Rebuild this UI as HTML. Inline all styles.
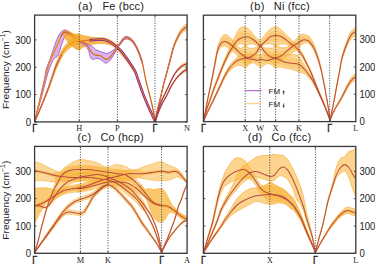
<!DOCTYPE html>
<html><head><meta charset="utf-8"><style>
html,body{margin:0;padding:0;background:#fff;width:375px;height:264px;overflow:hidden}
svg{display:block}
.tk{font-family:"Liberation Sans",sans-serif;font-size:9.6px;fill:#222}
.tt{font-family:"Liberation Sans",sans-serif;font-size:11px;fill:#222}
.xl{font-family:"Liberation Serif",serif;font-size:8.4px;fill:#222}
.xg{font-family:"Liberation Sans",sans-serif;font-size:9.4px;stroke:#222;stroke-width:0.35px}
.yl{font-family:"Liberation Sans",sans-serif;font-size:9.6px;fill:#222}
.lg{font-family:"Liberation Sans",sans-serif;font-size:8px;fill:#222}
</style></head><body>
<svg width="375" height="264" viewBox="0 0 375 264">
<rect width="375" height="264" fill="#fff"/>
<clipPath id="cpa"><rect x="34.6" y="15.1" width="152.50" height="106.80"/></clipPath>
<g clip-path="url(#cpa)">
<path d="M34.60,121.90 C35.17,119.42 36.85,111.98 38.00,107.00 C39.15,102.02 40.42,96.67 41.50,92.00 C42.58,87.33 43.70,82.83 44.50,79.00 C45.30,75.17 45.32,72.48 46.30,69.00 C47.28,65.52 49.03,61.97 50.40,58.10 C51.77,54.23 53.30,49.22 54.50,45.80 C55.70,42.38 56.57,39.82 57.60,37.60 C58.63,35.38 59.67,33.77 60.70,32.50 C61.73,31.23 62.77,30.35 63.80,30.00 C64.83,29.65 65.70,29.88 66.90,30.40 C68.10,30.92 69.63,32.07 71.00,33.10 C72.37,34.13 73.67,35.58 75.10,36.60 C76.53,37.62 78.85,38.77 79.60,39.20 L79.60,40.70 C79.00,40.38 77.27,39.48 76.00,38.80 C74.73,38.12 73.35,37.32 72.00,36.60 C70.65,35.88 69.10,34.50 67.90,34.50 C66.70,34.50 65.67,35.40 64.80,36.60 C63.93,37.80 63.30,40.13 62.70,41.70 C62.10,43.27 61.70,44.47 61.20,46.00 C60.70,47.53 60.30,49.22 59.70,50.90 C59.10,52.58 58.47,54.90 57.60,56.10 C56.73,57.30 55.35,57.25 54.50,58.10 C53.65,58.95 53.18,59.88 52.50,61.20 C51.82,62.52 51.07,64.37 50.40,66.00 C49.73,67.63 49.23,68.67 48.50,71.00 C47.77,73.33 47.00,76.25 46.00,80.00 C45.00,83.75 43.75,88.83 42.50,93.50 C41.25,98.17 39.82,103.27 38.50,108.00 C37.18,112.73 35.25,119.58 34.60,121.90 Z" fill="#c08ae0" fill-opacity="0.65" stroke="none"/><path d="M34.60,121.90 C35.17,119.42 36.85,111.98 38.00,107.00 C39.15,102.02 40.42,96.67 41.50,92.00 C42.58,87.33 43.70,82.83 44.50,79.00 C45.30,75.17 45.32,72.48 46.30,69.00 C47.28,65.52 49.03,61.97 50.40,58.10 C51.77,54.23 53.30,49.22 54.50,45.80 C55.70,42.38 56.57,39.82 57.60,37.60 C58.63,35.38 59.67,33.77 60.70,32.50 C61.73,31.23 62.77,30.35 63.80,30.00 C64.83,29.65 65.70,29.88 66.90,30.40 C68.10,30.92 69.63,32.07 71.00,33.10 C72.37,34.13 73.67,35.58 75.10,36.60 C76.53,37.62 78.85,38.77 79.60,39.20" fill="none" stroke="#9c4dcc" stroke-width="0.9" stroke-opacity="0.9"/><path d="M79.60,40.70 C79.00,40.38 77.27,39.48 76.00,38.80 C74.73,38.12 73.35,37.32 72.00,36.60 C70.65,35.88 69.10,34.50 67.90,34.50 C66.70,34.50 65.67,35.40 64.80,36.60 C63.93,37.80 63.30,40.13 62.70,41.70 C62.10,43.27 61.70,44.47 61.20,46.00 C60.70,47.53 60.30,49.22 59.70,50.90 C59.10,52.58 58.47,54.90 57.60,56.10 C56.73,57.30 55.35,57.25 54.50,58.10 C53.65,58.95 53.18,59.88 52.50,61.20 C51.82,62.52 51.07,64.37 50.40,66.00 C49.73,67.63 49.23,68.67 48.50,71.00 C47.77,73.33 47.00,76.25 46.00,80.00 C45.00,83.75 43.75,88.83 42.50,93.50 C41.25,98.17 39.82,103.27 38.50,108.00 C37.18,112.73 35.25,119.58 34.60,121.90" fill="none" stroke="#9c4dcc" stroke-width="0.9" stroke-opacity="0.9"/>
<path d="M34.60,121.70 C35.17,119.27 36.85,111.98 38.00,107.10 C39.15,102.22 40.33,97.28 41.50,92.40 C42.67,87.52 44.00,81.83 45.00,77.80 C46.00,73.77 46.75,70.90 47.50,68.20 C48.25,65.50 48.82,63.53 49.50,61.60 C50.18,59.67 50.78,58.42 51.60,56.60 C52.42,54.78 53.57,52.55 54.40,50.70 C55.23,48.85 55.85,47.23 56.60,45.50 C57.35,43.77 58.13,42.08 58.90,40.30 C59.67,38.52 60.43,36.27 61.20,34.80 C61.97,33.33 62.73,32.18 63.50,31.50 C64.27,30.82 64.97,30.77 65.80,30.70 C66.63,30.63 67.58,30.80 68.50,31.10 C69.42,31.40 70.38,32.02 71.30,32.50 C72.22,32.98 73.10,33.48 74.00,34.00 C74.90,34.52 75.82,35.10 76.70,35.60 C77.58,36.10 78.87,36.77 79.30,37.00 L79.30,43.00 C78.87,42.73 77.58,42.00 76.70,41.40 C75.82,40.80 74.90,40.08 74.00,39.40 C73.10,38.72 72.22,38.02 71.30,37.30 C70.38,36.58 69.42,35.70 68.50,35.10 C67.58,34.50 66.63,33.93 65.80,33.70 C64.97,33.47 64.27,33.18 63.50,33.70 C62.73,34.22 61.97,35.37 61.20,36.80 C60.43,38.23 59.67,40.52 58.90,42.30 C58.13,44.08 57.35,45.77 56.60,47.50 C55.85,49.23 55.23,50.88 54.40,52.70 C53.57,54.52 52.42,56.62 51.60,58.40 C50.78,60.18 50.18,61.50 49.50,63.40 C48.82,65.30 48.25,67.17 47.50,69.80 C46.75,72.43 46.00,75.23 45.00,79.20 C44.00,83.17 42.67,88.82 41.50,93.60 C40.33,98.38 39.15,103.15 38.00,107.90 C36.85,112.65 35.17,119.73 34.60,122.10 Z" fill="#f9b232" fill-opacity="0.75" stroke="none"/><path d="M34.60,121.70 C35.17,119.27 36.85,111.98 38.00,107.10 C39.15,102.22 40.33,97.28 41.50,92.40 C42.67,87.52 44.00,81.83 45.00,77.80 C46.00,73.77 46.75,70.90 47.50,68.20 C48.25,65.50 48.82,63.53 49.50,61.60 C50.18,59.67 50.78,58.42 51.60,56.60 C52.42,54.78 53.57,52.55 54.40,50.70 C55.23,48.85 55.85,47.23 56.60,45.50 C57.35,43.77 58.13,42.08 58.90,40.30 C59.67,38.52 60.43,36.27 61.20,34.80 C61.97,33.33 62.73,32.18 63.50,31.50 C64.27,30.82 64.97,30.77 65.80,30.70 C66.63,30.63 67.58,30.80 68.50,31.10 C69.42,31.40 70.38,32.02 71.30,32.50 C72.22,32.98 73.10,33.48 74.00,34.00 C74.90,34.52 75.82,35.10 76.70,35.60 C77.58,36.10 78.87,36.77 79.30,37.00" fill="none" stroke="#f39c12" stroke-width="0.5" stroke-opacity="0.9"/><path d="M79.30,43.00 C78.87,42.73 77.58,42.00 76.70,41.40 C75.82,40.80 74.90,40.08 74.00,39.40 C73.10,38.72 72.22,38.02 71.30,37.30 C70.38,36.58 69.42,35.70 68.50,35.10 C67.58,34.50 66.63,33.93 65.80,33.70 C64.97,33.47 64.27,33.18 63.50,33.70 C62.73,34.22 61.97,35.37 61.20,36.80 C60.43,38.23 59.67,40.52 58.90,42.30 C58.13,44.08 57.35,45.77 56.60,47.50 C55.85,49.23 55.23,50.88 54.40,52.70 C53.57,54.52 52.42,56.62 51.60,58.40 C50.78,60.18 50.18,61.50 49.50,63.40 C48.82,65.30 48.25,67.17 47.50,69.80 C46.75,72.43 46.00,75.23 45.00,79.20 C44.00,83.17 42.67,88.82 41.50,93.60 C40.33,98.38 39.15,103.15 38.00,107.90 C36.85,112.65 35.17,119.73 34.60,122.10" fill="none" stroke="#f39c12" stroke-width="0.5" stroke-opacity="0.9"/>
<path d="M34.60,121.90 C35.17,119.50 36.85,112.32 38.00,107.50 C39.15,102.68 40.33,97.83 41.50,93.00 C42.67,88.17 44.00,82.50 45.00,78.50 C46.00,74.50 46.75,71.67 47.50,69.00 C48.25,66.33 48.82,64.42 49.50,62.50 C50.18,60.58 50.78,59.30 51.60,57.50 C52.42,55.70 53.57,53.53 54.40,51.70 C55.23,49.87 55.85,48.23 56.60,46.50 C57.35,44.77 58.13,43.08 58.90,41.30 C59.67,39.52 60.43,37.25 61.20,35.80 C61.97,34.35 62.73,33.20 63.50,32.60 C64.27,32.00 64.97,32.12 65.80,32.20 C66.63,32.28 67.58,32.65 68.50,33.10 C69.42,33.55 70.38,34.30 71.30,34.90 C72.22,35.50 73.10,36.10 74.00,36.70 C74.90,37.30 75.82,37.95 76.70,38.50 C77.58,39.05 78.87,39.75 79.30,40.00" fill="none" stroke="#ea7a12" stroke-width="0.9" stroke-opacity="1.0" stroke-linecap="round" stroke-linejoin="round"/>
<path d="M61.20,35.80 C61.58,35.27 62.73,33.20 63.50,32.60 C64.27,32.00 64.97,32.12 65.80,32.20 C66.63,32.28 67.58,32.65 68.50,33.10 C69.42,33.55 70.38,34.30 71.30,34.90 C72.22,35.50 73.10,36.10 74.00,36.70 C74.90,37.30 75.82,37.95 76.70,38.50 C77.58,39.05 78.87,39.75 79.30,40.00" fill="none" stroke="#b8452c" stroke-width="1.6" stroke-opacity="0.55" stroke-linecap="round" stroke-linejoin="round"/>
<path d="M34.60,121.70 C35.50,119.53 38.27,113.03 40.00,108.70 C41.73,104.37 43.45,99.80 45.00,95.70 C46.55,91.60 48.02,87.80 49.30,84.10 C50.58,80.40 51.65,76.77 52.70,73.50 C53.75,70.23 54.65,67.13 55.60,64.50 C56.55,61.87 57.37,60.03 58.40,57.70 C59.43,55.37 60.62,52.62 61.80,50.50 C62.98,48.38 64.13,46.62 65.50,45.00 C66.87,43.38 68.50,41.97 70.00,40.80 C71.50,39.63 72.95,38.63 74.50,38.00 C76.05,37.37 78.50,37.17 79.30,37.00 L79.30,44.00 C78.50,44.17 76.05,44.37 74.50,45.00 C72.95,45.63 71.50,46.63 70.00,47.80 C68.50,48.97 66.87,50.38 65.50,52.00 C64.13,53.62 62.98,55.45 61.80,57.50 C60.62,59.55 59.43,62.13 58.40,64.30 C57.37,66.47 56.55,68.13 55.60,70.50 C54.65,72.87 53.75,75.60 52.70,78.50 C51.65,81.40 50.58,84.60 49.30,87.90 C48.02,91.20 46.55,94.57 45.00,98.30 C43.45,102.03 41.73,106.33 40.00,110.30 C38.27,114.27 35.50,120.13 34.60,122.10 Z" fill="#f9b232" fill-opacity="0.8" stroke="none"/><path d="M34.60,121.70 C35.50,119.53 38.27,113.03 40.00,108.70 C41.73,104.37 43.45,99.80 45.00,95.70 C46.55,91.60 48.02,87.80 49.30,84.10 C50.58,80.40 51.65,76.77 52.70,73.50 C53.75,70.23 54.65,67.13 55.60,64.50 C56.55,61.87 57.37,60.03 58.40,57.70 C59.43,55.37 60.62,52.62 61.80,50.50 C62.98,48.38 64.13,46.62 65.50,45.00 C66.87,43.38 68.50,41.97 70.00,40.80 C71.50,39.63 72.95,38.63 74.50,38.00 C76.05,37.37 78.50,37.17 79.30,37.00" fill="none" stroke="#f39c12" stroke-width="0.6" stroke-opacity="0.9"/><path d="M79.30,44.00 C78.50,44.17 76.05,44.37 74.50,45.00 C72.95,45.63 71.50,46.63 70.00,47.80 C68.50,48.97 66.87,50.38 65.50,52.00 C64.13,53.62 62.98,55.45 61.80,57.50 C60.62,59.55 59.43,62.13 58.40,64.30 C57.37,66.47 56.55,68.13 55.60,70.50 C54.65,72.87 53.75,75.60 52.70,78.50 C51.65,81.40 50.58,84.60 49.30,87.90 C48.02,91.20 46.55,94.57 45.00,98.30 C43.45,102.03 41.73,106.33 40.00,110.30 C38.27,114.27 35.50,120.13 34.60,122.10" fill="none" stroke="#f39c12" stroke-width="0.6" stroke-opacity="0.9"/>
<path d="M34.10,122.90 C35.00,120.83 37.77,114.65 39.50,110.50 C41.23,106.35 42.95,101.92 44.50,98.00 C46.05,94.08 47.52,90.50 48.80,87.00 C50.08,83.50 51.15,80.08 52.20,77.00 C53.25,73.92 54.15,71.00 55.10,68.50 C56.05,66.00 56.87,64.25 57.90,62.00 C58.93,59.75 60.73,56.17 61.30,55.00" fill="none" stroke="#7b1fa2" stroke-width="1.1" stroke-opacity="1.0" stroke-linecap="round" stroke-linejoin="round"/>
<path d="M34.60,121.90 C35.50,119.83 38.27,113.65 40.00,109.50 C41.73,105.35 43.45,100.92 45.00,97.00 C46.55,93.08 48.02,89.50 49.30,86.00 C50.58,82.50 51.65,79.08 52.70,76.00 C53.75,72.92 54.65,70.00 55.60,67.50 C56.55,65.00 57.37,63.25 58.40,61.00 C59.43,58.75 60.62,56.08 61.80,54.00 C62.98,51.92 64.13,50.12 65.50,48.50 C66.87,46.88 68.50,45.47 70.00,44.30 C71.50,43.13 72.95,42.13 74.50,41.50 C76.05,40.87 78.50,40.67 79.30,40.50" fill="none" stroke="#ea7a12" stroke-width="1.0" stroke-opacity="1.0" stroke-linecap="round" stroke-linejoin="round"/>
<path d="M64.00,34.50 C64.50,34.58 66.00,35.00 67.00,35.00 C68.00,35.00 69.00,34.67 70.00,34.50 C71.00,34.33 72.00,34.08 73.00,34.00 C74.00,33.92 74.95,34.00 76.00,34.00 C77.05,34.00 78.30,33.83 79.30,34.00 C80.30,34.17 80.95,34.67 82.00,35.00 C83.05,35.33 84.23,35.67 85.60,36.00 C86.97,36.33 88.68,36.73 90.20,37.00 C91.72,37.27 93.18,37.50 94.70,37.60 C96.22,37.70 97.58,37.50 99.30,37.60 C101.02,37.70 103.05,37.73 105.00,38.20 C106.95,38.67 108.98,39.22 111.00,40.40 C113.02,41.58 115.43,43.57 117.10,45.30 C118.77,47.03 119.52,48.80 121.00,50.80 C122.48,52.80 124.33,55.03 126.00,57.30 C127.67,59.57 129.47,62.07 131.00,64.40 C132.53,66.73 134.50,70.15 135.20,71.30 L135.20,73.70 C134.50,72.62 132.53,69.43 131.00,67.20 C129.47,64.97 127.67,62.47 126.00,60.30 C124.33,58.13 122.48,56.03 121.00,54.20 C119.52,52.37 118.77,50.80 117.10,49.30 C115.43,47.80 113.02,46.12 111.00,45.20 C108.98,44.28 106.95,44.07 105.00,43.80 C103.05,43.53 101.02,43.57 99.30,43.60 C97.58,43.63 96.22,43.83 94.70,44.00 C93.18,44.17 91.72,44.27 90.20,44.60 C88.68,44.93 86.97,45.43 85.60,46.00 C84.23,46.57 83.05,47.33 82.00,48.00 C80.95,48.67 80.30,49.83 79.30,50.00 C78.30,50.17 77.05,49.50 76.00,49.00 C74.95,48.50 74.00,47.75 73.00,47.00 C72.00,46.25 71.00,45.50 70.00,44.50 C69.00,43.50 68.00,42.17 67.00,41.00 C66.00,39.83 64.50,38.08 64.00,37.50 Z" fill="#f6a623" fill-opacity="0.8" stroke="none"/><path d="M64.00,34.50 C64.50,34.58 66.00,35.00 67.00,35.00 C68.00,35.00 69.00,34.67 70.00,34.50 C71.00,34.33 72.00,34.08 73.00,34.00 C74.00,33.92 74.95,34.00 76.00,34.00 C77.05,34.00 78.30,33.83 79.30,34.00 C80.30,34.17 80.95,34.67 82.00,35.00 C83.05,35.33 84.23,35.67 85.60,36.00 C86.97,36.33 88.68,36.73 90.20,37.00 C91.72,37.27 93.18,37.50 94.70,37.60 C96.22,37.70 97.58,37.50 99.30,37.60 C101.02,37.70 103.05,37.73 105.00,38.20 C106.95,38.67 108.98,39.22 111.00,40.40 C113.02,41.58 115.43,43.57 117.10,45.30 C118.77,47.03 119.52,48.80 121.00,50.80 C122.48,52.80 124.33,55.03 126.00,57.30 C127.67,59.57 129.47,62.07 131.00,64.40 C132.53,66.73 134.50,70.15 135.20,71.30" fill="none" stroke="#f39c12" stroke-width="0.6" stroke-opacity="0.9"/><path d="M135.20,73.70 C134.50,72.62 132.53,69.43 131.00,67.20 C129.47,64.97 127.67,62.47 126.00,60.30 C124.33,58.13 122.48,56.03 121.00,54.20 C119.52,52.37 118.77,50.80 117.10,49.30 C115.43,47.80 113.02,46.12 111.00,45.20 C108.98,44.28 106.95,44.07 105.00,43.80 C103.05,43.53 101.02,43.57 99.30,43.60 C97.58,43.63 96.22,43.83 94.70,44.00 C93.18,44.17 91.72,44.27 90.20,44.60 C88.68,44.93 86.97,45.43 85.60,46.00 C84.23,46.57 83.05,47.33 82.00,48.00 C80.95,48.67 80.30,49.83 79.30,50.00 C78.30,50.17 77.05,49.50 76.00,49.00 C74.95,48.50 74.00,47.75 73.00,47.00 C72.00,46.25 71.00,45.50 70.00,44.50 C69.00,43.50 68.00,42.17 67.00,41.00 C66.00,39.83 64.50,38.08 64.00,37.50" fill="none" stroke="#f39c12" stroke-width="0.6" stroke-opacity="0.9"/>
<path d="M90.00,40.20 C91.00,40.13 93.87,39.90 96.00,39.80 C98.13,39.70 100.98,39.47 102.80,39.60 C104.62,39.73 105.30,39.95 106.90,40.60 C108.50,41.25 110.70,42.40 112.40,43.50 C114.10,44.60 115.52,45.82 117.10,47.20 C118.68,48.58 120.42,50.12 121.90,51.80 C123.38,53.48 124.48,55.15 126.00,57.30 C127.52,59.45 129.47,62.33 131.00,64.70 C132.53,67.07 134.05,69.08 135.20,71.50 C136.35,73.92 136.53,75.35 137.90,79.20 C139.27,83.05 141.57,89.83 143.40,94.60 C145.23,99.37 147.47,104.48 148.90,107.80 C150.33,111.12 150.95,112.20 152.00,114.50 C153.05,116.80 154.67,120.42 155.20,121.60" fill="none" stroke="#7b1fa2" stroke-width="2.6" stroke-opacity="1.0" stroke-linecap="round" stroke-linejoin="round"/>
<path d="M79.30,41.00 C80.08,40.93 82.22,40.73 84.00,40.60 C85.78,40.47 88.00,40.33 90.00,40.20 C92.00,40.07 93.87,39.90 96.00,39.80 C98.13,39.70 100.98,39.47 102.80,39.60 C104.62,39.73 105.30,39.95 106.90,40.60 C108.50,41.25 110.70,42.40 112.40,43.50 C114.10,44.60 115.52,45.82 117.10,47.20 C118.68,48.58 120.42,50.12 121.90,51.80 C123.38,53.48 124.48,55.15 126.00,57.30 C127.52,59.45 129.47,62.33 131.00,64.70 C132.53,67.07 134.05,69.08 135.20,71.50 C136.35,73.92 136.53,75.35 137.90,79.20 C139.27,83.05 141.57,89.83 143.40,94.60 C145.23,99.37 147.47,104.48 148.90,107.80 C150.33,111.12 150.95,112.20 152.00,114.50 C153.05,116.80 154.67,120.42 155.20,121.60" fill="none" stroke="#ea7a12" stroke-width="1.1" stroke-opacity="1.0" stroke-linecap="round" stroke-linejoin="round"/>
<path d="M79.30,41.50 C79.92,41.67 81.88,42.17 83.00,42.50 C84.12,42.83 85.08,43.13 86.00,43.50 C86.92,43.87 87.67,44.35 88.50,44.70 C89.33,45.05 90.17,45.17 91.00,45.60 C91.83,46.03 92.70,46.63 93.50,47.30 C94.30,47.97 94.62,48.88 95.80,49.60 C96.98,50.32 98.98,50.98 100.60,51.60 C102.22,52.22 104.08,53.10 105.50,53.30 C106.92,53.50 107.70,53.42 109.10,52.80 C110.50,52.18 112.68,50.52 113.90,49.60 C115.12,48.68 115.63,48.10 116.40,47.30 C117.17,46.50 117.80,45.77 118.50,44.80 C119.20,43.83 119.80,42.63 120.60,41.50 C121.40,40.37 122.40,38.85 123.30,38.00 C124.20,37.15 125.00,36.53 126.00,36.40 C127.00,36.27 128.18,36.60 129.30,37.20 C130.42,37.80 131.58,38.70 132.70,40.00 C133.82,41.30 134.90,42.92 136.00,45.00 C137.10,47.08 138.22,49.67 139.30,52.50 C140.38,55.33 141.97,60.42 142.50,62.00 L142.50,64.50 C141.97,62.92 140.38,57.82 139.30,55.00 C138.22,52.18 137.10,49.67 136.00,47.60 C134.90,45.53 133.82,43.90 132.70,42.60 C131.58,41.30 130.42,40.40 129.30,39.80 C128.18,39.20 127.00,38.87 126.00,39.00 C125.00,39.13 124.20,39.73 123.30,40.60 C122.40,41.47 121.40,43.17 120.60,44.20 C119.80,45.23 119.20,45.83 118.50,46.80 C117.80,47.77 117.17,48.70 116.40,50.00 C115.63,51.30 114.92,52.92 113.90,54.60 C112.88,56.28 111.50,58.70 110.30,60.10 C109.10,61.50 107.72,62.62 106.70,63.00 C105.68,63.38 105.22,62.97 104.20,62.40 C103.18,61.83 101.80,60.27 100.60,59.60 C99.40,58.93 98.02,58.48 97.00,58.40 C95.98,58.32 95.32,58.95 94.50,59.10 C93.68,59.25 92.80,59.68 92.10,59.30 C91.40,58.92 90.90,58.30 90.30,56.80 C89.70,55.30 89.22,52.02 88.50,50.30 C87.78,48.58 86.92,47.52 86.00,46.50 C85.08,45.48 84.12,45.03 83.00,44.20 C81.88,43.37 79.92,41.95 79.30,41.50 Z" fill="#c08ae0" fill-opacity="0.65" stroke="none"/><path d="M79.30,41.50 C79.92,41.67 81.88,42.17 83.00,42.50 C84.12,42.83 85.08,43.13 86.00,43.50 C86.92,43.87 87.67,44.35 88.50,44.70 C89.33,45.05 90.17,45.17 91.00,45.60 C91.83,46.03 92.70,46.63 93.50,47.30 C94.30,47.97 94.62,48.88 95.80,49.60 C96.98,50.32 98.98,50.98 100.60,51.60 C102.22,52.22 104.08,53.10 105.50,53.30 C106.92,53.50 107.70,53.42 109.10,52.80 C110.50,52.18 112.68,50.52 113.90,49.60 C115.12,48.68 115.63,48.10 116.40,47.30 C117.17,46.50 117.80,45.77 118.50,44.80 C119.20,43.83 119.80,42.63 120.60,41.50 C121.40,40.37 122.40,38.85 123.30,38.00 C124.20,37.15 125.00,36.53 126.00,36.40 C127.00,36.27 128.18,36.60 129.30,37.20 C130.42,37.80 131.58,38.70 132.70,40.00 C133.82,41.30 134.90,42.92 136.00,45.00 C137.10,47.08 138.22,49.67 139.30,52.50 C140.38,55.33 141.97,60.42 142.50,62.00" fill="none" stroke="#9c4dcc" stroke-width="0.9" stroke-opacity="0.9"/><path d="M142.50,64.50 C141.97,62.92 140.38,57.82 139.30,55.00 C138.22,52.18 137.10,49.67 136.00,47.60 C134.90,45.53 133.82,43.90 132.70,42.60 C131.58,41.30 130.42,40.40 129.30,39.80 C128.18,39.20 127.00,38.87 126.00,39.00 C125.00,39.13 124.20,39.73 123.30,40.60 C122.40,41.47 121.40,43.17 120.60,44.20 C119.80,45.23 119.20,45.83 118.50,46.80 C117.80,47.77 117.17,48.70 116.40,50.00 C115.63,51.30 114.92,52.92 113.90,54.60 C112.88,56.28 111.50,58.70 110.30,60.10 C109.10,61.50 107.72,62.62 106.70,63.00 C105.68,63.38 105.22,62.97 104.20,62.40 C103.18,61.83 101.80,60.27 100.60,59.60 C99.40,58.93 98.02,58.48 97.00,58.40 C95.98,58.32 95.32,58.95 94.50,59.10 C93.68,59.25 92.80,59.68 92.10,59.30 C91.40,58.92 90.90,58.30 90.30,56.80 C89.70,55.30 89.22,52.02 88.50,50.30 C87.78,48.58 86.92,47.52 86.00,46.50 C85.08,45.48 84.12,45.03 83.00,44.20 C81.88,43.37 79.92,41.95 79.30,41.50" fill="none" stroke="#9c4dcc" stroke-width="0.9" stroke-opacity="0.9"/>
<path d="M79.30,41.50 C80.22,41.68 83.27,41.63 84.80,42.60 C86.33,43.57 87.28,45.53 88.50,47.30 C89.72,49.07 90.88,51.90 92.10,53.20 C93.32,54.50 94.38,54.67 95.80,55.10 C97.22,55.53 99.20,55.22 100.60,55.80 C102.00,56.38 103.18,58.02 104.20,58.60 C105.22,59.18 105.68,59.57 106.70,59.30 C107.72,59.03 109.10,58.18 110.30,57.00 C111.50,55.82 112.88,53.53 113.90,52.20 C114.92,50.87 115.63,50.07 116.40,49.00 C117.17,47.93 118.15,46.33 118.50,45.80" fill="none" stroke="#ea7a12" stroke-width="1.1" stroke-opacity="1.0" stroke-linecap="round" stroke-linejoin="round"/>
<path d="M84.80,42.60 C85.42,43.38 87.28,45.53 88.50,47.30 C89.72,49.07 90.88,51.90 92.10,53.20 C93.32,54.50 94.38,54.67 95.80,55.10 C97.22,55.53 99.20,55.22 100.60,55.80 C102.00,56.38 103.18,58.02 104.20,58.60 C105.22,59.18 105.68,59.57 106.70,59.30 C107.72,59.03 109.10,58.18 110.30,57.00 C111.50,55.82 112.88,53.53 113.90,52.20 C114.92,50.87 115.98,49.53 116.40,49.00" fill="none" stroke="#b8452c" stroke-width="0.7" stroke-opacity="0.6" stroke-linecap="round" stroke-linejoin="round"/>
<path d="M116.40,48.10 C116.75,47.57 117.80,45.93 118.50,44.90 C119.20,43.87 119.80,42.98 120.60,41.90 C121.40,40.82 122.40,39.25 123.30,38.40 C124.20,37.55 125.00,36.93 126.00,36.80 C127.00,36.67 128.18,37.00 129.30,37.60 C130.42,38.20 131.58,39.10 132.70,40.40 C133.82,41.70 134.90,43.33 136.00,45.40 C137.10,47.47 138.22,49.98 139.30,52.80 C140.38,55.62 141.97,60.72 142.50,62.30 L142.50,64.10 C141.97,62.52 140.38,57.42 139.30,54.60 C138.22,51.78 137.10,49.27 136.00,47.20 C134.90,45.13 133.82,43.50 132.70,42.20 C131.58,40.90 130.42,40.00 129.30,39.40 C128.18,38.80 127.00,38.47 126.00,38.60 C125.00,38.73 124.20,39.35 123.30,40.20 C122.40,41.05 121.40,42.62 120.60,43.70 C119.80,44.78 119.20,45.67 118.50,46.70 C117.80,47.73 116.75,49.37 116.40,49.90 Z" fill="#f9b232" fill-opacity="0.6" stroke="none"/>
<path d="M116.40,49.00 C116.75,48.47 117.80,46.83 118.50,45.80 C119.20,44.77 119.80,43.88 120.60,42.80 C121.40,41.72 122.40,40.15 123.30,39.30 C124.20,38.45 125.00,37.83 126.00,37.70 C127.00,37.57 128.18,37.90 129.30,38.50 C130.42,39.10 131.58,40.00 132.70,41.30 C133.82,42.60 134.90,44.23 136.00,46.30 C137.10,48.37 138.22,50.88 139.30,53.70 C140.38,56.52 141.45,58.95 142.50,63.20 C143.55,67.45 144.53,74.33 145.60,79.20 C146.67,84.07 147.80,88.00 148.90,92.40 C150.00,96.80 151.15,100.73 152.20,105.60 C153.25,110.47 154.70,118.93 155.20,121.60" fill="none" stroke="#ea7a12" stroke-width="1.2" stroke-opacity="1.0" stroke-linecap="round" stroke-linejoin="round"/>
<path d="M116.40,49.00 C116.75,48.47 117.80,46.83 118.50,45.80 C119.20,44.77 119.80,43.88 120.60,42.80 C121.40,41.72 122.40,40.15 123.30,39.30 C124.20,38.45 125.00,37.83 126.00,37.70 C127.00,37.57 128.18,37.90 129.30,38.50 C130.42,39.10 131.58,40.00 132.70,41.30 C133.82,42.60 134.90,44.23 136.00,46.30 C137.10,48.37 138.22,50.88 139.30,53.70 C140.38,56.52 141.45,58.95 142.50,63.20 C143.55,67.45 144.53,74.33 145.60,79.20 C146.67,84.07 147.80,88.00 148.90,92.40 C150.00,96.80 151.15,100.73 152.20,105.60 C153.25,110.47 154.70,118.93 155.20,121.60" fill="none" stroke="#b8452c" stroke-width="0.7" stroke-opacity="0.7" stroke-linecap="round" stroke-linejoin="round"/>
<path d="M155.20,121.40 C155.58,119.43 156.58,113.77 157.50,109.60 C158.42,105.43 159.75,100.47 160.70,96.40 C161.65,92.33 162.40,88.52 163.20,85.20 C164.00,81.88 164.70,79.57 165.50,76.50 C166.30,73.43 167.22,69.78 168.00,66.80 C168.78,63.82 169.27,62.18 170.20,58.60 C171.13,55.02 172.37,49.15 173.60,45.30 C174.83,41.45 176.28,38.32 177.60,35.50 C178.92,32.68 180.20,30.25 181.50,28.40 C182.80,26.55 184.40,25.28 185.40,24.40 C186.40,23.52 187.15,23.32 187.50,23.10 L187.50,30.10 C187.15,30.22 186.40,30.22 185.40,30.80 C184.40,31.38 182.80,32.15 181.50,33.60 C180.20,35.05 178.92,36.98 177.60,39.50 C176.28,42.02 174.83,45.05 173.60,48.70 C172.37,52.35 171.13,57.98 170.20,61.40 C169.27,64.82 168.78,66.35 168.00,69.20 C167.22,72.05 166.30,75.57 165.50,78.50 C164.70,81.43 164.00,83.62 163.20,86.80 C162.40,89.98 161.65,93.67 160.70,97.60 C159.75,101.53 158.42,106.37 157.50,110.40 C156.58,114.43 155.58,119.90 155.20,121.80 Z" fill="#f9b232" fill-opacity="0.6" stroke="none"/><path d="M155.20,121.40 C155.58,119.43 156.58,113.77 157.50,109.60 C158.42,105.43 159.75,100.47 160.70,96.40 C161.65,92.33 162.40,88.52 163.20,85.20 C164.00,81.88 164.70,79.57 165.50,76.50 C166.30,73.43 167.22,69.78 168.00,66.80 C168.78,63.82 169.27,62.18 170.20,58.60 C171.13,55.02 172.37,49.15 173.60,45.30 C174.83,41.45 176.28,38.32 177.60,35.50 C178.92,32.68 180.20,30.25 181.50,28.40 C182.80,26.55 184.40,25.28 185.40,24.40 C186.40,23.52 187.15,23.32 187.50,23.10" fill="none" stroke="#f39c12" stroke-width="0.6" stroke-opacity="0.9"/><path d="M187.50,30.10 C187.15,30.22 186.40,30.22 185.40,30.80 C184.40,31.38 182.80,32.15 181.50,33.60 C180.20,35.05 178.92,36.98 177.60,39.50 C176.28,42.02 174.83,45.05 173.60,48.70 C172.37,52.35 171.13,57.98 170.20,61.40 C169.27,64.82 168.78,66.35 168.00,69.20 C167.22,72.05 166.30,75.57 165.50,78.50 C164.70,81.43 164.00,83.62 163.20,86.80 C162.40,89.98 161.65,93.67 160.70,97.60 C159.75,101.53 158.42,106.37 157.50,110.40 C156.58,114.43 155.58,119.90 155.20,121.80" fill="none" stroke="#f39c12" stroke-width="0.6" stroke-opacity="0.9"/>
<path d="M155.20,121.60 C155.58,119.67 156.58,114.10 157.50,110.00 C158.42,105.90 159.75,101.00 160.70,97.00 C161.65,93.00 162.40,89.25 163.20,86.00 C164.00,82.75 164.70,80.50 165.50,77.50 C166.30,74.50 167.22,70.92 168.00,68.00 C168.78,65.08 169.27,63.50 170.20,60.00 C171.13,56.50 172.37,50.75 173.60,47.00 C174.83,43.25 176.28,40.17 177.60,37.50 C178.92,34.83 180.20,32.65 181.50,31.00 C182.80,29.35 184.40,28.33 185.40,27.60 C186.40,26.87 187.15,26.77 187.50,26.60" fill="none" stroke="#7b1fa2" stroke-width="1.2" stroke-opacity="0.8" stroke-linecap="round" stroke-linejoin="round"/>
<path d="M155.20,121.60 C155.58,119.67 156.58,114.10 157.50,110.00 C158.42,105.90 159.75,101.00 160.70,97.00 C161.65,93.00 162.40,89.25 163.20,86.00 C164.00,82.75 164.70,80.50 165.50,77.50 C166.30,74.50 167.22,70.92 168.00,68.00 C168.78,65.08 169.27,63.50 170.20,60.00 C171.13,56.50 172.37,50.75 173.60,47.00 C174.83,43.25 176.28,40.17 177.60,37.50 C178.92,34.83 180.20,32.65 181.50,31.00 C182.80,29.35 184.40,28.33 185.40,27.60 C186.40,26.87 187.15,26.77 187.50,26.60" fill="none" stroke="#ea7a12" stroke-width="1.0" stroke-opacity="1.0" stroke-linecap="round" stroke-linejoin="round"/>
<path d="M155.20,121.40 C155.67,119.62 157.03,114.00 158.00,110.70 C158.97,107.40 159.95,104.27 161.00,101.60 C162.05,98.93 163.13,97.15 164.30,94.70 C165.47,92.25 166.82,89.48 168.00,86.90 C169.18,84.32 170.23,81.60 171.40,79.20 C172.57,76.80 173.80,74.40 175.00,72.50 C176.20,70.60 177.43,69.13 178.60,67.80 C179.77,66.47 180.82,65.40 182.00,64.50 C183.18,63.60 184.70,62.85 185.70,62.40 C186.70,61.95 187.62,61.90 188.00,61.80 L188.00,65.80 C187.62,65.83 186.70,65.72 185.70,66.00 C184.70,66.28 183.18,66.80 182.00,67.50 C180.82,68.20 179.77,69.03 178.60,70.20 C177.43,71.37 176.20,72.73 175.00,74.50 C173.80,76.27 172.57,78.53 171.40,80.80 C170.23,83.07 169.18,85.62 168.00,88.10 C166.82,90.58 165.47,93.32 164.30,95.70 C163.13,98.08 162.05,99.80 161.00,102.40 C159.95,105.00 158.97,108.07 158.00,111.30 C157.03,114.53 155.67,120.05 155.20,121.80 Z" fill="#f9b232" fill-opacity="0.6" stroke="none"/><path d="M155.20,121.40 C155.67,119.62 157.03,114.00 158.00,110.70 C158.97,107.40 159.95,104.27 161.00,101.60 C162.05,98.93 163.13,97.15 164.30,94.70 C165.47,92.25 166.82,89.48 168.00,86.90 C169.18,84.32 170.23,81.60 171.40,79.20 C172.57,76.80 173.80,74.40 175.00,72.50 C176.20,70.60 177.43,69.13 178.60,67.80 C179.77,66.47 180.82,65.40 182.00,64.50 C183.18,63.60 184.70,62.85 185.70,62.40 C186.70,61.95 187.62,61.90 188.00,61.80" fill="none" stroke="#f39c12" stroke-width="0.5" stroke-opacity="0.9"/><path d="M188.00,65.80 C187.62,65.83 186.70,65.72 185.70,66.00 C184.70,66.28 183.18,66.80 182.00,67.50 C180.82,68.20 179.77,69.03 178.60,70.20 C177.43,71.37 176.20,72.73 175.00,74.50 C173.80,76.27 172.57,78.53 171.40,80.80 C170.23,83.07 169.18,85.62 168.00,88.10 C166.82,90.58 165.47,93.32 164.30,95.70 C163.13,98.08 162.05,99.80 161.00,102.40 C159.95,105.00 158.97,108.07 158.00,111.30 C157.03,114.53 155.67,120.05 155.20,121.80" fill="none" stroke="#f39c12" stroke-width="0.5" stroke-opacity="0.9"/>
<path d="M155.20,121.40 C155.75,119.78 157.37,114.67 158.50,111.70 C159.63,108.73 160.63,106.38 162.00,103.60 C163.37,100.82 165.37,97.62 166.70,95.00 C168.03,92.38 168.82,90.20 170.00,87.90 C171.18,85.60 172.55,83.18 173.80,81.20 C175.05,79.22 176.30,77.48 177.50,76.00 C178.70,74.52 179.92,73.38 181.00,72.30 C182.08,71.22 183.02,70.27 184.00,69.50 C184.98,68.73 186.23,68.12 186.90,67.70 C187.57,67.28 187.82,67.12 188.00,67.00 L188.00,71.00 C187.82,71.05 187.57,71.05 186.90,71.30 C186.23,71.55 184.98,71.93 184.00,72.50 C183.02,73.07 182.08,73.78 181.00,74.70 C179.92,75.62 178.70,76.65 177.50,78.00 C176.30,79.35 175.05,80.95 173.80,82.80 C172.55,84.65 171.18,86.90 170.00,89.10 C168.82,91.30 168.03,93.45 166.70,96.00 C165.37,98.55 163.37,101.68 162.00,104.40 C160.63,107.12 159.63,109.40 158.50,112.30 C157.37,115.20 155.75,120.22 155.20,121.80 Z" fill="#f9b232" fill-opacity="0.6" stroke="none"/><path d="M155.20,121.40 C155.75,119.78 157.37,114.67 158.50,111.70 C159.63,108.73 160.63,106.38 162.00,103.60 C163.37,100.82 165.37,97.62 166.70,95.00 C168.03,92.38 168.82,90.20 170.00,87.90 C171.18,85.60 172.55,83.18 173.80,81.20 C175.05,79.22 176.30,77.48 177.50,76.00 C178.70,74.52 179.92,73.38 181.00,72.30 C182.08,71.22 183.02,70.27 184.00,69.50 C184.98,68.73 186.23,68.12 186.90,67.70 C187.57,67.28 187.82,67.12 188.00,67.00" fill="none" stroke="#f39c12" stroke-width="0.5" stroke-opacity="0.9"/><path d="M188.00,71.00 C187.82,71.05 187.57,71.05 186.90,71.30 C186.23,71.55 184.98,71.93 184.00,72.50 C183.02,73.07 182.08,73.78 181.00,74.70 C179.92,75.62 178.70,76.65 177.50,78.00 C176.30,79.35 175.05,80.95 173.80,82.80 C172.55,84.65 171.18,86.90 170.00,89.10 C168.82,91.30 168.03,93.45 166.70,96.00 C165.37,98.55 163.37,101.68 162.00,104.40 C160.63,107.12 159.63,109.40 158.50,112.30 C157.37,115.20 155.75,120.22 155.20,121.80" fill="none" stroke="#f39c12" stroke-width="0.5" stroke-opacity="0.9"/>
<path d="M155.20,121.60 C155.67,119.83 157.03,114.27 158.00,111.00 C158.97,107.73 159.95,104.63 161.00,102.00 C162.05,99.37 163.13,97.62 164.30,95.20 C165.47,92.78 166.82,90.03 168.00,87.50 C169.18,84.97 170.23,82.33 171.40,80.00 C172.57,77.67 173.80,75.33 175.00,73.50 C176.20,71.67 177.43,70.25 178.60,69.00 C179.77,67.75 180.82,66.80 182.00,66.00 C183.18,65.20 184.70,64.57 185.70,64.20 C186.70,63.83 187.62,63.87 188.00,63.80" fill="none" stroke="#7b1fa2" stroke-width="1.1" stroke-opacity="0.8" stroke-linecap="round" stroke-linejoin="round"/>
<path d="M155.20,121.60 C155.67,119.83 157.03,114.27 158.00,111.00 C158.97,107.73 159.95,104.63 161.00,102.00 C162.05,99.37 163.13,97.62 164.30,95.20 C165.47,92.78 166.82,90.03 168.00,87.50 C169.18,84.97 170.23,82.33 171.40,80.00 C172.57,77.67 173.80,75.33 175.00,73.50 C176.20,71.67 177.43,70.25 178.60,69.00 C179.77,67.75 180.82,66.80 182.00,66.00 C183.18,65.20 184.70,64.57 185.70,64.20 C186.70,63.83 187.62,63.87 188.00,63.80" fill="none" stroke="#b8452c" stroke-width="0.9" stroke-opacity="1.0" stroke-linecap="round" stroke-linejoin="round"/>
<path d="M155.20,121.60 C155.75,120.00 157.37,114.93 158.50,112.00 C159.63,109.07 160.63,106.75 162.00,104.00 C163.37,101.25 165.37,98.08 166.70,95.50 C168.03,92.92 168.82,90.75 170.00,88.50 C171.18,86.25 172.55,83.92 173.80,82.00 C175.05,80.08 176.30,78.42 177.50,77.00 C178.70,75.58 179.92,74.50 181.00,73.50 C182.08,72.50 183.02,71.67 184.00,71.00 C184.98,70.33 186.23,69.83 186.90,69.50 C187.57,69.17 187.82,69.08 188.00,69.00" fill="none" stroke="#7b1fa2" stroke-width="1.1" stroke-opacity="0.8" stroke-linecap="round" stroke-linejoin="round"/>
<path d="M155.20,121.60 C155.75,120.00 157.37,114.93 158.50,112.00 C159.63,109.07 160.63,106.75 162.00,104.00 C163.37,101.25 165.37,98.08 166.70,95.50 C168.03,92.92 168.82,90.75 170.00,88.50 C171.18,86.25 172.55,83.92 173.80,82.00 C175.05,80.08 176.30,78.42 177.50,77.00 C178.70,75.58 179.92,74.50 181.00,73.50 C182.08,72.50 183.02,71.67 184.00,71.00 C184.98,70.33 186.23,69.83 186.90,69.50 C187.57,69.17 187.82,69.08 188.00,69.00" fill="none" stroke="#b8452c" stroke-width="0.9" stroke-opacity="1.0" stroke-linecap="round" stroke-linejoin="round"/>
</g>
<clipPath id="cpb"><rect x="203.4" y="15.2" width="152.40" height="106.40"/></clipPath>
<g clip-path="url(#cpb)">
<path d="M203.40,121.30 C203.92,119.28 205.37,113.03 206.50,109.20 C207.63,105.37 208.92,102.10 210.20,98.30 C211.48,94.50 212.88,90.12 214.20,86.40 C215.52,82.68 216.95,79.07 218.10,76.00 C219.25,72.93 220.10,70.58 221.10,68.00 C222.10,65.42 223.08,62.95 224.10,60.50 C225.12,58.05 226.18,55.58 227.20,53.30 C228.22,51.02 229.23,48.85 230.20,46.80 C231.17,44.75 232.03,43.05 233.00,41.00 C233.97,38.95 235.00,36.47 236.00,34.50 C237.00,32.53 237.87,30.48 239.00,29.20 C240.13,27.92 241.77,27.20 242.80,26.80 C243.83,26.40 244.20,26.40 245.20,26.80 C246.20,27.20 247.48,28.00 248.80,29.20 C250.12,30.40 251.67,32.38 253.10,34.00 C254.53,35.62 256.20,37.90 257.40,38.90 C258.60,39.90 259.35,40.28 260.30,40.00 C261.25,39.72 262.07,38.40 263.10,37.20 C264.13,36.00 265.32,34.13 266.50,32.80 C267.68,31.47 268.72,30.23 270.20,29.20 C271.68,28.17 273.67,26.58 275.40,26.60 C277.13,26.62 278.85,27.98 280.60,29.30 C282.35,30.62 284.15,32.80 285.90,34.50 C287.65,36.20 289.50,37.95 291.10,39.50 C292.70,41.05 294.22,42.38 295.50,43.80 C296.78,45.22 297.57,46.27 298.80,48.00 C300.03,49.73 301.58,51.87 302.90,54.20 C304.22,56.53 305.43,59.40 306.70,62.00 C307.97,64.60 308.57,65.22 310.50,69.80 C312.43,74.38 316.02,83.82 318.30,89.50 C320.58,95.18 322.25,98.78 324.20,103.90 C326.15,109.02 329.03,117.48 330.00,120.20 L330.00,120.80 C329.03,118.22 326.15,110.18 324.20,105.30 C322.25,100.42 320.58,96.92 318.30,91.50 C316.02,86.08 312.43,77.12 310.50,72.80 C308.57,68.48 307.97,68.03 306.70,65.60 C305.43,63.17 304.22,60.30 302.90,58.20 C301.58,56.10 300.03,54.48 298.80,53.00 C297.57,51.52 296.78,50.38 295.50,49.30 C294.22,48.22 292.70,47.35 291.10,46.50 C289.50,45.65 287.65,44.62 285.90,44.20 C284.15,43.78 282.35,43.78 280.60,44.00 C278.85,44.22 277.13,45.53 275.40,45.50 C273.67,45.47 271.68,44.05 270.20,43.80 C268.72,43.55 267.68,43.82 266.50,44.00 C265.32,44.18 264.13,44.37 263.10,44.90 C262.07,45.43 261.25,47.08 260.30,47.20 C259.35,47.32 258.60,46.13 257.40,45.60 C256.20,45.07 254.53,44.27 253.10,44.00 C251.67,43.73 250.12,43.75 248.80,44.00 C247.48,44.25 246.20,45.50 245.20,45.50 C244.20,45.50 243.83,44.25 242.80,44.00 C241.77,43.75 240.13,43.67 239.00,44.00 C237.87,44.33 237.00,45.00 236.00,46.00 C235.00,47.00 233.97,48.70 233.00,50.00 C232.03,51.30 231.17,52.28 230.20,53.80 C229.23,55.32 228.22,57.15 227.20,59.10 C226.18,61.05 225.12,63.28 224.10,65.50 C223.08,67.72 222.10,69.98 221.10,72.40 C220.10,74.82 219.25,77.13 218.10,80.00 C216.95,82.87 215.52,86.15 214.20,89.60 C212.88,93.05 211.48,97.17 210.20,100.70 C208.92,104.23 207.63,107.27 206.50,110.80 C205.37,114.33 203.92,120.05 203.40,121.90 Z" fill="#fab947" fill-opacity="0.58" stroke="none"/><path d="M203.40,121.30 C203.92,119.28 205.37,113.03 206.50,109.20 C207.63,105.37 208.92,102.10 210.20,98.30 C211.48,94.50 212.88,90.12 214.20,86.40 C215.52,82.68 216.95,79.07 218.10,76.00 C219.25,72.93 220.10,70.58 221.10,68.00 C222.10,65.42 223.08,62.95 224.10,60.50 C225.12,58.05 226.18,55.58 227.20,53.30 C228.22,51.02 229.23,48.85 230.20,46.80 C231.17,44.75 232.03,43.05 233.00,41.00 C233.97,38.95 235.00,36.47 236.00,34.50 C237.00,32.53 237.87,30.48 239.00,29.20 C240.13,27.92 241.77,27.20 242.80,26.80 C243.83,26.40 244.20,26.40 245.20,26.80 C246.20,27.20 247.48,28.00 248.80,29.20 C250.12,30.40 251.67,32.38 253.10,34.00 C254.53,35.62 256.20,37.90 257.40,38.90 C258.60,39.90 259.35,40.28 260.30,40.00 C261.25,39.72 262.07,38.40 263.10,37.20 C264.13,36.00 265.32,34.13 266.50,32.80 C267.68,31.47 268.72,30.23 270.20,29.20 C271.68,28.17 273.67,26.58 275.40,26.60 C277.13,26.62 278.85,27.98 280.60,29.30 C282.35,30.62 284.15,32.80 285.90,34.50 C287.65,36.20 289.50,37.95 291.10,39.50 C292.70,41.05 294.22,42.38 295.50,43.80 C296.78,45.22 297.57,46.27 298.80,48.00 C300.03,49.73 301.58,51.87 302.90,54.20 C304.22,56.53 305.43,59.40 306.70,62.00 C307.97,64.60 308.57,65.22 310.50,69.80 C312.43,74.38 316.02,83.82 318.30,89.50 C320.58,95.18 322.25,98.78 324.20,103.90 C326.15,109.02 329.03,117.48 330.00,120.20" fill="none" stroke="#f7ac2c" stroke-width="0.7" stroke-opacity="0.9"/><path d="M330.00,120.80 C329.03,118.22 326.15,110.18 324.20,105.30 C322.25,100.42 320.58,96.92 318.30,91.50 C316.02,86.08 312.43,77.12 310.50,72.80 C308.57,68.48 307.97,68.03 306.70,65.60 C305.43,63.17 304.22,60.30 302.90,58.20 C301.58,56.10 300.03,54.48 298.80,53.00 C297.57,51.52 296.78,50.38 295.50,49.30 C294.22,48.22 292.70,47.35 291.10,46.50 C289.50,45.65 287.65,44.62 285.90,44.20 C284.15,43.78 282.35,43.78 280.60,44.00 C278.85,44.22 277.13,45.53 275.40,45.50 C273.67,45.47 271.68,44.05 270.20,43.80 C268.72,43.55 267.68,43.82 266.50,44.00 C265.32,44.18 264.13,44.37 263.10,44.90 C262.07,45.43 261.25,47.08 260.30,47.20 C259.35,47.32 258.60,46.13 257.40,45.60 C256.20,45.07 254.53,44.27 253.10,44.00 C251.67,43.73 250.12,43.75 248.80,44.00 C247.48,44.25 246.20,45.50 245.20,45.50 C244.20,45.50 243.83,44.25 242.80,44.00 C241.77,43.75 240.13,43.67 239.00,44.00 C237.87,44.33 237.00,45.00 236.00,46.00 C235.00,47.00 233.97,48.70 233.00,50.00 C232.03,51.30 231.17,52.28 230.20,53.80 C229.23,55.32 228.22,57.15 227.20,59.10 C226.18,61.05 225.12,63.28 224.10,65.50 C223.08,67.72 222.10,69.98 221.10,72.40 C220.10,74.82 219.25,77.13 218.10,80.00 C216.95,82.87 215.52,86.15 214.20,89.60 C212.88,93.05 211.48,97.17 210.20,100.70 C208.92,104.23 207.63,107.27 206.50,110.80 C205.37,114.33 203.92,120.05 203.40,121.90" fill="none" stroke="#f7ac2c" stroke-width="0.7" stroke-opacity="0.9"/>
<path d="M203.40,121.30 C204.17,117.25 206.77,103.33 208.00,97.00 C209.23,90.67 209.83,88.18 210.80,83.30 C211.77,78.42 212.75,73.35 213.80,67.70 C214.85,62.05 216.22,53.58 217.10,49.40 C217.98,45.22 218.35,44.62 219.10,42.60 C219.85,40.58 220.63,38.65 221.60,37.30 C222.57,35.95 223.82,34.75 224.90,34.50 C225.98,34.25 226.92,34.97 228.10,35.80 C229.28,36.63 230.82,38.13 232.00,39.50 C233.18,40.87 234.13,42.72 235.20,44.00 C236.27,45.28 237.33,46.53 238.40,47.20 C239.47,47.87 240.42,48.28 241.60,48.00 C242.78,47.72 244.27,45.50 245.50,45.50 C246.73,45.50 247.73,47.55 249.00,48.00 C250.27,48.45 251.93,48.28 253.10,48.20 C254.27,48.12 254.80,48.00 256.00,47.50 C257.20,47.00 259.12,45.20 260.30,45.20 C261.48,45.20 262.07,47.03 263.10,47.50 C264.13,47.97 265.37,47.92 266.50,48.00 C267.63,48.08 268.77,48.00 269.90,48.00 C271.03,48.00 272.42,48.42 273.30,48.00 C274.18,47.58 273.98,45.58 275.20,45.50 C276.42,45.42 278.82,47.17 280.60,47.50 C282.38,47.83 284.15,48.08 285.90,47.50 C287.65,46.92 289.50,45.25 291.10,44.00 C292.70,42.75 294.20,41.33 295.50,40.00 C296.80,38.67 297.82,36.95 298.90,36.00 C299.98,35.05 301.03,34.58 302.00,34.30 C302.97,34.02 303.87,34.13 304.70,34.30 C305.53,34.47 306.23,34.92 307.00,35.30 C307.77,35.68 308.17,35.15 309.30,36.60 C310.43,38.05 312.28,40.63 313.80,44.00 C315.32,47.37 317.18,52.83 318.40,56.80 C319.62,60.77 320.42,64.85 321.10,67.80 C321.78,70.75 321.80,70.88 322.50,74.50 C323.20,78.12 324.23,83.40 325.30,89.50 C326.37,95.60 328.12,105.98 328.90,111.10 C329.68,116.22 329.82,118.68 330.00,120.20 L330.00,120.80 C329.82,119.35 329.68,116.98 328.90,112.10 C328.12,107.22 326.37,97.30 325.30,91.50 C324.23,85.70 323.20,80.67 322.50,77.30 C321.80,73.93 321.78,73.88 321.10,71.30 C320.42,68.72 319.62,65.32 318.40,61.80 C317.18,58.28 315.32,53.15 313.80,50.20 C312.28,47.25 310.43,45.33 309.30,44.10 C308.17,42.87 307.77,43.02 307.00,42.80 C306.23,42.58 305.53,42.55 304.70,42.80 C303.87,43.05 302.97,43.35 302.00,44.30 C301.03,45.25 299.98,47.47 298.90,48.50 C297.82,49.53 296.80,49.67 295.50,50.50 C294.20,51.33 292.70,52.35 291.10,53.50 C289.50,54.65 287.65,56.12 285.90,57.40 C284.15,58.68 282.38,59.77 280.60,61.20 C278.82,62.63 276.42,65.60 275.20,66.00 C273.98,66.40 274.18,64.35 273.30,63.60 C272.42,62.85 271.03,62.50 269.90,61.50 C268.77,60.50 267.63,58.98 266.50,57.60 C265.37,56.22 264.13,54.43 263.10,53.20 C262.07,51.97 261.48,49.65 260.30,50.20 C259.12,50.75 257.20,54.95 256.00,56.50 C254.80,58.05 254.27,58.33 253.10,59.50 C251.93,60.67 250.27,62.58 249.00,63.50 C247.73,64.42 246.73,65.62 245.50,65.00 C244.27,64.38 242.78,61.18 241.60,59.80 C240.42,58.42 239.47,57.75 238.40,56.70 C237.33,55.65 236.27,54.53 235.20,53.50 C234.13,52.47 233.18,51.45 232.00,50.50 C230.82,49.55 229.28,48.55 228.10,47.80 C226.92,47.05 225.98,46.17 224.90,46.00 C223.82,45.83 222.57,46.12 221.60,46.80 C220.63,47.48 219.85,48.67 219.10,50.10 C218.35,51.53 217.98,51.80 217.10,55.40 C216.22,59.00 214.85,66.55 213.80,71.70 C212.75,76.85 211.77,81.75 210.80,86.30 C209.83,90.85 209.23,93.07 208.00,99.00 C206.77,104.93 204.17,118.08 203.40,121.90 Z" fill="#fab947" fill-opacity="0.58" stroke="none"/><path d="M203.40,121.30 C204.17,117.25 206.77,103.33 208.00,97.00 C209.23,90.67 209.83,88.18 210.80,83.30 C211.77,78.42 212.75,73.35 213.80,67.70 C214.85,62.05 216.22,53.58 217.10,49.40 C217.98,45.22 218.35,44.62 219.10,42.60 C219.85,40.58 220.63,38.65 221.60,37.30 C222.57,35.95 223.82,34.75 224.90,34.50 C225.98,34.25 226.92,34.97 228.10,35.80 C229.28,36.63 230.82,38.13 232.00,39.50 C233.18,40.87 234.13,42.72 235.20,44.00 C236.27,45.28 237.33,46.53 238.40,47.20 C239.47,47.87 240.42,48.28 241.60,48.00 C242.78,47.72 244.27,45.50 245.50,45.50 C246.73,45.50 247.73,47.55 249.00,48.00 C250.27,48.45 251.93,48.28 253.10,48.20 C254.27,48.12 254.80,48.00 256.00,47.50 C257.20,47.00 259.12,45.20 260.30,45.20 C261.48,45.20 262.07,47.03 263.10,47.50 C264.13,47.97 265.37,47.92 266.50,48.00 C267.63,48.08 268.77,48.00 269.90,48.00 C271.03,48.00 272.42,48.42 273.30,48.00 C274.18,47.58 273.98,45.58 275.20,45.50 C276.42,45.42 278.82,47.17 280.60,47.50 C282.38,47.83 284.15,48.08 285.90,47.50 C287.65,46.92 289.50,45.25 291.10,44.00 C292.70,42.75 294.20,41.33 295.50,40.00 C296.80,38.67 297.82,36.95 298.90,36.00 C299.98,35.05 301.03,34.58 302.00,34.30 C302.97,34.02 303.87,34.13 304.70,34.30 C305.53,34.47 306.23,34.92 307.00,35.30 C307.77,35.68 308.17,35.15 309.30,36.60 C310.43,38.05 312.28,40.63 313.80,44.00 C315.32,47.37 317.18,52.83 318.40,56.80 C319.62,60.77 320.42,64.85 321.10,67.80 C321.78,70.75 321.80,70.88 322.50,74.50 C323.20,78.12 324.23,83.40 325.30,89.50 C326.37,95.60 328.12,105.98 328.90,111.10 C329.68,116.22 329.82,118.68 330.00,120.20" fill="none" stroke="#f7ac2c" stroke-width="0.7" stroke-opacity="0.9"/><path d="M330.00,120.80 C329.82,119.35 329.68,116.98 328.90,112.10 C328.12,107.22 326.37,97.30 325.30,91.50 C324.23,85.70 323.20,80.67 322.50,77.30 C321.80,73.93 321.78,73.88 321.10,71.30 C320.42,68.72 319.62,65.32 318.40,61.80 C317.18,58.28 315.32,53.15 313.80,50.20 C312.28,47.25 310.43,45.33 309.30,44.10 C308.17,42.87 307.77,43.02 307.00,42.80 C306.23,42.58 305.53,42.55 304.70,42.80 C303.87,43.05 302.97,43.35 302.00,44.30 C301.03,45.25 299.98,47.47 298.90,48.50 C297.82,49.53 296.80,49.67 295.50,50.50 C294.20,51.33 292.70,52.35 291.10,53.50 C289.50,54.65 287.65,56.12 285.90,57.40 C284.15,58.68 282.38,59.77 280.60,61.20 C278.82,62.63 276.42,65.60 275.20,66.00 C273.98,66.40 274.18,64.35 273.30,63.60 C272.42,62.85 271.03,62.50 269.90,61.50 C268.77,60.50 267.63,58.98 266.50,57.60 C265.37,56.22 264.13,54.43 263.10,53.20 C262.07,51.97 261.48,49.65 260.30,50.20 C259.12,50.75 257.20,54.95 256.00,56.50 C254.80,58.05 254.27,58.33 253.10,59.50 C251.93,60.67 250.27,62.58 249.00,63.50 C247.73,64.42 246.73,65.62 245.50,65.00 C244.27,64.38 242.78,61.18 241.60,59.80 C240.42,58.42 239.47,57.75 238.40,56.70 C237.33,55.65 236.27,54.53 235.20,53.50 C234.13,52.47 233.18,51.45 232.00,50.50 C230.82,49.55 229.28,48.55 228.10,47.80 C226.92,47.05 225.98,46.17 224.90,46.00 C223.82,45.83 222.57,46.12 221.60,46.80 C220.63,47.48 219.85,48.67 219.10,50.10 C218.35,51.53 217.98,51.80 217.10,55.40 C216.22,59.00 214.85,66.55 213.80,71.70 C212.75,76.85 211.77,81.75 210.80,86.30 C209.83,90.85 209.23,93.07 208.00,99.00 C206.77,104.93 204.17,118.08 203.40,121.90" fill="none" stroke="#f7ac2c" stroke-width="0.7" stroke-opacity="0.9"/>
<path d="M203.40,121.30 C204.25,119.28 206.82,112.97 208.50,109.20 C210.18,105.43 211.70,102.58 213.50,98.70 C215.30,94.82 217.63,89.60 219.30,85.90 C220.97,82.20 222.22,79.18 223.50,76.50 C224.78,73.82 225.92,71.70 227.00,69.80 C228.08,67.90 229.00,66.50 230.00,65.10 C231.00,63.70 231.95,62.55 233.00,61.40 C234.05,60.25 235.07,59.22 236.30,58.20 C237.53,57.18 239.27,55.90 240.40,55.30 C241.53,54.70 242.25,54.77 243.10,54.60 C243.95,54.43 244.52,54.35 245.50,54.30 C246.48,54.25 247.72,54.30 249.00,54.30 C250.28,54.30 251.80,54.15 253.20,54.30 C254.60,54.45 256.13,55.20 257.40,55.20 C258.67,55.20 259.67,54.35 260.80,54.30 C261.93,54.25 263.07,54.70 264.20,54.90 C265.33,55.10 266.47,55.48 267.60,55.50 C268.73,55.52 269.73,55.18 271.00,55.00 C272.27,54.82 273.70,54.43 275.20,54.40 C276.70,54.37 278.53,54.72 280.00,54.80 C281.47,54.88 282.07,54.98 284.00,54.90 C285.93,54.82 289.15,54.07 291.60,54.30 C294.05,54.53 296.63,54.58 298.70,56.30 C300.77,58.02 302.35,61.98 304.00,64.60 C305.65,67.22 307.20,69.68 308.60,72.00 C310.00,74.32 310.78,75.33 312.40,78.50 C314.02,81.67 316.33,86.70 318.30,91.00 C320.27,95.30 322.43,100.15 324.20,104.30 C325.97,108.45 327.93,113.25 328.90,115.90 C329.87,118.55 329.82,119.48 330.00,120.20 L330.00,120.80 C329.82,120.12 329.87,119.22 328.90,116.70 C327.93,114.18 325.97,109.65 324.20,105.70 C322.43,101.75 320.27,96.95 318.30,93.00 C316.33,89.05 314.02,84.58 312.40,82.00 C310.78,79.42 310.00,78.90 308.60,77.50 C307.20,76.10 305.65,74.55 304.00,73.60 C302.35,72.65 300.77,72.52 298.70,71.80 C296.63,71.08 294.05,69.95 291.60,69.30 C289.15,68.65 285.93,68.32 284.00,67.90 C282.07,67.48 281.47,66.80 280.00,66.80 C278.53,66.80 276.70,68.28 275.20,67.90 C273.70,67.52 272.27,65.23 271.00,64.50 C269.73,63.77 268.73,63.43 267.60,63.50 C266.47,63.57 265.33,64.18 264.20,64.90 C263.07,65.62 261.93,67.75 260.80,67.80 C259.67,67.85 258.67,66.03 257.40,65.20 C256.13,64.37 254.60,62.95 253.20,62.80 C251.80,62.65 250.28,63.38 249.00,64.30 C247.72,65.22 246.48,67.92 245.50,68.30 C244.52,68.68 243.95,67.10 243.10,66.60 C242.25,66.10 241.53,65.45 240.40,65.30 C239.27,65.15 237.53,65.25 236.30,65.70 C235.07,66.15 234.05,67.17 233.00,68.00 C231.95,68.83 231.00,69.60 230.00,70.70 C229.00,71.80 228.08,72.93 227.00,74.60 C225.92,76.27 224.78,78.22 223.50,80.70 C222.22,83.18 220.97,86.07 219.30,89.50 C217.63,92.93 215.30,97.75 213.50,101.30 C211.70,104.85 210.18,107.37 208.50,110.80 C206.82,114.23 204.25,120.05 203.40,121.90 Z" fill="#fab947" fill-opacity="0.58" stroke="none"/><path d="M203.40,121.30 C204.25,119.28 206.82,112.97 208.50,109.20 C210.18,105.43 211.70,102.58 213.50,98.70 C215.30,94.82 217.63,89.60 219.30,85.90 C220.97,82.20 222.22,79.18 223.50,76.50 C224.78,73.82 225.92,71.70 227.00,69.80 C228.08,67.90 229.00,66.50 230.00,65.10 C231.00,63.70 231.95,62.55 233.00,61.40 C234.05,60.25 235.07,59.22 236.30,58.20 C237.53,57.18 239.27,55.90 240.40,55.30 C241.53,54.70 242.25,54.77 243.10,54.60 C243.95,54.43 244.52,54.35 245.50,54.30 C246.48,54.25 247.72,54.30 249.00,54.30 C250.28,54.30 251.80,54.15 253.20,54.30 C254.60,54.45 256.13,55.20 257.40,55.20 C258.67,55.20 259.67,54.35 260.80,54.30 C261.93,54.25 263.07,54.70 264.20,54.90 C265.33,55.10 266.47,55.48 267.60,55.50 C268.73,55.52 269.73,55.18 271.00,55.00 C272.27,54.82 273.70,54.43 275.20,54.40 C276.70,54.37 278.53,54.72 280.00,54.80 C281.47,54.88 282.07,54.98 284.00,54.90 C285.93,54.82 289.15,54.07 291.60,54.30 C294.05,54.53 296.63,54.58 298.70,56.30 C300.77,58.02 302.35,61.98 304.00,64.60 C305.65,67.22 307.20,69.68 308.60,72.00 C310.00,74.32 310.78,75.33 312.40,78.50 C314.02,81.67 316.33,86.70 318.30,91.00 C320.27,95.30 322.43,100.15 324.20,104.30 C325.97,108.45 327.93,113.25 328.90,115.90 C329.87,118.55 329.82,119.48 330.00,120.20" fill="none" stroke="#f7ac2c" stroke-width="0.7" stroke-opacity="0.9"/><path d="M330.00,120.80 C329.82,120.12 329.87,119.22 328.90,116.70 C327.93,114.18 325.97,109.65 324.20,105.70 C322.43,101.75 320.27,96.95 318.30,93.00 C316.33,89.05 314.02,84.58 312.40,82.00 C310.78,79.42 310.00,78.90 308.60,77.50 C307.20,76.10 305.65,74.55 304.00,73.60 C302.35,72.65 300.77,72.52 298.70,71.80 C296.63,71.08 294.05,69.95 291.60,69.30 C289.15,68.65 285.93,68.32 284.00,67.90 C282.07,67.48 281.47,66.80 280.00,66.80 C278.53,66.80 276.70,68.28 275.20,67.90 C273.70,67.52 272.27,65.23 271.00,64.50 C269.73,63.77 268.73,63.43 267.60,63.50 C266.47,63.57 265.33,64.18 264.20,64.90 C263.07,65.62 261.93,67.75 260.80,67.80 C259.67,67.85 258.67,66.03 257.40,65.20 C256.13,64.37 254.60,62.95 253.20,62.80 C251.80,62.65 250.28,63.38 249.00,64.30 C247.72,65.22 246.48,67.92 245.50,68.30 C244.52,68.68 243.95,67.10 243.10,66.60 C242.25,66.10 241.53,65.45 240.40,65.30 C239.27,65.15 237.53,65.25 236.30,65.70 C235.07,66.15 234.05,67.17 233.00,68.00 C231.95,68.83 231.00,69.60 230.00,70.70 C229.00,71.80 228.08,72.93 227.00,74.60 C225.92,76.27 224.78,78.22 223.50,80.70 C222.22,83.18 220.97,86.07 219.30,89.50 C217.63,92.93 215.30,97.75 213.50,101.30 C211.70,104.85 210.18,107.37 208.50,110.80 C206.82,114.23 204.25,120.05 203.40,121.90" fill="none" stroke="#f7ac2c" stroke-width="0.7" stroke-opacity="0.9"/>
<path d="M330.00,120.20 C330.65,116.98 332.77,106.82 333.90,100.90 C335.03,94.98 335.82,90.10 336.80,84.70 C337.78,79.30 338.98,73.05 339.80,68.50 C340.62,63.95 340.88,60.98 341.70,57.40 C342.52,53.82 343.70,50.12 344.70,47.00 C345.70,43.88 346.72,41.17 347.70,38.70 C348.68,36.23 349.62,33.85 350.60,32.20 C351.58,30.55 352.62,29.60 353.60,28.80 C354.58,28.00 356.02,27.63 356.50,27.40 L356.50,35.80 C356.02,35.97 354.58,36.23 353.60,36.80 C352.62,37.37 351.58,37.88 350.60,39.20 C349.62,40.52 348.68,42.57 347.70,44.70 C346.72,46.83 345.70,49.22 344.70,52.00 C343.70,54.78 342.52,58.15 341.70,61.40 C340.88,64.65 340.62,67.28 339.80,71.50 C338.98,75.72 337.78,81.60 336.80,86.70 C335.82,91.80 335.03,96.42 333.90,102.10 C332.77,107.78 330.65,117.68 330.00,120.80 Z" fill="#fab947" fill-opacity="0.58" stroke="none"/><path d="M330.00,120.20 C330.65,116.98 332.77,106.82 333.90,100.90 C335.03,94.98 335.82,90.10 336.80,84.70 C337.78,79.30 338.98,73.05 339.80,68.50 C340.62,63.95 340.88,60.98 341.70,57.40 C342.52,53.82 343.70,50.12 344.70,47.00 C345.70,43.88 346.72,41.17 347.70,38.70 C348.68,36.23 349.62,33.85 350.60,32.20 C351.58,30.55 352.62,29.60 353.60,28.80 C354.58,28.00 356.02,27.63 356.50,27.40" fill="none" stroke="#f7ac2c" stroke-width="0.7" stroke-opacity="0.9"/><path d="M356.50,35.80 C356.02,35.97 354.58,36.23 353.60,36.80 C352.62,37.37 351.58,37.88 350.60,39.20 C349.62,40.52 348.68,42.57 347.70,44.70 C346.72,46.83 345.70,49.22 344.70,52.00 C343.70,54.78 342.52,58.15 341.70,61.40 C340.88,64.65 340.62,67.28 339.80,71.50 C338.98,75.72 337.78,81.60 336.80,86.70 C335.82,91.80 335.03,96.42 333.90,102.10 C332.77,107.78 330.65,117.68 330.00,120.80" fill="none" stroke="#f7ac2c" stroke-width="0.7" stroke-opacity="0.9"/>
<path d="M330.00,120.20 C330.50,118.90 332.03,114.67 333.00,112.40 C333.97,110.13 334.35,109.32 335.80,106.60 C337.25,103.88 339.72,99.95 341.70,96.10 C343.68,92.25 345.88,86.87 347.70,83.50 C349.52,80.13 351.13,77.57 352.60,75.90 C354.07,74.23 355.85,73.90 356.50,73.50 L356.50,80.50 C355.85,80.73 354.07,80.67 352.60,81.90 C351.13,83.13 349.52,85.03 347.70,87.90 C345.88,90.77 343.68,95.68 341.70,99.10 C339.72,102.52 337.25,105.98 335.80,108.40 C334.35,110.82 333.97,111.53 333.00,113.60 C332.03,115.67 330.50,119.60 330.00,120.80 Z" fill="#fab947" fill-opacity="0.58" stroke="none"/><path d="M330.00,120.20 C330.50,118.90 332.03,114.67 333.00,112.40 C333.97,110.13 334.35,109.32 335.80,106.60 C337.25,103.88 339.72,99.95 341.70,96.10 C343.68,92.25 345.88,86.87 347.70,83.50 C349.52,80.13 351.13,77.57 352.60,75.90 C354.07,74.23 355.85,73.90 356.50,73.50" fill="none" stroke="#f7ac2c" stroke-width="0.7" stroke-opacity="0.9"/><path d="M356.50,80.50 C355.85,80.73 354.07,80.67 352.60,81.90 C351.13,83.13 349.52,85.03 347.70,87.90 C345.88,90.77 343.68,95.68 341.70,99.10 C339.72,102.52 337.25,105.98 335.80,108.40 C334.35,110.82 333.97,111.53 333.00,113.60 C332.03,115.67 330.50,119.60 330.00,120.80" fill="none" stroke="#f7ac2c" stroke-width="0.7" stroke-opacity="0.9"/>
<path d="M203.40,121.42 C203.92,119.44 205.37,113.29 206.50,109.52 C207.63,105.75 208.92,102.53 210.20,98.78 C211.48,95.03 212.88,90.70 214.20,87.04 C215.52,83.38 216.95,79.83 218.10,76.80 C219.25,73.77 220.10,71.43 221.10,68.88 C222.10,66.33 223.08,63.90 224.10,61.50 C225.12,59.10 226.18,56.68 227.20,54.50 C228.22,52.32 229.23,50.28 230.20,48.40 C231.17,46.52 232.03,45.02 233.00,43.20 C233.97,41.38 235.00,39.18 236.00,37.50 C237.00,35.82 237.87,34.19 239.00,33.12 C240.13,32.05 241.77,31.45 242.80,31.08 C243.83,30.71 244.20,30.67 245.20,30.88 C246.20,31.09 247.48,31.43 248.80,32.32 C250.12,33.21 251.67,34.82 253.10,36.20 C254.53,37.58 256.20,39.53 257.40,40.58 C258.60,41.63 259.35,42.63 260.30,42.48 C261.25,42.33 262.07,40.79 263.10,39.68 C264.13,38.57 265.32,37.04 266.50,35.80 C267.68,34.56 268.72,33.18 270.20,32.24 C271.68,31.30 273.67,30.19 275.40,30.16 C277.13,30.13 278.85,30.99 280.60,32.06 C282.35,33.13 284.15,35.04 285.90,36.58 C287.65,38.12 289.50,39.90 291.10,41.30 C292.70,42.70 294.22,43.72 295.50,45.00 C296.78,46.28 297.57,47.33 298.80,49.00 C300.03,50.67 301.58,52.71 302.90,55.00 C304.22,57.29 305.43,60.15 306.70,62.72 C307.97,65.29 308.57,65.87 310.50,70.40 C312.43,74.93 316.02,84.27 318.30,89.90 C320.58,95.53 322.25,99.11 324.20,104.18 C326.15,109.25 329.03,117.63 330.00,120.32 L330.00,120.68 C329.03,118.07 326.15,109.95 324.20,105.02 C322.25,100.09 320.58,96.57 318.30,91.10 C316.02,85.63 312.43,76.57 310.50,72.20 C308.57,67.83 307.97,67.35 306.70,64.88 C305.43,62.41 304.22,59.55 302.90,57.40 C301.58,55.25 300.03,53.52 298.80,52.00 C297.57,50.48 296.78,49.38 295.50,48.30 C294.22,47.22 292.70,46.48 291.10,45.50 C289.50,44.52 287.65,43.17 285.90,42.40 C284.15,41.63 282.35,41.03 280.60,40.88 C278.85,40.73 277.13,41.48 275.40,41.50 C273.67,41.52 271.68,40.83 270.20,41.00 C268.72,41.17 267.68,41.97 266.50,42.52 C265.32,43.07 264.13,43.59 263.10,44.30 C262.07,45.01 261.25,46.75 260.30,46.80 C259.35,46.85 258.60,45.37 257.40,44.60 C256.20,43.83 254.53,42.77 253.10,42.20 C251.67,41.63 250.12,41.22 248.80,41.20 C247.48,41.18 246.20,42.07 245.20,42.10 C244.20,42.13 243.83,41.42 242.80,41.40 C241.77,41.38 240.13,41.50 239.00,42.00 C237.87,42.50 237.00,43.30 236.00,44.40 C235.00,45.50 233.97,47.23 233.00,48.60 C232.03,49.97 231.17,51.04 230.20,52.60 C229.23,54.16 228.22,56.00 227.20,57.98 C226.18,59.96 225.12,62.24 224.10,64.50 C223.08,66.76 222.10,69.07 221.10,71.52 C220.10,73.97 219.25,76.29 218.10,79.20 C216.95,82.11 215.52,85.46 214.20,88.96 C212.88,92.46 211.48,96.63 210.20,100.22 C208.92,103.81 207.63,106.89 206.50,110.48 C205.37,114.07 203.92,119.90 203.40,121.78 Z" fill="#fab947" fill-opacity="0.4" stroke="none"/>
<path d="M203.40,121.42 C204.17,117.42 206.77,103.65 208.00,97.40 C209.23,91.15 209.83,88.72 210.80,83.90 C211.77,79.08 212.75,74.05 213.80,68.50 C214.85,62.95 216.22,54.65 217.10,50.60 C217.98,46.55 218.35,46.05 219.10,44.20 C219.85,42.35 220.63,40.65 221.60,39.50 C222.57,38.35 223.82,37.45 224.90,37.30 C225.98,37.15 226.92,37.83 228.10,38.60 C229.28,39.37 230.82,40.70 232.00,41.90 C233.18,43.10 234.13,44.62 235.20,45.80 C236.27,46.98 237.33,48.21 238.40,49.00 C239.47,49.79 240.42,50.34 241.60,50.52 C242.78,50.70 244.27,49.89 245.50,50.10 C246.73,50.31 247.73,51.63 249.00,51.80 C250.27,51.97 251.93,51.47 253.10,51.12 C254.27,50.77 254.80,50.62 256.00,49.70 C257.20,48.78 259.12,45.82 260.30,45.60 C261.48,45.38 262.07,47.61 263.10,48.38 C264.13,49.15 265.37,49.74 266.50,50.24 C267.63,50.74 268.77,51.13 269.90,51.40 C271.03,51.67 272.42,51.99 273.30,51.84 C274.18,51.69 273.98,50.64 275.20,50.50 C276.42,50.36 278.82,51.19 280.60,50.98 C282.38,50.77 284.15,50.19 285.90,49.26 C287.65,48.33 289.50,46.64 291.10,45.40 C292.70,44.16 294.20,42.93 295.50,41.80 C296.80,40.67 297.82,39.45 298.90,38.60 C299.98,37.75 301.03,37.05 302.00,36.70 C302.97,36.35 303.87,36.40 304.70,36.50 C305.53,36.60 306.23,36.95 307.00,37.30 C307.77,37.65 308.17,37.22 309.30,38.60 C310.43,39.98 312.28,42.37 313.80,45.60 C315.32,48.83 317.18,54.17 318.40,58.00 C319.62,61.83 320.42,65.75 321.10,68.60 C321.78,71.45 321.80,71.55 322.50,75.10 C323.20,78.65 324.23,83.87 325.30,89.90 C326.37,95.93 328.12,106.23 328.90,111.30 C329.68,116.37 329.82,118.82 330.00,120.32 L330.00,120.68 C329.82,119.22 329.68,116.83 328.90,111.90 C328.12,106.97 326.37,96.95 325.30,91.10 C324.23,85.25 323.20,80.18 322.50,76.78 C321.80,73.38 321.78,73.33 321.10,70.70 C320.42,68.07 319.62,64.56 318.40,61.00 C317.18,57.44 315.32,52.30 313.80,49.32 C312.28,46.34 310.43,44.35 309.30,43.10 C308.17,41.85 307.77,42.05 307.00,41.80 C306.23,41.55 305.53,41.45 304.70,41.60 C303.87,41.75 302.97,41.95 302.00,42.70 C301.03,43.45 299.98,45.20 298.90,46.10 C297.82,47.00 296.80,47.27 295.50,48.10 C294.20,48.93 292.70,49.92 291.10,51.10 C289.50,52.28 287.65,53.85 285.90,55.20 C284.15,56.55 282.38,57.93 280.60,59.20 C278.82,60.47 276.42,62.47 275.20,62.80 C273.98,63.13 274.18,61.75 273.30,61.20 C272.42,60.65 271.03,60.37 269.90,59.50 C268.77,58.63 267.63,57.28 266.50,56.00 C265.37,54.72 264.13,53.03 263.10,51.80 C262.07,50.57 261.48,48.05 260.30,48.60 C259.12,49.15 257.20,53.55 256.00,55.10 C254.80,56.65 254.27,56.90 253.10,57.90 C251.93,58.90 250.27,60.45 249.00,61.10 C247.73,61.75 246.73,62.38 245.50,61.80 C244.27,61.22 242.78,58.78 241.60,57.60 C240.42,56.42 239.47,55.72 238.40,54.70 C237.33,53.68 236.27,52.53 235.20,51.50 C234.13,50.47 233.18,49.45 232.00,48.50 C230.82,47.55 229.28,46.52 228.10,45.80 C226.92,45.08 225.98,44.30 224.90,44.20 C223.82,44.10 222.57,44.45 221.60,45.20 C220.63,45.95 219.85,47.20 219.10,48.70 C218.35,50.20 217.98,50.50 217.10,54.20 C216.22,57.90 214.85,65.65 213.80,70.90 C212.75,76.15 211.77,81.08 210.80,85.70 C209.83,90.32 209.23,92.59 208.00,98.60 C206.77,104.61 204.17,117.92 203.40,121.78 Z" fill="#fab947" fill-opacity="0.4" stroke="none"/>
<path d="M203.40,121.42 C204.25,119.44 206.82,113.22 208.50,109.52 C210.18,105.82 211.70,103.04 213.50,99.22 C215.30,95.40 217.63,90.27 219.30,86.62 C220.97,82.97 222.22,79.96 223.50,77.30 C224.78,74.64 225.92,72.55 227.00,70.68 C228.08,68.81 229.00,67.43 230.00,66.06 C231.00,64.69 231.95,63.55 233.00,62.44 C234.05,61.33 235.07,60.32 236.30,59.40 C237.53,58.48 239.27,57.43 240.40,56.90 C241.53,56.37 242.25,56.37 243.10,56.20 C243.95,56.03 244.52,55.92 245.50,55.90 C246.48,55.88 247.72,56.03 249.00,56.10 C250.28,56.17 251.80,56.12 253.20,56.30 C254.60,56.48 256.13,57.20 257.40,57.20 C258.67,57.20 259.67,56.35 260.80,56.30 C261.93,56.25 263.07,56.70 264.20,56.90 C265.33,57.10 266.47,57.52 267.60,57.50 C268.73,57.48 269.73,57.05 271.00,56.80 C272.27,56.55 273.70,56.00 275.20,56.00 C276.70,56.00 278.53,56.52 280.00,56.80 C281.47,57.08 282.07,57.52 284.00,57.70 C285.93,57.88 289.15,57.60 291.60,57.90 C294.05,58.20 296.63,58.12 298.70,59.50 C300.77,60.88 302.35,63.95 304.00,66.20 C305.65,68.45 307.20,70.85 308.60,73.00 C310.00,75.15 310.78,76.03 312.40,79.10 C314.02,82.17 316.33,87.15 318.30,91.40 C320.27,95.65 322.43,100.47 324.20,104.58 C325.97,108.69 327.93,113.44 328.90,116.06 C329.87,118.68 329.82,119.61 330.00,120.32 L330.00,120.68 C329.82,119.99 329.87,119.08 328.90,116.54 C327.93,114.00 325.97,109.41 324.20,105.42 C322.43,101.43 320.27,96.64 318.30,92.60 C316.33,88.56 314.02,83.92 312.40,81.20 C310.78,78.48 310.00,77.90 308.60,76.30 C307.20,74.70 305.65,72.85 304.00,71.60 C302.35,70.35 300.77,69.58 298.70,68.80 C296.63,68.02 294.05,67.45 291.60,66.90 C289.15,66.35 285.93,65.98 284.00,65.50 C282.07,65.02 281.47,64.23 280.00,64.00 C278.53,63.77 276.70,64.35 275.20,64.10 C273.70,63.85 272.27,62.80 271.00,62.50 C269.73,62.20 268.73,62.23 267.60,62.30 C266.47,62.37 265.33,62.55 264.20,62.90 C263.07,63.25 261.93,64.35 260.80,64.40 C259.67,64.45 258.67,63.70 257.40,63.20 C256.13,62.70 254.60,61.58 253.20,61.40 C251.80,61.22 250.28,61.62 249.00,62.10 C247.72,62.58 246.48,64.08 245.50,64.30 C244.52,64.52 243.95,63.63 243.10,63.40 C242.25,63.17 241.53,62.82 240.40,62.90 C239.27,62.98 237.53,63.32 236.30,63.90 C235.07,64.48 234.05,65.48 233.00,66.40 C231.95,67.32 231.00,68.23 230.00,69.42 C229.00,70.61 228.08,71.83 227.00,73.56 C225.92,75.29 224.78,77.28 223.50,79.82 C222.22,82.36 220.97,85.29 219.30,88.78 C217.63,92.27 215.30,97.16 213.50,100.78 C211.70,104.40 210.18,106.98 208.50,110.48 C206.82,113.98 204.25,119.90 203.40,121.78 Z" fill="#fab947" fill-opacity="0.4" stroke="none"/>
<path d="M330.00,120.32 C330.65,117.12 332.77,107.01 333.90,101.14 C335.03,95.27 335.82,90.44 336.80,85.10 C337.78,79.76 338.98,73.58 339.80,69.10 C340.62,64.62 340.88,61.72 341.70,58.20 C342.52,54.68 343.70,51.05 344.70,48.00 C345.70,44.95 346.72,42.30 347.70,39.90 C348.68,37.50 349.62,35.18 350.60,33.60 C351.58,32.02 352.62,31.15 353.60,30.40 C354.58,29.65 356.02,29.30 356.50,29.08 L356.50,34.12 C356.02,34.30 354.58,34.59 353.60,35.20 C352.62,35.81 351.58,36.42 350.60,37.80 C349.62,39.18 348.68,41.30 347.70,43.50 C346.72,45.70 345.70,48.15 344.70,51.00 C343.70,53.85 342.52,57.28 341.70,60.60 C340.88,63.92 340.62,66.62 339.80,70.90 C338.98,75.18 337.78,81.14 336.80,86.30 C335.82,91.46 335.03,96.13 333.90,101.86 C332.77,107.59 330.65,117.54 330.00,120.68 Z" fill="#fab947" fill-opacity="0.4" stroke="none"/>
<path d="M330.00,120.32 C330.50,119.04 332.03,114.87 333.00,112.64 C333.97,110.41 334.35,109.62 335.80,106.96 C337.25,104.30 339.72,100.46 341.70,96.70 C343.68,92.94 345.88,87.65 347.70,84.38 C349.52,81.11 351.13,78.68 352.60,77.10 C354.07,75.52 355.85,75.27 356.50,74.90 L356.50,79.10 C355.85,79.37 354.07,79.38 352.60,80.70 C351.13,82.02 349.52,84.05 347.70,87.02 C345.88,89.99 343.68,95.00 341.70,98.50 C339.72,102.00 337.25,105.56 335.80,108.04 C334.35,110.52 333.97,111.25 333.00,113.36 C332.03,115.47 330.50,119.46 330.00,120.68 Z" fill="#fab947" fill-opacity="0.4" stroke="none"/>
<path d="M203.40,121.60 C203.92,119.67 205.37,113.68 206.50,110.00 C207.63,106.32 208.92,103.17 210.20,99.50 C211.48,95.83 212.88,91.58 214.20,88.00 C215.52,84.42 216.95,80.97 218.10,78.00 C219.25,75.03 220.10,72.70 221.10,70.20 C222.10,67.70 223.08,65.32 224.10,63.00 C225.12,60.68 226.18,58.33 227.20,56.30 C228.22,54.27 229.23,52.43 230.20,50.80 C231.17,49.17 232.03,47.97 233.00,46.50 C233.97,45.03 235.00,43.25 236.00,42.00 C237.00,40.75 237.87,39.75 239.00,39.00 C240.13,38.25 241.77,37.83 242.80,37.50 C243.83,37.17 244.20,37.08 245.20,37.00 C246.20,36.92 247.48,36.58 248.80,37.00 C250.12,37.42 251.67,38.48 253.10,39.50 C254.53,40.52 256.20,41.98 257.40,43.10 C258.60,44.22 259.35,46.15 260.30,46.20 C261.25,46.25 262.07,44.38 263.10,43.40 C264.13,42.42 265.32,41.40 266.50,40.30 C267.68,39.20 268.72,37.60 270.20,36.80 C271.68,36.00 273.67,35.60 275.40,35.50 C277.13,35.40 278.85,35.50 280.60,36.20 C282.35,36.90 284.15,38.40 285.90,39.70 C287.65,41.00 289.50,42.82 291.10,44.00 C292.70,45.18 294.22,45.72 295.50,46.80 C296.78,47.88 297.57,48.93 298.80,50.50 C300.03,52.07 301.58,53.98 302.90,56.20 C304.22,58.42 305.43,61.28 306.70,63.80 C307.97,66.32 308.57,66.85 310.50,71.30 C312.43,75.75 316.02,84.95 318.30,90.50 C320.58,96.05 322.25,99.60 324.20,104.60 C326.15,109.60 329.03,117.85 330.00,120.50" fill="none" stroke="#bb4f40" stroke-width="1.05" stroke-opacity="1.0" stroke-linecap="round" stroke-linejoin="round"/>
<path d="M203.40,121.60 C204.17,117.67 206.77,104.13 208.00,98.00 C209.23,91.87 209.83,89.52 210.80,84.80 C211.77,80.08 212.75,75.10 213.80,69.70 C214.85,64.30 216.22,56.25 217.10,52.40 C217.98,48.55 218.35,48.20 219.10,46.60 C219.85,45.00 220.63,43.65 221.60,42.80 C222.57,41.95 223.82,41.50 224.90,41.50 C225.98,41.50 226.92,42.13 228.10,42.80 C229.28,43.47 230.82,44.55 232.00,45.50 C233.18,46.45 234.13,47.47 235.20,48.50 C236.27,49.53 237.33,50.73 238.40,51.70 C239.47,52.67 240.42,53.42 241.60,54.30 C242.78,55.18 244.27,56.47 245.50,57.00 C246.73,57.53 247.73,57.75 249.00,57.50 C250.27,57.25 251.93,56.25 253.10,55.50 C254.27,54.75 254.80,54.55 256.00,53.00 C257.20,51.45 259.12,46.75 260.30,46.20 C261.48,45.65 262.07,48.47 263.10,49.70 C264.13,50.93 265.37,52.47 266.50,53.60 C267.63,54.73 268.77,55.83 269.90,56.50 C271.03,57.17 272.42,57.35 273.30,57.60 C274.18,57.85 273.98,58.23 275.20,58.00 C276.42,57.77 278.82,57.22 280.60,56.20 C282.38,55.18 284.15,53.35 285.90,51.90 C287.65,50.45 289.50,48.73 291.10,47.50 C292.70,46.27 294.20,45.33 295.50,44.50 C296.80,43.67 297.82,43.20 298.90,42.50 C299.98,41.80 301.03,40.75 302.00,40.30 C302.97,39.85 303.87,39.80 304.70,39.80 C305.53,39.80 306.23,40.00 307.00,40.30 C307.77,40.60 308.17,40.32 309.30,41.60 C310.43,42.88 312.28,44.97 313.80,48.00 C315.32,51.03 317.18,56.17 318.40,59.80 C319.62,63.43 320.42,67.10 321.10,69.80 C321.78,72.50 321.80,72.55 322.50,76.00 C323.20,79.45 324.23,84.57 325.30,90.50 C326.37,96.43 328.12,106.60 328.90,111.60 C329.68,116.60 329.82,119.02 330.00,120.50" fill="none" stroke="#bb4f40" stroke-width="1.05" stroke-opacity="1.0" stroke-linecap="round" stroke-linejoin="round"/>
<path d="M203.40,121.60 C204.25,119.67 206.82,113.60 208.50,110.00 C210.18,106.40 211.70,103.72 213.50,100.00 C215.30,96.28 217.63,91.28 219.30,87.70 C220.97,84.12 222.22,81.12 223.50,78.50 C224.78,75.88 225.92,73.83 227.00,72.00 C228.08,70.17 229.00,68.83 230.00,67.50 C231.00,66.17 231.95,65.05 233.00,64.00 C234.05,62.95 235.07,61.98 236.30,61.20 C237.53,60.42 239.27,59.73 240.40,59.30 C241.53,58.87 242.25,58.77 243.10,58.60 C243.95,58.43 244.52,58.27 245.50,58.30 C246.48,58.33 247.72,58.63 249.00,58.80 C250.28,58.97 251.80,59.07 253.20,59.30 C254.60,59.53 256.13,60.20 257.40,60.20 C258.67,60.20 259.67,59.35 260.80,59.30 C261.93,59.25 263.07,59.70 264.20,59.90 C265.33,60.10 266.47,60.57 267.60,60.50 C268.73,60.43 269.73,59.85 271.00,59.50 C272.27,59.15 273.70,58.35 275.20,58.40 C276.70,58.45 278.53,59.22 280.00,59.80 C281.47,60.38 282.07,61.32 284.00,61.90 C285.93,62.48 289.15,62.90 291.60,63.30 C294.05,63.70 296.63,63.42 298.70,64.30 C300.77,65.18 302.35,66.90 304.00,68.60 C305.65,70.30 307.20,72.60 308.60,74.50 C310.00,76.40 310.78,77.08 312.40,80.00 C314.02,82.92 316.33,87.83 318.30,92.00 C320.27,96.17 322.43,100.95 324.20,105.00 C325.97,109.05 327.93,113.72 328.90,116.30 C329.87,118.88 329.82,119.80 330.00,120.50" fill="none" stroke="#bb4f40" stroke-width="1.05" stroke-opacity="1.0" stroke-linecap="round" stroke-linejoin="round"/>
<path d="M330.00,120.50 C330.65,117.33 332.77,107.30 333.90,101.50 C335.03,95.70 335.82,90.95 336.80,85.70 C337.78,80.45 338.98,74.38 339.80,70.00 C340.62,65.62 340.88,62.82 341.70,59.40 C342.52,55.98 343.70,52.45 344.70,49.50 C345.70,46.55 346.72,44.00 347.70,41.70 C348.68,39.40 349.62,37.18 350.60,35.70 C351.58,34.22 352.62,33.48 353.60,32.80 C354.58,32.12 356.02,31.80 356.50,31.60" fill="none" stroke="#bb4f40" stroke-width="1.05" stroke-opacity="1.0" stroke-linecap="round" stroke-linejoin="round"/>
<path d="M330.00,120.50 C330.50,119.25 332.03,115.17 333.00,113.00 C333.97,110.83 334.35,110.07 335.80,107.50 C337.25,104.93 339.72,101.23 341.70,97.60 C343.68,93.97 345.88,88.82 347.70,85.70 C349.52,82.58 351.13,80.35 352.60,78.90 C354.07,77.45 355.85,77.32 356.50,77.00" fill="none" stroke="#bb4f40" stroke-width="1.05" stroke-opacity="1.0" stroke-linecap="round" stroke-linejoin="round"/>
</g>
<clipPath id="cpc"><rect x="34.6" y="146.4" width="152.50" height="106.90"/></clipPath>
<g clip-path="url(#cpc)">
<path d="M34.60,161.70 C35.45,161.92 37.90,162.32 39.70,163.00 C41.50,163.68 43.52,164.87 45.40,165.80 C47.28,166.73 49.12,167.68 51.00,168.60 C52.88,169.52 55.18,170.82 56.70,171.30 C58.22,171.78 58.97,172.00 60.10,171.50 C61.23,171.00 62.17,169.38 63.50,168.30 C64.83,167.22 66.35,166.08 68.10,165.00 C69.85,163.92 72.02,162.70 74.00,161.80 C75.98,160.90 77.58,159.80 80.00,159.60 C82.42,159.40 85.67,160.08 88.50,160.60 C91.33,161.12 94.52,161.82 97.00,162.70 C99.48,163.58 101.53,165.18 103.40,165.90 C105.27,166.62 106.43,167.17 108.20,167.00 C109.97,166.83 111.98,165.25 114.00,164.90 C116.02,164.55 118.18,164.55 120.30,164.90 C122.42,165.25 124.75,166.12 126.70,167.00 C128.65,167.88 130.37,169.78 132.00,170.20 C133.63,170.62 134.67,170.03 136.50,169.50 C138.33,168.97 140.88,167.77 143.00,167.00 C145.12,166.23 146.75,165.68 149.20,164.90 C151.65,164.12 155.65,162.83 157.70,162.30 C159.75,161.77 159.73,161.27 161.50,161.70 C163.27,162.13 166.28,164.02 168.30,164.90 C170.32,165.78 171.82,166.12 173.60,167.00 C175.38,167.88 177.60,169.03 179.00,170.20 C180.40,171.37 181.00,172.70 182.00,174.00 C183.00,175.30 184.08,176.83 185.00,178.00 C185.92,179.17 187.08,180.50 187.50,181.00 L187.50,184.00 C187.08,183.50 185.92,181.83 185.00,181.00 C184.08,180.17 183.37,179.67 182.00,179.00 C180.63,178.33 178.72,176.88 176.80,177.00 C174.88,177.12 173.05,179.07 170.50,179.70 C167.95,180.33 165.05,180.80 161.50,180.80 C157.95,180.80 153.37,180.23 149.20,179.70 C145.03,179.17 139.37,177.72 136.50,177.60 C133.63,177.48 134.08,178.52 132.00,179.00 C129.92,179.48 126.67,180.17 124.00,180.50 C121.33,180.83 118.67,181.08 116.00,181.00 C113.33,180.92 110.67,180.25 108.00,180.00 C105.33,179.75 103.00,179.67 100.00,179.50 C97.00,179.33 93.33,179.00 90.00,179.00 C86.67,179.00 83.33,179.33 80.00,179.50 C76.67,179.67 73.00,179.75 70.00,180.00 C67.00,180.25 64.10,180.70 62.00,181.00 C59.90,181.30 59.07,181.63 57.40,181.80 C55.73,181.97 53.57,182.10 52.00,182.00 C50.43,181.90 49.58,181.40 48.00,181.20 C46.42,181.00 44.73,180.87 42.50,180.80 C40.27,180.73 35.92,180.80 34.60,180.80 Z" fill="#fab947" fill-opacity="0.56" stroke="none"/><path d="M34.60,161.70 C35.45,161.92 37.90,162.32 39.70,163.00 C41.50,163.68 43.52,164.87 45.40,165.80 C47.28,166.73 49.12,167.68 51.00,168.60 C52.88,169.52 55.18,170.82 56.70,171.30 C58.22,171.78 58.97,172.00 60.10,171.50 C61.23,171.00 62.17,169.38 63.50,168.30 C64.83,167.22 66.35,166.08 68.10,165.00 C69.85,163.92 72.02,162.70 74.00,161.80 C75.98,160.90 77.58,159.80 80.00,159.60 C82.42,159.40 85.67,160.08 88.50,160.60 C91.33,161.12 94.52,161.82 97.00,162.70 C99.48,163.58 101.53,165.18 103.40,165.90 C105.27,166.62 106.43,167.17 108.20,167.00 C109.97,166.83 111.98,165.25 114.00,164.90 C116.02,164.55 118.18,164.55 120.30,164.90 C122.42,165.25 124.75,166.12 126.70,167.00 C128.65,167.88 130.37,169.78 132.00,170.20 C133.63,170.62 134.67,170.03 136.50,169.50 C138.33,168.97 140.88,167.77 143.00,167.00 C145.12,166.23 146.75,165.68 149.20,164.90 C151.65,164.12 155.65,162.83 157.70,162.30 C159.75,161.77 159.73,161.27 161.50,161.70 C163.27,162.13 166.28,164.02 168.30,164.90 C170.32,165.78 171.82,166.12 173.60,167.00 C175.38,167.88 177.60,169.03 179.00,170.20 C180.40,171.37 181.00,172.70 182.00,174.00 C183.00,175.30 184.08,176.83 185.00,178.00 C185.92,179.17 187.08,180.50 187.50,181.00" fill="none" stroke="#f7ac2c" stroke-width="0.6" stroke-opacity="0.9"/><path d="M187.50,184.00 C187.08,183.50 185.92,181.83 185.00,181.00 C184.08,180.17 183.37,179.67 182.00,179.00 C180.63,178.33 178.72,176.88 176.80,177.00 C174.88,177.12 173.05,179.07 170.50,179.70 C167.95,180.33 165.05,180.80 161.50,180.80 C157.95,180.80 153.37,180.23 149.20,179.70 C145.03,179.17 139.37,177.72 136.50,177.60 C133.63,177.48 134.08,178.52 132.00,179.00 C129.92,179.48 126.67,180.17 124.00,180.50 C121.33,180.83 118.67,181.08 116.00,181.00 C113.33,180.92 110.67,180.25 108.00,180.00 C105.33,179.75 103.00,179.67 100.00,179.50 C97.00,179.33 93.33,179.00 90.00,179.00 C86.67,179.00 83.33,179.33 80.00,179.50 C76.67,179.67 73.00,179.75 70.00,180.00 C67.00,180.25 64.10,180.70 62.00,181.00 C59.90,181.30 59.07,181.63 57.40,181.80 C55.73,181.97 53.57,182.10 52.00,182.00 C50.43,181.90 49.58,181.40 48.00,181.20 C46.42,181.00 44.73,180.87 42.50,180.80 C40.27,180.73 35.92,180.80 34.60,180.80" fill="none" stroke="#f7ac2c" stroke-width="0.6" stroke-opacity="0.9"/>
<path d="M55.00,178.00 C56.17,177.17 59.50,174.58 62.00,173.00 C64.50,171.42 67.00,169.58 70.00,168.50 C73.00,167.42 76.67,166.83 80.00,166.50 C83.33,166.17 86.67,166.25 90.00,166.50 C93.33,166.75 97.00,167.42 100.00,168.00 C103.00,168.58 105.33,169.67 108.00,170.00 C110.67,170.33 113.33,169.92 116.00,170.00 C118.67,170.08 121.33,170.17 124.00,170.50 C126.67,170.83 130.67,171.75 132.00,172.00 L132.00,180.00 C130.67,180.33 126.67,181.67 124.00,182.00 C121.33,182.33 118.67,182.08 116.00,182.00 C113.33,181.92 110.67,181.67 108.00,181.50 C105.33,181.33 103.00,181.25 100.00,181.00 C97.00,180.75 93.33,180.17 90.00,180.00 C86.67,179.83 83.33,179.83 80.00,180.00 C76.67,180.17 73.00,180.50 70.00,181.00 C67.00,181.50 64.50,182.17 62.00,183.00 C59.50,183.83 56.17,185.50 55.00,186.00 Z" fill="#fab947" fill-opacity="0.45" stroke="none"/><path d="M55.00,178.00 C56.17,177.17 59.50,174.58 62.00,173.00 C64.50,171.42 67.00,169.58 70.00,168.50 C73.00,167.42 76.67,166.83 80.00,166.50 C83.33,166.17 86.67,166.25 90.00,166.50 C93.33,166.75 97.00,167.42 100.00,168.00 C103.00,168.58 105.33,169.67 108.00,170.00 C110.67,170.33 113.33,169.92 116.00,170.00 C118.67,170.08 121.33,170.17 124.00,170.50 C126.67,170.83 130.67,171.75 132.00,172.00" fill="none" stroke="#f7ac2c" stroke-width="0.4" stroke-opacity="0.6"/><path d="M132.00,180.00 C130.67,180.33 126.67,181.67 124.00,182.00 C121.33,182.33 118.67,182.08 116.00,182.00 C113.33,181.92 110.67,181.67 108.00,181.50 C105.33,181.33 103.00,181.25 100.00,181.00 C97.00,180.75 93.33,180.17 90.00,180.00 C86.67,179.83 83.33,179.83 80.00,180.00 C76.67,180.17 73.00,180.50 70.00,181.00 C67.00,181.50 64.50,182.17 62.00,183.00 C59.50,183.83 56.17,185.50 55.00,186.00" fill="none" stroke="#f7ac2c" stroke-width="0.4" stroke-opacity="0.6"/>
<path d="M34.60,188.00 C35.17,188.00 36.73,188.03 38.00,188.00 C39.27,187.97 40.83,187.83 42.20,187.80 C43.57,187.77 44.85,187.68 46.20,187.80 C47.55,187.92 48.83,188.13 50.30,188.50 C51.77,188.87 53.38,189.83 55.00,190.00 C56.62,190.17 57.83,190.00 60.00,189.50 C62.17,189.00 65.25,187.55 68.00,187.00 C70.75,186.45 73.50,186.50 76.50,186.20 C79.50,185.90 82.58,186.27 86.00,185.20 C89.42,184.13 93.30,181.22 97.00,179.80 C100.70,178.38 105.02,177.58 108.20,176.70 C111.38,175.82 114.78,174.87 116.10,174.50 L116.10,178.50 C114.78,178.87 111.38,179.82 108.20,180.70 C105.02,181.58 100.70,182.38 97.00,183.80 C93.30,185.22 89.42,188.13 86.00,189.20 C82.58,190.27 79.50,189.82 76.50,190.20 C73.50,190.58 70.75,190.67 68.00,191.50 C65.25,192.33 62.17,194.08 60.00,195.20 C57.83,196.32 56.62,197.28 55.00,198.20 C53.38,199.12 51.77,199.85 50.30,200.70 C48.83,201.55 47.55,201.92 46.20,203.30 C44.85,204.68 43.57,206.75 42.20,209.00 C40.83,211.25 39.27,214.47 38.00,216.80 C36.73,219.13 35.17,221.97 34.60,223.00 Z" fill="#fab947" fill-opacity="0.75" stroke="none"/><path d="M34.60,188.00 C35.17,188.00 36.73,188.03 38.00,188.00 C39.27,187.97 40.83,187.83 42.20,187.80 C43.57,187.77 44.85,187.68 46.20,187.80 C47.55,187.92 48.83,188.13 50.30,188.50 C51.77,188.87 53.38,189.83 55.00,190.00 C56.62,190.17 57.83,190.00 60.00,189.50 C62.17,189.00 65.25,187.55 68.00,187.00 C70.75,186.45 73.50,186.50 76.50,186.20 C79.50,185.90 82.58,186.27 86.00,185.20 C89.42,184.13 93.30,181.22 97.00,179.80 C100.70,178.38 105.02,177.58 108.20,176.70 C111.38,175.82 114.78,174.87 116.10,174.50" fill="none" stroke="#f7ac2c" stroke-width="0.6" stroke-opacity="0.9"/><path d="M116.10,178.50 C114.78,178.87 111.38,179.82 108.20,180.70 C105.02,181.58 100.70,182.38 97.00,183.80 C93.30,185.22 89.42,188.13 86.00,189.20 C82.58,190.27 79.50,189.82 76.50,190.20 C73.50,190.58 70.75,190.67 68.00,191.50 C65.25,192.33 62.17,194.08 60.00,195.20 C57.83,196.32 56.62,197.28 55.00,198.20 C53.38,199.12 51.77,199.85 50.30,200.70 C48.83,201.55 47.55,201.92 46.20,203.30 C44.85,204.68 43.57,206.75 42.20,209.00 C40.83,211.25 39.27,214.47 38.00,216.80 C36.73,219.13 35.17,221.97 34.60,223.00" fill="none" stroke="#f7ac2c" stroke-width="0.6" stroke-opacity="0.9"/>
<path d="M140.00,184.00 C140.83,184.83 143.47,188.25 145.00,189.00 C146.53,189.75 147.87,188.42 149.20,188.50 C150.53,188.58 151.70,189.42 153.00,189.50 C154.30,189.58 155.58,189.17 157.00,189.00 C158.42,188.83 160.13,188.05 161.50,188.50 C162.87,188.95 164.07,190.20 165.20,191.70 C166.33,193.20 167.17,195.37 168.30,197.50 C169.43,199.63 170.72,202.67 172.00,204.50 C173.28,206.33 174.50,207.00 176.00,208.50 C177.50,210.00 179.08,212.12 181.00,213.50 C182.92,214.88 186.42,216.25 187.50,216.80 L187.50,221.80 C186.42,221.25 182.92,219.72 181.00,218.50 C179.08,217.28 177.50,215.50 176.00,214.50 C174.50,213.50 173.28,212.58 172.00,212.50 C170.72,212.42 169.43,212.87 168.30,214.00 C167.17,215.13 166.33,217.88 165.20,219.30 C164.07,220.72 162.87,222.22 161.50,222.50 C160.13,222.78 158.42,222.08 157.00,221.00 C155.58,219.92 154.30,218.33 153.00,216.00 C151.70,213.67 150.53,210.33 149.20,207.00 C147.87,203.67 146.53,199.17 145.00,196.00 C143.47,192.83 140.83,189.33 140.00,188.00 Z" fill="#fab947" fill-opacity="0.8" stroke="none"/><path d="M140.00,184.00 C140.83,184.83 143.47,188.25 145.00,189.00 C146.53,189.75 147.87,188.42 149.20,188.50 C150.53,188.58 151.70,189.42 153.00,189.50 C154.30,189.58 155.58,189.17 157.00,189.00 C158.42,188.83 160.13,188.05 161.50,188.50 C162.87,188.95 164.07,190.20 165.20,191.70 C166.33,193.20 167.17,195.37 168.30,197.50 C169.43,199.63 170.72,202.67 172.00,204.50 C173.28,206.33 174.50,207.00 176.00,208.50 C177.50,210.00 179.08,212.12 181.00,213.50 C182.92,214.88 186.42,216.25 187.50,216.80" fill="none" stroke="#f7ac2c" stroke-width="0.6" stroke-opacity="0.9"/><path d="M187.50,221.80 C186.42,221.25 182.92,219.72 181.00,218.50 C179.08,217.28 177.50,215.50 176.00,214.50 C174.50,213.50 173.28,212.58 172.00,212.50 C170.72,212.42 169.43,212.87 168.30,214.00 C167.17,215.13 166.33,217.88 165.20,219.30 C164.07,220.72 162.87,222.22 161.50,222.50 C160.13,222.78 158.42,222.08 157.00,221.00 C155.58,219.92 154.30,218.33 153.00,216.00 C151.70,213.67 150.53,210.33 149.20,207.00 C147.87,203.67 146.53,199.17 145.00,196.00 C143.47,192.83 140.83,189.33 140.00,188.00" fill="none" stroke="#f7ac2c" stroke-width="0.6" stroke-opacity="0.9"/>
<path d="M34.60,252.20 C36.17,249.86 40.77,242.98 44.00,238.16 C47.23,233.34 51.33,227.36 54.00,223.30 C56.67,219.24 58.17,216.47 60.00,213.80 C61.83,211.13 63.33,209.13 65.00,207.30 C66.67,205.47 68.33,204.13 70.00,202.80 C71.67,201.47 73.27,200.25 75.00,199.30 C76.73,198.35 78.57,197.77 80.40,197.10 C82.23,196.43 83.95,196.10 86.00,195.30 C88.05,194.50 90.70,193.47 92.70,192.30 C94.70,191.13 96.48,189.50 98.00,188.30 C99.52,187.10 100.63,185.93 101.80,185.10 C102.97,184.27 103.93,183.77 105.00,183.30 C106.07,182.83 107.67,182.47 108.20,182.30 L108.20,186.70 C107.67,186.87 106.07,187.23 105.00,187.70 C103.93,188.17 102.97,188.67 101.80,189.50 C100.63,190.33 99.52,191.50 98.00,192.70 C96.48,193.90 94.70,195.53 92.70,196.70 C90.70,197.87 88.05,198.90 86.00,199.70 C83.95,200.50 82.23,200.83 80.40,201.50 C78.57,202.17 76.73,202.75 75.00,203.70 C73.27,204.65 71.67,205.87 70.00,207.20 C68.33,208.53 66.67,209.87 65.00,211.70 C63.33,213.53 61.83,215.53 60.00,218.20 C58.17,220.87 56.67,223.99 54.00,227.70 C51.33,231.41 47.23,236.26 44.00,240.44 C40.77,244.62 36.17,250.74 34.60,252.80 Z" fill="#fab947" fill-opacity="0.5" stroke="none"/><path d="M34.60,252.20 C36.17,249.86 40.77,242.98 44.00,238.16 C47.23,233.34 51.33,227.36 54.00,223.30 C56.67,219.24 58.17,216.47 60.00,213.80 C61.83,211.13 63.33,209.13 65.00,207.30 C66.67,205.47 68.33,204.13 70.00,202.80 C71.67,201.47 73.27,200.25 75.00,199.30 C76.73,198.35 78.57,197.77 80.40,197.10 C82.23,196.43 83.95,196.10 86.00,195.30 C88.05,194.50 90.70,193.47 92.70,192.30 C94.70,191.13 96.48,189.50 98.00,188.30 C99.52,187.10 100.63,185.93 101.80,185.10 C102.97,184.27 103.93,183.77 105.00,183.30 C106.07,182.83 107.67,182.47 108.20,182.30" fill="none" stroke="#f7ac2c" stroke-width="0.5" stroke-opacity="0.9"/><path d="M108.20,186.70 C107.67,186.87 106.07,187.23 105.00,187.70 C103.93,188.17 102.97,188.67 101.80,189.50 C100.63,190.33 99.52,191.50 98.00,192.70 C96.48,193.90 94.70,195.53 92.70,196.70 C90.70,197.87 88.05,198.90 86.00,199.70 C83.95,200.50 82.23,200.83 80.40,201.50 C78.57,202.17 76.73,202.75 75.00,203.70 C73.27,204.65 71.67,205.87 70.00,207.20 C68.33,208.53 66.67,209.87 65.00,211.70 C63.33,213.53 61.83,215.53 60.00,218.20 C58.17,220.87 56.67,223.99 54.00,227.70 C51.33,231.41 47.23,236.26 44.00,240.44 C40.77,244.62 36.17,250.74 34.60,252.80" fill="none" stroke="#f7ac2c" stroke-width="0.5" stroke-opacity="0.9"/>
<path d="M34.60,252.20 C36.17,249.81 40.77,242.73 44.00,237.83 C47.23,232.93 51.00,226.89 54.00,222.80 C57.00,218.71 59.83,215.43 62.00,213.30 C64.17,211.17 65.17,210.50 67.00,210.00 C68.83,209.50 70.78,210.07 73.00,210.30 C75.22,210.53 78.47,211.48 80.30,211.40 C82.13,211.32 82.68,211.15 84.00,209.80 C85.32,208.45 86.87,205.55 88.20,203.30 C89.53,201.05 90.87,198.13 92.00,196.30 C93.13,194.47 93.92,193.55 95.00,192.30 C96.08,191.05 97.37,189.88 98.50,188.80 C99.63,187.72 100.72,186.63 101.80,185.80 C102.88,184.97 103.93,184.38 105.00,183.80 C106.07,183.22 106.70,182.05 108.20,182.30 C109.70,182.55 111.98,183.80 114.00,185.30 C116.02,186.80 118.18,189.13 120.30,191.30 C122.42,193.47 124.75,196.13 126.70,198.30 C128.65,200.47 130.37,202.13 132.00,204.30 C133.63,206.47 134.95,208.73 136.50,211.30 C138.05,213.87 139.63,217.08 141.30,219.70 C142.97,222.32 144.77,224.43 146.50,227.00 C148.23,229.57 149.95,232.42 151.70,235.12 C153.45,237.83 155.35,240.40 157.00,243.25 C158.65,246.10 160.83,250.71 161.60,252.20 L161.60,252.80 C160.83,251.46 158.65,247.24 157.00,244.75 C155.35,242.26 153.45,240.17 151.70,237.88 C149.95,235.58 148.23,233.30 146.50,231.00 C144.77,228.70 142.97,226.65 141.30,224.10 C139.63,221.55 138.05,218.27 136.50,215.70 C134.95,213.13 133.63,210.87 132.00,208.70 C130.37,206.53 128.65,204.87 126.70,202.70 C124.75,200.53 122.42,197.87 120.30,195.70 C118.18,193.53 116.02,191.20 114.00,189.70 C111.98,188.20 109.70,186.95 108.20,186.70 C106.70,186.45 106.07,187.62 105.00,188.20 C103.93,188.78 102.88,189.37 101.80,190.20 C100.72,191.03 99.63,192.12 98.50,193.20 C97.37,194.28 96.08,195.45 95.00,196.70 C93.92,197.95 93.13,198.87 92.00,200.70 C90.87,202.53 89.53,205.45 88.20,207.70 C86.87,209.95 85.32,212.85 84.00,214.20 C82.68,215.55 82.13,215.72 80.30,215.80 C78.47,215.88 75.22,214.93 73.00,214.70 C70.78,214.47 68.83,213.90 67.00,214.40 C65.17,214.90 64.17,215.57 62.00,217.70 C59.83,219.83 57.00,223.46 54.00,227.20 C51.00,230.94 47.23,235.90 44.00,240.17 C40.77,244.43 36.17,250.69 34.60,252.80 Z" fill="#fab947" fill-opacity="0.5" stroke="none"/><path d="M34.60,252.20 C36.17,249.81 40.77,242.73 44.00,237.83 C47.23,232.93 51.00,226.89 54.00,222.80 C57.00,218.71 59.83,215.43 62.00,213.30 C64.17,211.17 65.17,210.50 67.00,210.00 C68.83,209.50 70.78,210.07 73.00,210.30 C75.22,210.53 78.47,211.48 80.30,211.40 C82.13,211.32 82.68,211.15 84.00,209.80 C85.32,208.45 86.87,205.55 88.20,203.30 C89.53,201.05 90.87,198.13 92.00,196.30 C93.13,194.47 93.92,193.55 95.00,192.30 C96.08,191.05 97.37,189.88 98.50,188.80 C99.63,187.72 100.72,186.63 101.80,185.80 C102.88,184.97 103.93,184.38 105.00,183.80 C106.07,183.22 106.70,182.05 108.20,182.30 C109.70,182.55 111.98,183.80 114.00,185.30 C116.02,186.80 118.18,189.13 120.30,191.30 C122.42,193.47 124.75,196.13 126.70,198.30 C128.65,200.47 130.37,202.13 132.00,204.30 C133.63,206.47 134.95,208.73 136.50,211.30 C138.05,213.87 139.63,217.08 141.30,219.70 C142.97,222.32 144.77,224.43 146.50,227.00 C148.23,229.57 149.95,232.42 151.70,235.12 C153.45,237.83 155.35,240.40 157.00,243.25 C158.65,246.10 160.83,250.71 161.60,252.20" fill="none" stroke="#f7ac2c" stroke-width="0.5" stroke-opacity="0.9"/><path d="M161.60,252.80 C160.83,251.46 158.65,247.24 157.00,244.75 C155.35,242.26 153.45,240.17 151.70,237.88 C149.95,235.58 148.23,233.30 146.50,231.00 C144.77,228.70 142.97,226.65 141.30,224.10 C139.63,221.55 138.05,218.27 136.50,215.70 C134.95,213.13 133.63,210.87 132.00,208.70 C130.37,206.53 128.65,204.87 126.70,202.70 C124.75,200.53 122.42,197.87 120.30,195.70 C118.18,193.53 116.02,191.20 114.00,189.70 C111.98,188.20 109.70,186.95 108.20,186.70 C106.70,186.45 106.07,187.62 105.00,188.20 C103.93,188.78 102.88,189.37 101.80,190.20 C100.72,191.03 99.63,192.12 98.50,193.20 C97.37,194.28 96.08,195.45 95.00,196.70 C93.92,197.95 93.13,198.87 92.00,200.70 C90.87,202.53 89.53,205.45 88.20,207.70 C86.87,209.95 85.32,212.85 84.00,214.20 C82.68,215.55 82.13,215.72 80.30,215.80 C78.47,215.88 75.22,214.93 73.00,214.70 C70.78,214.47 68.83,213.90 67.00,214.40 C65.17,214.90 64.17,215.57 62.00,217.70 C59.83,219.83 57.00,223.46 54.00,227.20 C51.00,230.94 47.23,235.90 44.00,240.17 C40.77,244.43 36.17,250.69 34.60,252.80" fill="none" stroke="#f7ac2c" stroke-width="0.5" stroke-opacity="0.9"/>
<path d="M161.60,251.60 C162.17,250.18 163.88,245.77 165.00,243.10 C166.12,240.43 167.22,238.27 168.30,235.60 C169.38,232.93 170.45,229.88 171.50,227.10 C172.55,224.32 173.68,221.65 174.60,218.90 C175.52,216.15 176.30,213.02 177.00,210.60 C177.70,208.18 177.98,206.65 178.80,204.40 C179.62,202.15 181.03,199.40 181.90,197.10 C182.77,194.80 183.07,193.02 184.00,190.60 C184.93,188.18 186.92,183.93 187.50,182.60 L187.50,184.40 C186.92,185.73 184.93,189.98 184.00,192.40 C183.07,194.82 182.77,196.60 181.90,198.90 C181.03,201.20 179.62,203.95 178.80,206.20 C177.98,208.45 177.70,209.98 177.00,212.40 C176.30,214.82 175.52,217.95 174.60,220.70 C173.68,223.45 172.55,226.12 171.50,228.90 C170.45,231.68 169.38,234.73 168.30,237.40 C167.22,240.07 166.12,242.23 165.00,244.90 C163.88,247.57 162.17,251.98 161.60,253.40 Z" fill="#fab947" fill-opacity="0.6" stroke="none"/><path d="M161.60,251.60 C162.17,250.18 163.88,245.77 165.00,243.10 C166.12,240.43 167.22,238.27 168.30,235.60 C169.38,232.93 170.45,229.88 171.50,227.10 C172.55,224.32 173.68,221.65 174.60,218.90 C175.52,216.15 176.30,213.02 177.00,210.60 C177.70,208.18 177.98,206.65 178.80,204.40 C179.62,202.15 181.03,199.40 181.90,197.10 C182.77,194.80 183.07,193.02 184.00,190.60 C184.93,188.18 186.92,183.93 187.50,182.60" fill="none" stroke="#f7ac2c" stroke-width="0.4" stroke-opacity="0.9"/><path d="M187.50,184.40 C186.92,185.73 184.93,189.98 184.00,192.40 C183.07,194.82 182.77,196.60 181.90,198.90 C181.03,201.20 179.62,203.95 178.80,206.20 C177.98,208.45 177.70,209.98 177.00,212.40 C176.30,214.82 175.52,217.95 174.60,220.70 C173.68,223.45 172.55,226.12 171.50,228.90 C170.45,231.68 169.38,234.73 168.30,237.40 C167.22,240.07 166.12,242.23 165.00,244.90 C163.88,247.57 162.17,251.98 161.60,253.40" fill="none" stroke="#f7ac2c" stroke-width="0.4" stroke-opacity="0.9"/>
<path d="M161.60,251.60 C162.33,250.10 164.52,245.35 166.00,242.60 C167.48,239.85 169.00,237.27 170.50,235.10 C172.00,232.93 173.58,231.33 175.00,229.60 C176.42,227.87 177.67,226.12 179.00,224.70 C180.33,223.28 181.58,222.12 183.00,221.10 C184.42,220.08 186.75,219.02 187.50,218.60 L187.50,220.40 C186.75,220.82 184.42,221.88 183.00,222.90 C181.58,223.92 180.33,225.08 179.00,226.50 C177.67,227.92 176.42,229.67 175.00,231.40 C173.58,233.13 172.00,234.73 170.50,236.90 C169.00,239.07 167.48,241.65 166.00,244.40 C164.52,247.15 162.33,251.90 161.60,253.40 Z" fill="#fab947" fill-opacity="0.6" stroke="none"/><path d="M161.60,251.60 C162.33,250.10 164.52,245.35 166.00,242.60 C167.48,239.85 169.00,237.27 170.50,235.10 C172.00,232.93 173.58,231.33 175.00,229.60 C176.42,227.87 177.67,226.12 179.00,224.70 C180.33,223.28 181.58,222.12 183.00,221.10 C184.42,220.08 186.75,219.02 187.50,218.60" fill="none" stroke="#f7ac2c" stroke-width="0.4" stroke-opacity="0.9"/><path d="M187.50,220.40 C186.75,220.82 184.42,221.88 183.00,222.90 C181.58,223.92 180.33,225.08 179.00,226.50 C177.67,227.92 176.42,229.67 175.00,231.40 C173.58,233.13 172.00,234.73 170.50,236.90 C169.00,239.07 167.48,241.65 166.00,244.40 C164.52,247.15 162.33,251.90 161.60,253.40" fill="none" stroke="#f7ac2c" stroke-width="0.4" stroke-opacity="0.9"/>
<path d="M34.60,169.60 C35.92,169.85 39.77,170.50 42.50,171.10 C45.23,171.70 48.17,172.97 51.00,173.20 C53.83,173.43 56.67,172.47 59.50,172.50 C62.33,172.53 65.17,173.22 68.00,173.40 C70.83,173.58 74.43,173.63 76.50,173.60 C78.57,173.57 78.40,173.47 80.40,173.20 C82.40,172.93 85.73,172.40 88.50,172.00 C91.27,171.60 94.52,170.85 97.00,170.80 C99.48,170.75 101.53,171.23 103.40,171.70 C105.27,172.17 106.08,172.75 108.20,173.60 C110.32,174.45 113.37,175.53 116.10,176.80 C118.83,178.07 121.92,179.53 124.60,181.20 C127.28,182.87 130.05,184.80 132.20,186.80 C134.35,188.80 135.72,191.02 137.50,193.20 C139.28,195.38 141.23,197.26 142.90,199.86 C144.57,202.46 146.08,206.29 147.50,208.80 C148.92,211.31 149.87,211.77 151.40,214.90 C152.93,218.03 155.35,223.57 156.70,227.60 C158.05,231.63 158.68,234.97 159.50,239.07 C160.32,243.17 161.25,250.01 161.60,252.20 L161.60,252.80 C161.25,250.82 160.32,244.73 159.50,240.93 C158.68,237.13 158.05,233.94 156.70,230.00 C155.35,226.06 152.93,220.43 151.40,217.30 C149.87,214.17 148.92,212.93 147.50,211.20 C146.08,209.47 144.57,208.68 142.90,206.94 C141.23,205.21 139.28,202.89 137.50,200.80 C135.72,198.71 134.35,196.40 132.20,194.40 C130.05,192.40 127.28,190.47 124.60,188.80 C121.92,187.13 118.83,185.67 116.10,184.40 C113.37,183.13 110.32,182.05 108.20,181.20 C106.08,180.35 105.27,179.77 103.40,179.30 C101.53,178.83 99.48,178.35 97.00,178.40 C94.52,178.45 91.27,179.20 88.50,179.60 C85.73,180.00 82.40,180.53 80.40,180.80 C78.40,181.07 78.57,181.17 76.50,181.20 C74.43,181.23 70.83,181.18 68.00,181.00 C65.17,180.82 62.33,181.00 59.50,180.10 C56.67,179.20 53.83,176.70 51.00,175.60 C48.17,174.50 45.23,174.10 42.50,173.50 C39.77,172.90 35.92,172.25 34.60,172.00 Z" fill="#fab947" fill-opacity="0.58" stroke="none"/><path d="M34.60,169.60 C35.92,169.85 39.77,170.50 42.50,171.10 C45.23,171.70 48.17,172.97 51.00,173.20 C53.83,173.43 56.67,172.47 59.50,172.50 C62.33,172.53 65.17,173.22 68.00,173.40 C70.83,173.58 74.43,173.63 76.50,173.60 C78.57,173.57 78.40,173.47 80.40,173.20 C82.40,172.93 85.73,172.40 88.50,172.00 C91.27,171.60 94.52,170.85 97.00,170.80 C99.48,170.75 101.53,171.23 103.40,171.70 C105.27,172.17 106.08,172.75 108.20,173.60 C110.32,174.45 113.37,175.53 116.10,176.80 C118.83,178.07 121.92,179.53 124.60,181.20 C127.28,182.87 130.05,184.80 132.20,186.80 C134.35,188.80 135.72,191.02 137.50,193.20 C139.28,195.38 141.23,197.26 142.90,199.86 C144.57,202.46 146.08,206.29 147.50,208.80 C148.92,211.31 149.87,211.77 151.40,214.90 C152.93,218.03 155.35,223.57 156.70,227.60 C158.05,231.63 158.68,234.97 159.50,239.07 C160.32,243.17 161.25,250.01 161.60,252.20" fill="none" stroke="#f7ac2c" stroke-width="0.5" stroke-opacity="0.7"/><path d="M161.60,252.80 C161.25,250.82 160.32,244.73 159.50,240.93 C158.68,237.13 158.05,233.94 156.70,230.00 C155.35,226.06 152.93,220.43 151.40,217.30 C149.87,214.17 148.92,212.93 147.50,211.20 C146.08,209.47 144.57,208.68 142.90,206.94 C141.23,205.21 139.28,202.89 137.50,200.80 C135.72,198.71 134.35,196.40 132.20,194.40 C130.05,192.40 127.28,190.47 124.60,188.80 C121.92,187.13 118.83,185.67 116.10,184.40 C113.37,183.13 110.32,182.05 108.20,181.20 C106.08,180.35 105.27,179.77 103.40,179.30 C101.53,178.83 99.48,178.35 97.00,178.40 C94.52,178.45 91.27,179.20 88.50,179.60 C85.73,180.00 82.40,180.53 80.40,180.80 C78.40,181.07 78.57,181.17 76.50,181.20 C74.43,181.23 70.83,181.18 68.00,181.00 C65.17,180.82 62.33,181.00 59.50,180.10 C56.67,179.20 53.83,176.70 51.00,175.60 C48.17,174.50 45.23,174.10 42.50,173.50 C39.77,172.90 35.92,172.25 34.60,172.00" fill="none" stroke="#f7ac2c" stroke-width="0.5" stroke-opacity="0.7"/>
<path d="M34.60,204.60 C35.52,204.33 38.18,203.77 40.10,203.00 C42.02,202.23 44.08,201.57 46.10,200.00 C48.12,198.43 50.18,195.30 52.20,193.60 C54.22,191.90 56.23,190.93 58.20,189.80 C60.17,188.67 62.03,187.52 64.00,186.80 C65.97,186.08 67.92,185.90 70.00,185.50 C72.08,185.10 74.77,184.68 76.50,184.40 C78.23,184.12 78.40,184.28 80.40,183.80 C82.40,183.32 85.73,182.43 88.50,181.50 C91.27,180.57 94.52,179.12 97.00,178.20 C99.48,177.28 101.53,176.57 103.40,176.00 C105.27,175.43 106.08,175.33 108.20,174.80 C110.32,174.27 113.37,173.47 116.10,172.80 C118.83,172.13 121.95,171.30 124.60,170.80 C127.25,170.30 129.77,169.93 132.00,169.80 C134.23,169.67 135.83,169.60 138.00,170.00 C140.17,170.40 142.42,172.02 145.00,172.20 C147.58,172.38 150.73,171.47 153.50,171.10 C156.27,170.73 159.13,170.00 161.60,170.00 C164.07,170.00 166.30,171.10 168.30,171.10 C170.30,171.10 172.00,170.00 173.60,170.00 C175.20,170.00 176.48,170.22 177.90,171.10 C179.32,171.98 180.50,173.43 182.10,175.30 C183.70,177.17 186.60,181.13 187.50,182.30 L187.50,184.70 C186.60,183.53 183.70,179.57 182.10,177.70 C180.50,175.83 179.32,174.38 177.90,173.50 C176.48,172.62 175.20,172.40 173.60,172.40 C172.00,172.40 170.30,173.50 168.30,173.50 C166.30,173.50 164.07,172.40 161.60,172.40 C159.13,172.40 156.27,173.13 153.50,173.50 C150.73,173.87 147.58,173.92 145.00,174.60 C142.42,175.28 140.17,177.13 138.00,177.60 C135.83,178.07 134.23,177.27 132.00,177.40 C129.77,177.53 127.25,177.90 124.60,178.40 C121.95,178.90 118.83,179.73 116.10,180.40 C113.37,181.07 110.32,181.87 108.20,182.40 C106.08,182.93 105.27,183.03 103.40,183.60 C101.53,184.17 99.48,184.88 97.00,185.80 C94.52,186.72 91.27,188.17 88.50,189.10 C85.73,190.03 82.40,190.92 80.40,191.40 C78.40,191.88 78.23,191.72 76.50,192.00 C74.77,192.28 72.08,192.70 70.00,193.10 C67.92,193.50 65.97,193.68 64.00,194.40 C62.03,195.12 60.17,196.27 58.20,197.40 C56.23,198.53 54.22,200.37 52.20,201.20 C50.18,202.03 48.12,201.70 46.10,202.40 C44.08,203.10 42.02,204.63 40.10,205.40 C38.18,206.17 35.52,206.73 34.60,207.00 Z" fill="#fab947" fill-opacity="0.58" stroke="none"/><path d="M34.60,204.60 C35.52,204.33 38.18,203.77 40.10,203.00 C42.02,202.23 44.08,201.57 46.10,200.00 C48.12,198.43 50.18,195.30 52.20,193.60 C54.22,191.90 56.23,190.93 58.20,189.80 C60.17,188.67 62.03,187.52 64.00,186.80 C65.97,186.08 67.92,185.90 70.00,185.50 C72.08,185.10 74.77,184.68 76.50,184.40 C78.23,184.12 78.40,184.28 80.40,183.80 C82.40,183.32 85.73,182.43 88.50,181.50 C91.27,180.57 94.52,179.12 97.00,178.20 C99.48,177.28 101.53,176.57 103.40,176.00 C105.27,175.43 106.08,175.33 108.20,174.80 C110.32,174.27 113.37,173.47 116.10,172.80 C118.83,172.13 121.95,171.30 124.60,170.80 C127.25,170.30 129.77,169.93 132.00,169.80 C134.23,169.67 135.83,169.60 138.00,170.00 C140.17,170.40 142.42,172.02 145.00,172.20 C147.58,172.38 150.73,171.47 153.50,171.10 C156.27,170.73 159.13,170.00 161.60,170.00 C164.07,170.00 166.30,171.10 168.30,171.10 C170.30,171.10 172.00,170.00 173.60,170.00 C175.20,170.00 176.48,170.22 177.90,171.10 C179.32,171.98 180.50,173.43 182.10,175.30 C183.70,177.17 186.60,181.13 187.50,182.30" fill="none" stroke="#f7ac2c" stroke-width="0.5" stroke-opacity="0.7"/><path d="M187.50,184.70 C186.60,183.53 183.70,179.57 182.10,177.70 C180.50,175.83 179.32,174.38 177.90,173.50 C176.48,172.62 175.20,172.40 173.60,172.40 C172.00,172.40 170.30,173.50 168.30,173.50 C166.30,173.50 164.07,172.40 161.60,172.40 C159.13,172.40 156.27,173.13 153.50,173.50 C150.73,173.87 147.58,173.92 145.00,174.60 C142.42,175.28 140.17,177.13 138.00,177.60 C135.83,178.07 134.23,177.27 132.00,177.40 C129.77,177.53 127.25,177.90 124.60,178.40 C121.95,178.90 118.83,179.73 116.10,180.40 C113.37,181.07 110.32,181.87 108.20,182.40 C106.08,182.93 105.27,183.03 103.40,183.60 C101.53,184.17 99.48,184.88 97.00,185.80 C94.52,186.72 91.27,188.17 88.50,189.10 C85.73,190.03 82.40,190.92 80.40,191.40 C78.40,191.88 78.23,191.72 76.50,192.00 C74.77,192.28 72.08,192.70 70.00,193.10 C67.92,193.50 65.97,193.68 64.00,194.40 C62.03,195.12 60.17,196.27 58.20,197.40 C56.23,198.53 54.22,200.37 52.20,201.20 C50.18,202.03 48.12,201.70 46.10,202.40 C44.08,203.10 42.02,204.63 40.10,205.40 C38.18,206.17 35.52,206.73 34.60,207.00" fill="none" stroke="#f7ac2c" stroke-width="0.5" stroke-opacity="0.7"/>
<path d="M34.60,204.60 C35.50,204.63 38.35,204.52 40.00,204.80 C41.65,205.08 43.02,206.38 44.50,206.30 C45.98,206.22 47.12,206.72 48.90,204.30 C50.68,201.88 53.08,195.28 55.20,191.80 C57.32,188.32 59.47,185.70 61.60,183.40 C63.73,181.10 65.88,179.42 68.00,178.00 C70.12,176.58 72.25,175.63 74.30,174.90 C76.35,174.17 78.02,173.78 80.30,173.60 C82.58,173.42 85.22,173.63 88.00,173.80 C90.78,173.97 94.33,174.30 97.00,174.60 C99.67,174.90 101.88,175.28 104.00,175.60 C106.12,175.92 107.33,175.70 109.70,176.50 C112.07,177.30 115.37,178.68 118.20,180.40 C121.03,182.12 124.40,185.02 126.70,186.80 C129.00,188.58 130.28,189.62 132.00,191.10 C133.72,192.58 135.50,193.95 137.00,195.70 C138.50,197.45 139.60,199.14 141.00,201.57 C142.40,204.00 143.98,207.60 145.40,210.30 C146.82,213.00 148.10,215.02 149.50,217.80 C150.90,220.58 152.38,223.45 153.80,227.00 C155.22,230.55 156.70,234.87 158.00,239.07 C159.30,243.27 161.00,250.01 161.60,252.20 L161.60,252.80 C161.00,250.82 159.30,244.83 158.00,240.93 C156.70,237.03 155.22,232.85 153.80,229.40 C152.38,225.95 150.90,222.98 149.50,220.20 C148.10,217.42 146.82,214.66 145.40,212.70 C143.98,210.74 142.40,210.00 141.00,208.43 C139.60,206.86 138.50,204.92 137.00,203.30 C135.50,201.68 133.72,200.18 132.00,198.70 C130.28,197.22 129.00,196.18 126.70,194.40 C124.40,192.62 121.03,189.72 118.20,188.00 C115.37,186.28 112.07,184.90 109.70,184.10 C107.33,183.30 106.12,183.52 104.00,183.20 C101.88,182.88 99.67,182.50 97.00,182.20 C94.33,181.90 90.78,181.57 88.00,181.40 C85.22,181.23 82.58,181.02 80.30,181.20 C78.02,181.38 76.35,181.77 74.30,182.50 C72.25,183.23 70.12,184.18 68.00,185.60 C65.88,187.02 63.73,188.70 61.60,191.00 C59.47,193.30 57.32,196.78 55.20,199.40 C53.08,202.02 50.68,205.15 48.90,206.70 C47.12,208.25 45.98,208.62 44.50,208.70 C43.02,208.78 41.65,207.48 40.00,207.20 C38.35,206.92 35.50,207.03 34.60,207.00 Z" fill="#fab947" fill-opacity="0.58" stroke="none"/><path d="M34.60,204.60 C35.50,204.63 38.35,204.52 40.00,204.80 C41.65,205.08 43.02,206.38 44.50,206.30 C45.98,206.22 47.12,206.72 48.90,204.30 C50.68,201.88 53.08,195.28 55.20,191.80 C57.32,188.32 59.47,185.70 61.60,183.40 C63.73,181.10 65.88,179.42 68.00,178.00 C70.12,176.58 72.25,175.63 74.30,174.90 C76.35,174.17 78.02,173.78 80.30,173.60 C82.58,173.42 85.22,173.63 88.00,173.80 C90.78,173.97 94.33,174.30 97.00,174.60 C99.67,174.90 101.88,175.28 104.00,175.60 C106.12,175.92 107.33,175.70 109.70,176.50 C112.07,177.30 115.37,178.68 118.20,180.40 C121.03,182.12 124.40,185.02 126.70,186.80 C129.00,188.58 130.28,189.62 132.00,191.10 C133.72,192.58 135.50,193.95 137.00,195.70 C138.50,197.45 139.60,199.14 141.00,201.57 C142.40,204.00 143.98,207.60 145.40,210.30 C146.82,213.00 148.10,215.02 149.50,217.80 C150.90,220.58 152.38,223.45 153.80,227.00 C155.22,230.55 156.70,234.87 158.00,239.07 C159.30,243.27 161.00,250.01 161.60,252.20" fill="none" stroke="#f7ac2c" stroke-width="0.5" stroke-opacity="0.7"/><path d="M161.60,252.80 C161.00,250.82 159.30,244.83 158.00,240.93 C156.70,237.03 155.22,232.85 153.80,229.40 C152.38,225.95 150.90,222.98 149.50,220.20 C148.10,217.42 146.82,214.66 145.40,212.70 C143.98,210.74 142.40,210.00 141.00,208.43 C139.60,206.86 138.50,204.92 137.00,203.30 C135.50,201.68 133.72,200.18 132.00,198.70 C130.28,197.22 129.00,196.18 126.70,194.40 C124.40,192.62 121.03,189.72 118.20,188.00 C115.37,186.28 112.07,184.90 109.70,184.10 C107.33,183.30 106.12,183.52 104.00,183.20 C101.88,182.88 99.67,182.50 97.00,182.20 C94.33,181.90 90.78,181.57 88.00,181.40 C85.22,181.23 82.58,181.02 80.30,181.20 C78.02,181.38 76.35,181.77 74.30,182.50 C72.25,183.23 70.12,184.18 68.00,185.60 C65.88,187.02 63.73,188.70 61.60,191.00 C59.47,193.30 57.32,196.78 55.20,199.40 C53.08,202.02 50.68,205.15 48.90,206.70 C47.12,208.25 45.98,208.62 44.50,208.70 C43.02,208.78 41.65,207.48 40.00,207.20 C38.35,206.92 35.50,207.03 34.60,207.00" fill="none" stroke="#f7ac2c" stroke-width="0.5" stroke-opacity="0.7"/>
<path d="M34.60,252.20 C35.17,250.28 36.97,244.60 38.00,240.68 C39.03,236.76 39.93,232.18 40.80,228.70 C41.67,225.22 42.42,222.67 43.20,219.80 C43.98,216.93 44.78,214.00 45.50,211.50 C46.22,209.00 46.85,206.83 47.50,204.80 C48.15,202.77 48.73,201.10 49.40,199.30 C50.07,197.50 50.80,196.13 51.50,194.00 C52.20,191.87 52.88,188.47 53.60,186.50 C54.32,184.53 55.07,183.57 55.80,182.20 C56.53,180.83 57.10,179.92 58.00,178.30 C58.90,176.68 60.15,174.02 61.20,172.50 C62.25,170.98 63.17,170.08 64.30,169.20 C65.43,168.32 66.72,167.72 68.00,167.20 C69.28,166.68 70.67,166.35 72.00,166.10 C73.33,165.85 74.62,165.77 76.00,165.70 C77.38,165.63 78.22,165.70 80.30,165.70 C82.38,165.70 85.72,165.52 88.50,165.70 C91.28,165.88 93.72,166.33 97.00,166.80 C100.28,167.27 105.02,168.03 108.20,168.50 C111.38,168.97 113.37,169.22 116.10,169.60 C118.83,169.98 122.62,170.28 124.60,170.80 C126.58,171.32 126.77,171.97 128.00,172.70 C129.23,173.43 130.58,174.12 132.00,175.20 C133.42,176.28 135.00,177.70 136.50,179.20 C138.00,180.70 139.58,182.15 141.00,184.20 C142.42,186.25 143.27,188.98 145.00,191.50 C146.73,194.02 149.57,197.42 151.40,199.30 C153.23,201.18 154.30,201.97 156.00,202.80 C157.70,203.63 160.67,204.05 161.60,204.30 L161.60,206.70 C160.67,206.45 157.70,206.03 156.00,205.20 C154.30,204.37 153.23,203.58 151.40,201.70 C149.57,199.82 146.73,195.55 145.00,193.90 C143.27,192.25 142.42,192.98 141.00,191.80 C139.58,190.62 138.00,188.30 136.50,186.80 C135.00,185.30 133.42,183.88 132.00,182.80 C130.58,181.72 129.23,181.03 128.00,180.30 C126.77,179.57 126.58,178.92 124.60,178.40 C122.62,177.88 118.83,177.58 116.10,177.20 C113.37,176.82 111.38,176.57 108.20,176.10 C105.02,175.63 100.28,174.87 97.00,174.40 C93.72,173.93 91.28,173.48 88.50,173.30 C85.72,173.12 82.38,173.30 80.30,173.30 C78.22,173.30 77.38,173.23 76.00,173.30 C74.62,173.37 73.33,173.45 72.00,173.70 C70.67,173.95 69.28,174.28 68.00,174.80 C66.72,175.32 65.43,175.92 64.30,176.80 C63.17,177.68 62.25,178.58 61.20,180.10 C60.15,181.62 58.90,184.28 58.00,185.90 C57.10,187.52 56.53,188.43 55.80,189.80 C55.07,191.17 54.32,193.00 53.60,194.10 C52.88,195.20 52.20,195.13 51.50,196.40 C50.80,197.67 50.07,199.90 49.40,201.70 C48.73,203.50 48.15,205.17 47.50,207.20 C46.85,209.23 46.22,211.40 45.50,213.90 C44.78,216.40 43.98,219.33 43.20,222.20 C42.42,225.07 41.67,227.75 40.80,231.10 C39.93,234.45 39.03,238.70 38.00,242.32 C36.97,245.94 35.17,251.05 34.60,252.80 Z" fill="#fab947" fill-opacity="0.58" stroke="none"/><path d="M34.60,252.20 C35.17,250.28 36.97,244.60 38.00,240.68 C39.03,236.76 39.93,232.18 40.80,228.70 C41.67,225.22 42.42,222.67 43.20,219.80 C43.98,216.93 44.78,214.00 45.50,211.50 C46.22,209.00 46.85,206.83 47.50,204.80 C48.15,202.77 48.73,201.10 49.40,199.30 C50.07,197.50 50.80,196.13 51.50,194.00 C52.20,191.87 52.88,188.47 53.60,186.50 C54.32,184.53 55.07,183.57 55.80,182.20 C56.53,180.83 57.10,179.92 58.00,178.30 C58.90,176.68 60.15,174.02 61.20,172.50 C62.25,170.98 63.17,170.08 64.30,169.20 C65.43,168.32 66.72,167.72 68.00,167.20 C69.28,166.68 70.67,166.35 72.00,166.10 C73.33,165.85 74.62,165.77 76.00,165.70 C77.38,165.63 78.22,165.70 80.30,165.70 C82.38,165.70 85.72,165.52 88.50,165.70 C91.28,165.88 93.72,166.33 97.00,166.80 C100.28,167.27 105.02,168.03 108.20,168.50 C111.38,168.97 113.37,169.22 116.10,169.60 C118.83,169.98 122.62,170.28 124.60,170.80 C126.58,171.32 126.77,171.97 128.00,172.70 C129.23,173.43 130.58,174.12 132.00,175.20 C133.42,176.28 135.00,177.70 136.50,179.20 C138.00,180.70 139.58,182.15 141.00,184.20 C142.42,186.25 143.27,188.98 145.00,191.50 C146.73,194.02 149.57,197.42 151.40,199.30 C153.23,201.18 154.30,201.97 156.00,202.80 C157.70,203.63 160.67,204.05 161.60,204.30" fill="none" stroke="#f7ac2c" stroke-width="0.5" stroke-opacity="0.7"/><path d="M161.60,206.70 C160.67,206.45 157.70,206.03 156.00,205.20 C154.30,204.37 153.23,203.58 151.40,201.70 C149.57,199.82 146.73,195.55 145.00,193.90 C143.27,192.25 142.42,192.98 141.00,191.80 C139.58,190.62 138.00,188.30 136.50,186.80 C135.00,185.30 133.42,183.88 132.00,182.80 C130.58,181.72 129.23,181.03 128.00,180.30 C126.77,179.57 126.58,178.92 124.60,178.40 C122.62,177.88 118.83,177.58 116.10,177.20 C113.37,176.82 111.38,176.57 108.20,176.10 C105.02,175.63 100.28,174.87 97.00,174.40 C93.72,173.93 91.28,173.48 88.50,173.30 C85.72,173.12 82.38,173.30 80.30,173.30 C78.22,173.30 77.38,173.23 76.00,173.30 C74.62,173.37 73.33,173.45 72.00,173.70 C70.67,173.95 69.28,174.28 68.00,174.80 C66.72,175.32 65.43,175.92 64.30,176.80 C63.17,177.68 62.25,178.58 61.20,180.10 C60.15,181.62 58.90,184.28 58.00,185.90 C57.10,187.52 56.53,188.43 55.80,189.80 C55.07,191.17 54.32,193.00 53.60,194.10 C52.88,195.20 52.20,195.13 51.50,196.40 C50.80,197.67 50.07,199.90 49.40,201.70 C48.73,203.50 48.15,205.17 47.50,207.20 C46.85,209.23 46.22,211.40 45.50,213.90 C44.78,216.40 43.98,219.33 43.20,222.20 C42.42,225.07 41.67,227.75 40.80,231.10 C39.93,234.45 39.03,238.70 38.00,242.32 C36.97,245.94 35.17,251.05 34.60,252.80" fill="none" stroke="#f7ac2c" stroke-width="0.5" stroke-opacity="0.7"/>
<path d="M76.50,184.60 C77.15,184.62 78.05,185.03 80.40,184.70 C82.75,184.37 87.48,183.32 90.60,182.60 C93.72,181.88 96.17,181.12 99.10,180.40 C102.03,179.68 105.05,178.67 108.20,178.30 C111.35,177.93 114.70,178.02 118.00,178.20 C121.30,178.38 124.92,178.32 128.00,179.40 C131.08,180.48 133.67,182.05 136.50,184.70 C139.33,187.35 142.17,192.42 145.00,195.30 C147.83,198.18 150.73,200.50 153.50,202.00 C156.27,203.50 159.13,203.75 161.60,204.30 C164.07,204.85 166.12,204.42 168.30,205.30 C170.48,206.18 172.57,208.00 174.70,209.60 C176.83,211.20 178.97,213.45 181.10,214.90 C183.23,216.35 186.43,217.73 187.50,218.30 L187.50,220.70 C186.43,220.13 183.23,218.75 181.10,217.30 C178.97,215.85 176.83,213.60 174.70,212.00 C172.57,210.40 170.48,208.58 168.30,207.70 C166.12,206.82 164.07,207.25 161.60,206.70 C159.13,206.15 156.27,205.90 153.50,204.40 C150.73,202.90 147.83,199.72 145.00,197.70 C142.17,195.68 139.33,194.08 136.50,192.30 C133.67,190.52 131.08,188.08 128.00,187.00 C124.92,185.92 121.30,185.98 118.00,185.80 C114.70,185.62 111.35,185.53 108.20,185.90 C105.05,186.27 102.03,187.28 99.10,188.00 C96.17,188.72 93.72,189.48 90.60,190.20 C87.48,190.92 82.75,191.97 80.40,192.30 C78.05,192.63 77.15,192.22 76.50,192.20 Z" fill="#fab947" fill-opacity="0.58" stroke="none"/><path d="M76.50,184.60 C77.15,184.62 78.05,185.03 80.40,184.70 C82.75,184.37 87.48,183.32 90.60,182.60 C93.72,181.88 96.17,181.12 99.10,180.40 C102.03,179.68 105.05,178.67 108.20,178.30 C111.35,177.93 114.70,178.02 118.00,178.20 C121.30,178.38 124.92,178.32 128.00,179.40 C131.08,180.48 133.67,182.05 136.50,184.70 C139.33,187.35 142.17,192.42 145.00,195.30 C147.83,198.18 150.73,200.50 153.50,202.00 C156.27,203.50 159.13,203.75 161.60,204.30 C164.07,204.85 166.12,204.42 168.30,205.30 C170.48,206.18 172.57,208.00 174.70,209.60 C176.83,211.20 178.97,213.45 181.10,214.90 C183.23,216.35 186.43,217.73 187.50,218.30" fill="none" stroke="#f7ac2c" stroke-width="0.5" stroke-opacity="0.7"/><path d="M187.50,220.70 C186.43,220.13 183.23,218.75 181.10,217.30 C178.97,215.85 176.83,213.60 174.70,212.00 C172.57,210.40 170.48,208.58 168.30,207.70 C166.12,206.82 164.07,207.25 161.60,206.70 C159.13,206.15 156.27,205.90 153.50,204.40 C150.73,202.90 147.83,199.72 145.00,197.70 C142.17,195.68 139.33,194.08 136.50,192.30 C133.67,190.52 131.08,188.08 128.00,187.00 C124.92,185.92 121.30,185.98 118.00,185.80 C114.70,185.62 111.35,185.53 108.20,185.90 C105.05,186.27 102.03,187.28 99.10,188.00 C96.17,188.72 93.72,189.48 90.60,190.20 C87.48,190.92 82.75,191.97 80.40,192.30 C78.05,192.63 77.15,192.22 76.50,192.20" fill="none" stroke="#f7ac2c" stroke-width="0.5" stroke-opacity="0.7"/>
<path d="M34.60,170.80 C35.92,171.05 39.77,171.70 42.50,172.30 C45.23,172.90 48.17,173.73 51.00,174.40 C53.83,175.07 56.67,175.83 59.50,176.30 C62.33,176.77 65.17,177.02 68.00,177.20 C70.83,177.38 74.43,177.43 76.50,177.40 C78.57,177.37 78.40,177.27 80.40,177.00 C82.40,176.73 85.73,176.20 88.50,175.80 C91.27,175.40 94.52,174.65 97.00,174.60 C99.48,174.55 101.53,175.03 103.40,175.50 C105.27,175.97 106.08,176.55 108.20,177.40 C110.32,178.25 113.37,179.33 116.10,180.60 C118.83,181.87 121.92,183.33 124.60,185.00 C127.28,186.67 130.05,188.60 132.20,190.60 C134.35,192.60 135.72,194.87 137.50,197.00 C139.28,199.13 141.23,201.23 142.90,203.40 C144.57,205.57 146.08,207.88 147.50,210.00 C148.92,212.12 149.87,212.97 151.40,216.10 C152.93,219.23 155.35,224.82 156.70,228.80 C158.05,232.78 158.68,236.05 159.50,240.00 C160.32,243.95 161.25,250.42 161.60,252.50" fill="none" stroke="#bb4f40" stroke-width="1.05" stroke-opacity="1.0" stroke-linecap="round" stroke-linejoin="round"/>
<path d="M34.60,205.80 C35.52,205.53 38.18,204.97 40.10,204.20 C42.02,203.43 44.08,202.33 46.10,201.20 C48.12,200.07 50.18,198.67 52.20,197.40 C54.22,196.13 56.23,194.73 58.20,193.60 C60.17,192.47 62.03,191.32 64.00,190.60 C65.97,189.88 67.92,189.70 70.00,189.30 C72.08,188.90 74.77,188.48 76.50,188.20 C78.23,187.92 78.40,188.08 80.40,187.60 C82.40,187.12 85.73,186.23 88.50,185.30 C91.27,184.37 94.52,182.92 97.00,182.00 C99.48,181.08 101.53,180.37 103.40,179.80 C105.27,179.23 106.08,179.13 108.20,178.60 C110.32,178.07 113.37,177.27 116.10,176.60 C118.83,175.93 121.95,175.10 124.60,174.60 C127.25,174.10 129.77,173.73 132.00,173.60 C134.23,173.47 135.83,173.83 138.00,173.80 C140.17,173.77 142.42,173.65 145.00,173.40 C147.58,173.15 150.73,172.67 153.50,172.30 C156.27,171.93 159.13,171.20 161.60,171.20 C164.07,171.20 166.30,172.30 168.30,172.30 C170.30,172.30 172.00,171.20 173.60,171.20 C175.20,171.20 176.48,171.42 177.90,172.30 C179.32,173.18 180.50,174.63 182.10,176.50 C183.70,178.37 186.60,182.33 187.50,183.50" fill="none" stroke="#bb4f40" stroke-width="1.05" stroke-opacity="1.0" stroke-linecap="round" stroke-linejoin="round"/>
<path d="M34.60,205.80 C35.50,205.83 38.35,205.72 40.00,206.00 C41.65,206.28 43.02,207.58 44.50,207.50 C45.98,207.42 47.12,207.48 48.90,205.50 C50.68,203.52 53.08,198.65 55.20,195.60 C57.32,192.55 59.47,189.50 61.60,187.20 C63.73,184.90 65.88,183.22 68.00,181.80 C70.12,180.38 72.25,179.43 74.30,178.70 C76.35,177.97 78.02,177.58 80.30,177.40 C82.58,177.22 85.22,177.43 88.00,177.60 C90.78,177.77 94.33,178.10 97.00,178.40 C99.67,178.70 101.88,179.08 104.00,179.40 C106.12,179.72 107.33,179.50 109.70,180.30 C112.07,181.10 115.37,182.48 118.20,184.20 C121.03,185.92 124.40,188.82 126.70,190.60 C129.00,192.38 130.28,193.42 132.00,194.90 C133.72,196.38 135.50,197.82 137.00,199.50 C138.50,201.18 139.60,203.00 141.00,205.00 C142.40,207.00 143.98,209.17 145.40,211.50 C146.82,213.83 148.10,216.22 149.50,219.00 C150.90,221.78 152.38,224.70 153.80,228.20 C155.22,231.70 156.70,235.95 158.00,240.00 C159.30,244.05 161.00,250.42 161.60,252.50" fill="none" stroke="#bb4f40" stroke-width="1.05" stroke-opacity="1.0" stroke-linecap="round" stroke-linejoin="round"/>
<path d="M76.50,188.40 C77.15,188.42 78.05,188.83 80.40,188.50 C82.75,188.17 87.48,187.12 90.60,186.40 C93.72,185.68 96.17,184.92 99.10,184.20 C102.03,183.48 105.05,182.47 108.20,182.10 C111.35,181.73 114.70,181.82 118.00,182.00 C121.30,182.18 124.92,182.12 128.00,183.20 C131.08,184.28 133.67,186.28 136.50,188.50 C139.33,190.72 142.17,194.05 145.00,196.50 C147.83,198.95 150.73,201.70 153.50,203.20 C156.27,204.70 159.13,204.95 161.60,205.50 C164.07,206.05 166.12,205.62 168.30,206.50 C170.48,207.38 172.57,209.20 174.70,210.80 C176.83,212.40 178.97,214.65 181.10,216.10 C183.23,217.55 186.43,218.93 187.50,219.50" fill="none" stroke="#bb4f40" stroke-width="1.05" stroke-opacity="1.0" stroke-linecap="round" stroke-linejoin="round"/>
<path d="M34.60,252.50 C35.17,250.67 36.97,245.27 38.00,241.50 C39.03,237.73 39.93,233.32 40.80,229.90 C41.67,226.48 42.42,223.87 43.20,221.00 C43.98,218.13 44.78,215.20 45.50,212.70 C46.22,210.20 46.85,208.03 47.50,206.00 C48.15,203.97 48.73,202.30 49.40,200.50 C50.07,198.70 50.80,196.90 51.50,195.20 C52.20,193.50 52.88,191.83 53.60,190.30 C54.32,188.77 55.07,187.37 55.80,186.00 C56.53,184.63 57.10,183.72 58.00,182.10 C58.90,180.48 60.15,177.82 61.20,176.30 C62.25,174.78 63.17,173.88 64.30,173.00 C65.43,172.12 66.72,171.52 68.00,171.00 C69.28,170.48 70.67,170.15 72.00,169.90 C73.33,169.65 74.62,169.57 76.00,169.50 C77.38,169.43 78.22,169.50 80.30,169.50 C82.38,169.50 85.72,169.32 88.50,169.50 C91.28,169.68 93.72,170.13 97.00,170.60 C100.28,171.07 105.02,171.83 108.20,172.30 C111.38,172.77 113.37,173.02 116.10,173.40 C118.83,173.78 122.62,174.08 124.60,174.60 C126.58,175.12 126.77,175.77 128.00,176.50 C129.23,177.23 130.58,177.92 132.00,179.00 C133.42,180.08 135.00,181.50 136.50,183.00 C138.00,184.50 139.58,186.38 141.00,188.00 C142.42,189.62 143.27,190.62 145.00,192.70 C146.73,194.78 149.57,198.62 151.40,200.50 C153.23,202.38 154.30,203.17 156.00,204.00 C157.70,204.83 160.67,205.25 161.60,205.50" fill="none" stroke="#bb4f40" stroke-width="1.05" stroke-opacity="1.0" stroke-linecap="round" stroke-linejoin="round"/>
<path d="M161.60,252.50 C162.17,251.08 163.88,246.67 165.00,244.00 C166.12,241.33 167.22,239.17 168.30,236.50 C169.38,233.83 170.45,230.78 171.50,228.00 C172.55,225.22 173.68,222.55 174.60,219.80 C175.52,217.05 176.30,213.92 177.00,211.50 C177.70,209.08 177.98,207.55 178.80,205.30 C179.62,203.05 181.03,200.30 181.90,198.00 C182.77,195.70 183.07,193.92 184.00,191.50 C184.93,189.08 186.92,184.83 187.50,183.50" fill="none" stroke="#bb4f40" stroke-width="1.05" stroke-opacity="1.0" stroke-linecap="round" stroke-linejoin="round"/>
<path d="M161.60,252.50 C162.33,251.00 164.52,246.25 166.00,243.50 C167.48,240.75 169.00,238.17 170.50,236.00 C172.00,233.83 173.58,232.23 175.00,230.50 C176.42,228.77 177.67,227.02 179.00,225.60 C180.33,224.18 181.58,223.02 183.00,222.00 C184.42,220.98 186.75,219.92 187.50,219.50" fill="none" stroke="#bb4f40" stroke-width="1.05" stroke-opacity="1.0" stroke-linecap="round" stroke-linejoin="round"/>
<path d="M34.60,252.50 C36.17,250.30 40.77,243.80 44.00,239.30 C47.23,234.80 51.33,229.38 54.00,225.50 C56.67,221.62 58.17,218.67 60.00,216.00 C61.83,213.33 63.33,211.33 65.00,209.50 C66.67,207.67 68.33,206.33 70.00,205.00 C71.67,203.67 73.27,202.45 75.00,201.50 C76.73,200.55 78.57,199.97 80.40,199.30 C82.23,198.63 83.95,198.30 86.00,197.50 C88.05,196.70 90.70,195.67 92.70,194.50 C94.70,193.33 96.48,191.70 98.00,190.50 C99.52,189.30 100.63,188.13 101.80,187.30 C102.97,186.47 103.93,185.97 105.00,185.50 C106.07,185.03 107.67,184.67 108.20,184.50" fill="none" stroke="#bb4f40" stroke-width="1.05" stroke-opacity="1.0" stroke-linecap="round" stroke-linejoin="round"/>
<path d="M34.60,252.50 C36.17,250.25 40.77,243.58 44.00,239.00 C47.23,234.42 51.00,228.92 54.00,225.00 C57.00,221.08 59.83,217.63 62.00,215.50 C64.17,213.37 65.17,212.70 67.00,212.20 C68.83,211.70 70.78,212.27 73.00,212.50 C75.22,212.73 78.47,213.68 80.30,213.60 C82.13,213.52 82.68,213.35 84.00,212.00 C85.32,210.65 86.87,207.75 88.20,205.50 C89.53,203.25 90.87,200.33 92.00,198.50 C93.13,196.67 93.92,195.75 95.00,194.50 C96.08,193.25 97.37,192.08 98.50,191.00 C99.63,189.92 100.72,188.83 101.80,188.00 C102.88,187.17 103.93,186.58 105.00,186.00 C106.07,185.42 106.70,184.25 108.20,184.50 C109.70,184.75 111.98,186.00 114.00,187.50 C116.02,189.00 118.18,191.33 120.30,193.50 C122.42,195.67 124.75,198.33 126.70,200.50 C128.65,202.67 130.37,204.33 132.00,206.50 C133.63,208.67 134.95,210.93 136.50,213.50 C138.05,216.07 139.63,219.32 141.30,221.90 C142.97,224.48 144.77,226.57 146.50,229.00 C148.23,231.43 149.95,234.00 151.70,236.50 C153.45,239.00 155.35,241.33 157.00,244.00 C158.65,246.67 160.83,251.08 161.60,252.50" fill="none" stroke="#bb4f40" stroke-width="1.05" stroke-opacity="1.0" stroke-linecap="round" stroke-linejoin="round"/>
</g>
<clipPath id="cpd"><rect x="203.4" y="146.45" width="152.40" height="106.85"/></clipPath>
<g clip-path="url(#cpd)">
<path d="M203.40,252.70 C204.13,250.08 206.32,242.20 207.80,237.00 C209.28,231.80 210.90,227.17 212.30,221.50 C213.70,215.83 215.02,208.42 216.20,203.00 C217.38,197.58 218.17,193.53 219.40,189.00 C220.63,184.47 222.07,179.63 223.60,175.80 C225.13,171.97 226.95,168.70 228.60,166.00 C230.25,163.30 231.85,160.98 233.50,159.60 C235.15,158.22 236.87,157.70 238.50,157.70 C240.13,157.70 241.78,158.52 243.30,159.60 C244.82,160.68 246.18,162.38 247.60,164.20 C249.02,166.02 250.38,168.23 251.80,170.50 C253.22,172.77 254.68,175.52 256.10,177.80 C257.52,180.08 258.92,182.75 260.30,184.20 C261.68,185.65 262.83,186.23 264.40,186.50 C265.97,186.77 268.10,185.88 269.70,185.80 C271.30,185.72 272.42,185.78 274.00,186.00 C275.58,186.22 277.62,186.60 279.20,187.10 C280.78,187.60 282.08,188.12 283.50,189.00 C284.92,189.88 286.45,191.23 287.70,192.40 C288.95,193.57 289.93,194.90 291.00,196.00 C292.07,197.10 292.52,196.15 294.10,199.00 C295.68,201.85 298.38,207.93 300.50,213.10 C302.62,218.27 304.68,224.52 306.80,230.00 C308.92,235.48 311.77,242.30 313.20,246.00 C314.63,249.70 315.03,251.17 315.40,252.20 L315.40,252.80 C315.03,251.93 314.63,250.73 313.20,247.60 C311.77,244.47 308.92,238.58 306.80,234.00 C304.68,229.42 302.62,224.02 300.50,220.10 C298.38,216.18 295.68,212.60 294.10,210.50 C292.52,208.40 292.07,208.52 291.00,207.50 C289.93,206.48 288.95,205.32 287.70,204.40 C286.45,203.48 284.92,202.55 283.50,202.00 C282.08,201.45 280.78,201.35 279.20,201.10 C277.62,200.85 275.58,200.72 274.00,200.50 C272.42,200.28 271.30,200.47 269.70,199.80 C268.10,199.13 265.97,197.77 264.40,196.50 C262.83,195.23 261.68,193.98 260.30,192.20 C258.92,190.42 257.52,187.75 256.10,185.80 C254.68,183.85 253.22,181.77 251.80,180.50 C250.38,179.23 249.02,178.52 247.60,178.20 C246.18,177.88 244.82,178.38 243.30,178.60 C241.78,178.82 240.13,179.17 238.50,179.50 C236.87,179.83 235.15,179.93 233.50,180.60 C231.85,181.27 230.25,182.30 228.60,183.50 C226.95,184.70 225.13,185.55 223.60,187.80 C222.07,190.05 220.63,193.47 219.40,197.00 C218.17,200.53 217.38,204.25 216.20,209.00 C215.02,213.75 213.70,220.50 212.30,225.50 C210.90,230.50 209.28,234.37 207.80,239.00 C206.32,243.63 204.13,250.92 203.40,253.30 Z" fill="#fab947" fill-opacity="0.62" stroke="none"/><path d="M203.40,252.70 C204.13,250.08 206.32,242.20 207.80,237.00 C209.28,231.80 210.90,227.17 212.30,221.50 C213.70,215.83 215.02,208.42 216.20,203.00 C217.38,197.58 218.17,193.53 219.40,189.00 C220.63,184.47 222.07,179.63 223.60,175.80 C225.13,171.97 226.95,168.70 228.60,166.00 C230.25,163.30 231.85,160.98 233.50,159.60 C235.15,158.22 236.87,157.70 238.50,157.70 C240.13,157.70 241.78,158.52 243.30,159.60 C244.82,160.68 246.18,162.38 247.60,164.20 C249.02,166.02 250.38,168.23 251.80,170.50 C253.22,172.77 254.68,175.52 256.10,177.80 C257.52,180.08 258.92,182.75 260.30,184.20 C261.68,185.65 262.83,186.23 264.40,186.50 C265.97,186.77 268.10,185.88 269.70,185.80 C271.30,185.72 272.42,185.78 274.00,186.00 C275.58,186.22 277.62,186.60 279.20,187.10 C280.78,187.60 282.08,188.12 283.50,189.00 C284.92,189.88 286.45,191.23 287.70,192.40 C288.95,193.57 289.93,194.90 291.00,196.00 C292.07,197.10 292.52,196.15 294.10,199.00 C295.68,201.85 298.38,207.93 300.50,213.10 C302.62,218.27 304.68,224.52 306.80,230.00 C308.92,235.48 311.77,242.30 313.20,246.00 C314.63,249.70 315.03,251.17 315.40,252.20" fill="none" stroke="#f7ac2c" stroke-width="0.7" stroke-opacity="0.9"/><path d="M315.40,252.80 C315.03,251.93 314.63,250.73 313.20,247.60 C311.77,244.47 308.92,238.58 306.80,234.00 C304.68,229.42 302.62,224.02 300.50,220.10 C298.38,216.18 295.68,212.60 294.10,210.50 C292.52,208.40 292.07,208.52 291.00,207.50 C289.93,206.48 288.95,205.32 287.70,204.40 C286.45,203.48 284.92,202.55 283.50,202.00 C282.08,201.45 280.78,201.35 279.20,201.10 C277.62,200.85 275.58,200.72 274.00,200.50 C272.42,200.28 271.30,200.47 269.70,199.80 C268.10,199.13 265.97,197.77 264.40,196.50 C262.83,195.23 261.68,193.98 260.30,192.20 C258.92,190.42 257.52,187.75 256.10,185.80 C254.68,183.85 253.22,181.77 251.80,180.50 C250.38,179.23 249.02,178.52 247.60,178.20 C246.18,177.88 244.82,178.38 243.30,178.60 C241.78,178.82 240.13,179.17 238.50,179.50 C236.87,179.83 235.15,179.93 233.50,180.60 C231.85,181.27 230.25,182.30 228.60,183.50 C226.95,184.70 225.13,185.55 223.60,187.80 C222.07,190.05 220.63,193.47 219.40,197.00 C218.17,200.53 217.38,204.25 216.20,209.00 C215.02,213.75 213.70,220.50 212.30,225.50 C210.90,230.50 209.28,234.37 207.80,239.00 C206.32,243.63 204.13,250.92 203.40,253.30" fill="none" stroke="#f7ac2c" stroke-width="0.7" stroke-opacity="0.9"/>
<path d="M203.40,252.70 C204.47,250.17 207.67,242.62 209.80,237.50 C211.93,232.38 214.38,226.75 216.20,222.00 C218.02,217.25 219.37,212.50 220.70,209.00 C222.03,205.50 222.72,204.00 224.20,201.00 C225.68,198.00 227.67,194.70 229.60,191.00 C231.53,187.30 233.77,182.72 235.80,178.80 C237.83,174.88 239.77,170.13 241.80,167.50 C243.83,164.87 245.97,164.50 248.00,163.00 C250.03,161.50 252.33,159.58 254.00,158.50 C255.67,157.42 256.27,157.02 258.00,156.50 C259.73,155.98 262.45,155.57 264.40,155.40 C266.35,155.23 268.12,155.65 269.70,155.50 C271.28,155.35 272.32,154.57 273.90,154.50 C275.48,154.43 277.60,154.93 279.20,155.10 C280.80,155.27 282.08,154.73 283.50,155.50 C284.92,156.27 286.28,157.77 287.70,159.70 C289.12,161.63 290.58,164.43 292.00,167.10 C293.42,169.77 294.78,172.47 296.20,175.70 C297.62,178.93 299.28,182.95 300.50,186.50 C301.72,190.05 302.45,192.55 303.50,197.00 C304.55,201.45 305.37,207.00 306.80,213.20 C308.23,219.40 310.67,227.70 312.10,234.20 C313.53,240.70 314.85,249.20 315.40,252.20 L315.40,252.80 C314.85,250.28 313.53,242.80 312.10,237.70 C310.67,232.60 308.23,226.65 306.80,222.20 C305.37,217.75 304.55,213.95 303.50,211.00 C302.45,208.05 301.72,206.63 300.50,204.50 C299.28,202.37 297.62,201.10 296.20,198.20 C294.78,195.30 293.42,190.18 292.00,187.10 C290.58,184.02 289.12,181.47 287.70,179.70 C286.28,177.93 284.92,177.10 283.50,176.50 C282.08,175.90 280.80,175.43 279.20,176.10 C277.60,176.77 275.48,179.72 273.90,180.50 C272.32,181.28 271.28,180.98 269.70,180.80 C268.12,180.62 266.35,179.95 264.40,179.40 C262.45,178.85 259.73,177.98 258.00,177.50 C256.27,177.02 255.67,176.25 254.00,176.50 C252.33,176.75 250.03,177.83 248.00,179.00 C245.97,180.17 243.83,181.53 241.80,183.50 C239.77,185.47 237.83,188.38 235.80,190.80 C233.77,193.22 231.53,195.38 229.60,198.00 C227.67,200.62 225.68,204.00 224.20,206.50 C222.72,209.00 222.03,209.92 220.70,213.00 C219.37,216.08 218.02,220.58 216.20,225.00 C214.38,229.42 211.93,234.78 209.80,239.50 C207.67,244.22 204.47,251.00 203.40,253.30 Z" fill="#fab947" fill-opacity="0.62" stroke="none"/><path d="M203.40,252.70 C204.47,250.17 207.67,242.62 209.80,237.50 C211.93,232.38 214.38,226.75 216.20,222.00 C218.02,217.25 219.37,212.50 220.70,209.00 C222.03,205.50 222.72,204.00 224.20,201.00 C225.68,198.00 227.67,194.70 229.60,191.00 C231.53,187.30 233.77,182.72 235.80,178.80 C237.83,174.88 239.77,170.13 241.80,167.50 C243.83,164.87 245.97,164.50 248.00,163.00 C250.03,161.50 252.33,159.58 254.00,158.50 C255.67,157.42 256.27,157.02 258.00,156.50 C259.73,155.98 262.45,155.57 264.40,155.40 C266.35,155.23 268.12,155.65 269.70,155.50 C271.28,155.35 272.32,154.57 273.90,154.50 C275.48,154.43 277.60,154.93 279.20,155.10 C280.80,155.27 282.08,154.73 283.50,155.50 C284.92,156.27 286.28,157.77 287.70,159.70 C289.12,161.63 290.58,164.43 292.00,167.10 C293.42,169.77 294.78,172.47 296.20,175.70 C297.62,178.93 299.28,182.95 300.50,186.50 C301.72,190.05 302.45,192.55 303.50,197.00 C304.55,201.45 305.37,207.00 306.80,213.20 C308.23,219.40 310.67,227.70 312.10,234.20 C313.53,240.70 314.85,249.20 315.40,252.20" fill="none" stroke="#f7ac2c" stroke-width="0.7" stroke-opacity="0.9"/><path d="M315.40,252.80 C314.85,250.28 313.53,242.80 312.10,237.70 C310.67,232.60 308.23,226.65 306.80,222.20 C305.37,217.75 304.55,213.95 303.50,211.00 C302.45,208.05 301.72,206.63 300.50,204.50 C299.28,202.37 297.62,201.10 296.20,198.20 C294.78,195.30 293.42,190.18 292.00,187.10 C290.58,184.02 289.12,181.47 287.70,179.70 C286.28,177.93 284.92,177.10 283.50,176.50 C282.08,175.90 280.80,175.43 279.20,176.10 C277.60,176.77 275.48,179.72 273.90,180.50 C272.32,181.28 271.28,180.98 269.70,180.80 C268.12,180.62 266.35,179.95 264.40,179.40 C262.45,178.85 259.73,177.98 258.00,177.50 C256.27,177.02 255.67,176.25 254.00,176.50 C252.33,176.75 250.03,177.83 248.00,179.00 C245.97,180.17 243.83,181.53 241.80,183.50 C239.77,185.47 237.83,188.38 235.80,190.80 C233.77,193.22 231.53,195.38 229.60,198.00 C227.67,200.62 225.68,204.00 224.20,206.50 C222.72,209.00 222.03,209.92 220.70,213.00 C219.37,216.08 218.02,220.58 216.20,225.00 C214.38,229.42 211.93,234.78 209.80,239.50 C207.67,244.22 204.47,251.00 203.40,253.30" fill="none" stroke="#f7ac2c" stroke-width="0.7" stroke-opacity="0.9"/>
<path d="M203.40,252.70 C204.75,250.42 208.73,243.42 211.50,239.00 C214.27,234.58 217.75,229.78 220.00,226.20 C222.25,222.62 223.23,220.37 225.00,217.50 C226.77,214.63 228.77,211.92 230.60,209.00 C232.43,206.08 234.10,202.58 236.00,200.00 C237.90,197.42 239.67,195.37 242.00,193.50 C244.33,191.63 247.67,189.75 250.00,188.80 C252.33,187.85 253.83,188.10 256.00,187.80 C258.17,187.50 260.72,187.97 263.00,187.00 C265.28,186.03 267.87,182.50 269.70,182.00 C271.53,181.50 272.42,183.12 274.00,184.00 C275.58,184.88 277.27,185.97 279.20,187.30 C281.13,188.63 283.63,190.38 285.60,192.00 C287.57,193.62 289.58,195.42 291.00,197.00 C292.42,198.58 292.52,198.65 294.10,201.50 C295.68,204.35 298.38,209.35 300.50,214.10 C302.62,218.85 304.68,224.68 306.80,230.00 C308.92,235.32 311.77,242.30 313.20,246.00 C314.63,249.70 315.03,251.17 315.40,252.20 L315.40,252.80 C315.03,251.93 314.63,250.73 313.20,247.60 C311.77,244.47 308.92,238.58 306.80,234.00 C304.68,229.42 302.62,224.02 300.50,220.10 C298.38,216.18 295.68,212.35 294.10,210.50 C292.52,208.65 292.42,210.00 291.00,209.00 C289.58,208.00 287.57,205.53 285.60,204.50 C283.63,203.47 281.13,202.88 279.20,202.80 C277.27,202.72 275.58,203.72 274.00,204.00 C272.42,204.28 271.53,204.67 269.70,204.50 C267.87,204.33 265.28,203.53 263.00,203.00 C260.72,202.47 258.17,201.08 256.00,201.30 C253.83,201.52 252.33,203.10 250.00,204.30 C247.67,205.50 244.33,207.22 242.00,208.50 C239.67,209.78 237.90,210.75 236.00,212.00 C234.10,213.25 232.43,214.25 230.60,216.00 C228.77,217.75 226.77,220.30 225.00,222.50 C223.23,224.70 222.25,226.12 220.00,229.20 C217.75,232.28 214.27,236.98 211.50,241.00 C208.73,245.02 204.75,251.25 203.40,253.30 Z" fill="#fab947" fill-opacity="0.62" stroke="none"/><path d="M203.40,252.70 C204.75,250.42 208.73,243.42 211.50,239.00 C214.27,234.58 217.75,229.78 220.00,226.20 C222.25,222.62 223.23,220.37 225.00,217.50 C226.77,214.63 228.77,211.92 230.60,209.00 C232.43,206.08 234.10,202.58 236.00,200.00 C237.90,197.42 239.67,195.37 242.00,193.50 C244.33,191.63 247.67,189.75 250.00,188.80 C252.33,187.85 253.83,188.10 256.00,187.80 C258.17,187.50 260.72,187.97 263.00,187.00 C265.28,186.03 267.87,182.50 269.70,182.00 C271.53,181.50 272.42,183.12 274.00,184.00 C275.58,184.88 277.27,185.97 279.20,187.30 C281.13,188.63 283.63,190.38 285.60,192.00 C287.57,193.62 289.58,195.42 291.00,197.00 C292.42,198.58 292.52,198.65 294.10,201.50 C295.68,204.35 298.38,209.35 300.50,214.10 C302.62,218.85 304.68,224.68 306.80,230.00 C308.92,235.32 311.77,242.30 313.20,246.00 C314.63,249.70 315.03,251.17 315.40,252.20" fill="none" stroke="#f7ac2c" stroke-width="0.7" stroke-opacity="0.9"/><path d="M315.40,252.80 C315.03,251.93 314.63,250.73 313.20,247.60 C311.77,244.47 308.92,238.58 306.80,234.00 C304.68,229.42 302.62,224.02 300.50,220.10 C298.38,216.18 295.68,212.35 294.10,210.50 C292.52,208.65 292.42,210.00 291.00,209.00 C289.58,208.00 287.57,205.53 285.60,204.50 C283.63,203.47 281.13,202.88 279.20,202.80 C277.27,202.72 275.58,203.72 274.00,204.00 C272.42,204.28 271.53,204.67 269.70,204.50 C267.87,204.33 265.28,203.53 263.00,203.00 C260.72,202.47 258.17,201.08 256.00,201.30 C253.83,201.52 252.33,203.10 250.00,204.30 C247.67,205.50 244.33,207.22 242.00,208.50 C239.67,209.78 237.90,210.75 236.00,212.00 C234.10,213.25 232.43,214.25 230.60,216.00 C228.77,217.75 226.77,220.30 225.00,222.50 C223.23,224.70 222.25,226.12 220.00,229.20 C217.75,232.28 214.27,236.98 211.50,241.00 C208.73,245.02 204.75,251.25 203.40,253.30" fill="none" stroke="#f7ac2c" stroke-width="0.7" stroke-opacity="0.9"/>
<path d="M315.40,252.20 C315.83,250.40 316.77,246.17 318.00,241.40 C319.23,236.63 321.47,229.03 322.80,223.60 C324.13,218.17 325.08,212.98 326.00,208.80 C326.92,204.62 327.23,202.65 328.30,198.50 C329.37,194.35 331.03,189.22 332.40,183.90 C333.77,178.58 335.13,170.83 336.50,166.60 C337.87,162.37 339.23,160.17 340.60,158.50 C341.97,156.83 343.33,157.77 344.70,156.60 C346.07,155.43 347.43,152.52 348.80,151.50 C350.17,150.48 351.53,151.33 352.90,150.50 C354.27,149.67 356.32,147.17 357.00,146.50 L357.00,200.50 C356.32,198.67 354.27,193.33 352.90,189.50 C351.53,185.67 350.17,180.57 348.80,177.50 C347.43,174.43 346.07,171.77 344.70,171.10 C343.33,170.43 341.97,172.42 340.60,173.50 C339.23,174.58 337.87,175.03 336.50,177.60 C335.13,180.17 333.77,184.92 332.40,188.90 C331.03,192.88 329.37,197.78 328.30,201.50 C327.23,205.22 326.92,207.18 326.00,211.20 C325.08,215.22 324.13,220.37 322.80,225.60 C321.47,230.83 319.23,238.07 318.00,242.60 C316.77,247.13 315.83,251.10 315.40,252.80 Z" fill="#fab947" fill-opacity="0.62" stroke="none"/><path d="M315.40,252.20 C315.83,250.40 316.77,246.17 318.00,241.40 C319.23,236.63 321.47,229.03 322.80,223.60 C324.13,218.17 325.08,212.98 326.00,208.80 C326.92,204.62 327.23,202.65 328.30,198.50 C329.37,194.35 331.03,189.22 332.40,183.90 C333.77,178.58 335.13,170.83 336.50,166.60 C337.87,162.37 339.23,160.17 340.60,158.50 C341.97,156.83 343.33,157.77 344.70,156.60 C346.07,155.43 347.43,152.52 348.80,151.50 C350.17,150.48 351.53,151.33 352.90,150.50 C354.27,149.67 356.32,147.17 357.00,146.50" fill="none" stroke="#f7ac2c" stroke-width="0.7" stroke-opacity="0.9"/><path d="M357.00,200.50 C356.32,198.67 354.27,193.33 352.90,189.50 C351.53,185.67 350.17,180.57 348.80,177.50 C347.43,174.43 346.07,171.77 344.70,171.10 C343.33,170.43 341.97,172.42 340.60,173.50 C339.23,174.58 337.87,175.03 336.50,177.60 C335.13,180.17 333.77,184.92 332.40,188.90 C331.03,192.88 329.37,197.78 328.30,201.50 C327.23,205.22 326.92,207.18 326.00,211.20 C325.08,215.22 324.13,220.37 322.80,225.60 C321.47,230.83 319.23,238.07 318.00,242.60 C316.77,247.13 315.83,251.10 315.40,252.80" fill="none" stroke="#f7ac2c" stroke-width="0.7" stroke-opacity="0.9"/>
<path d="M315.40,252.20 C316.17,250.72 318.40,246.23 320.00,243.30 C321.60,240.37 323.50,237.22 325.00,234.60 C326.50,231.98 327.53,229.93 329.00,227.60 C330.47,225.27 331.90,223.15 333.80,220.60 C335.70,218.05 338.20,214.55 340.40,212.30 C342.60,210.05 345.17,207.82 347.00,207.10 C348.83,206.38 349.73,207.60 351.40,208.00 C353.07,208.40 356.07,209.25 357.00,209.50 L357.00,216.50 C356.07,216.22 353.07,215.30 351.40,214.80 C349.73,214.30 348.83,213.12 347.00,213.50 C345.17,213.88 342.60,215.32 340.40,217.10 C338.20,218.88 335.70,221.98 333.80,224.20 C331.90,226.42 330.47,228.33 329.00,230.40 C327.53,232.47 326.50,234.22 325.00,236.60 C323.50,238.98 321.60,242.00 320.00,244.70 C318.40,247.40 316.17,251.45 315.40,252.80 Z" fill="#fab947" fill-opacity="0.62" stroke="none"/><path d="M315.40,252.20 C316.17,250.72 318.40,246.23 320.00,243.30 C321.60,240.37 323.50,237.22 325.00,234.60 C326.50,231.98 327.53,229.93 329.00,227.60 C330.47,225.27 331.90,223.15 333.80,220.60 C335.70,218.05 338.20,214.55 340.40,212.30 C342.60,210.05 345.17,207.82 347.00,207.10 C348.83,206.38 349.73,207.60 351.40,208.00 C353.07,208.40 356.07,209.25 357.00,209.50" fill="none" stroke="#f7ac2c" stroke-width="0.7" stroke-opacity="0.9"/><path d="M357.00,216.50 C356.07,216.22 353.07,215.30 351.40,214.80 C349.73,214.30 348.83,213.12 347.00,213.50 C345.17,213.88 342.60,215.32 340.40,217.10 C338.20,218.88 335.70,221.98 333.80,224.20 C331.90,226.42 330.47,228.33 329.00,230.40 C327.53,232.47 326.50,234.22 325.00,236.60 C323.50,238.98 321.60,242.00 320.00,244.70 C318.40,247.40 316.17,251.45 315.40,252.80" fill="none" stroke="#f7ac2c" stroke-width="0.7" stroke-opacity="0.9"/>
<path d="M256.00,189.70 C257.00,189.00 260.00,186.53 262.00,185.50 C264.00,184.47 266.00,183.67 268.00,183.50 C270.00,183.33 272.00,183.50 274.00,184.50 C276.00,185.50 278.00,187.50 280.00,189.50 C282.00,191.50 284.33,194.47 286.00,196.50 C287.67,198.53 289.33,200.83 290.00,201.70 L290.00,202.30 C289.33,202.25 287.67,201.97 286.00,202.00 C284.33,202.03 282.00,202.42 280.00,202.50 C278.00,202.58 276.00,202.50 274.00,202.50 C272.00,202.50 270.00,203.67 268.00,202.50 C266.00,201.33 264.00,197.53 262.00,195.50 C260.00,193.47 257.00,191.17 256.00,190.30 Z" fill="#fab947" fill-opacity="0.45" stroke="none"/>
<path d="M203.40,253.00 C204.13,250.50 206.32,242.92 207.80,238.00 C209.28,233.08 210.90,228.83 212.30,223.50 C213.70,218.17 215.02,211.17 216.20,206.00 C217.38,200.83 218.17,196.53 219.40,192.50 C220.63,188.47 222.07,184.55 223.60,181.80 C225.13,179.05 226.95,177.53 228.60,176.00 C230.25,174.47 231.85,173.52 233.50,172.60 C235.15,171.68 236.87,171.00 238.50,170.50 C240.13,170.00 241.78,169.48 243.30,169.60 C244.82,169.72 246.18,170.22 247.60,171.20 C249.02,172.18 250.38,173.73 251.80,175.50 C253.22,177.27 254.68,179.68 256.10,181.80 C257.52,183.92 258.92,186.58 260.30,188.20 C261.68,189.82 262.83,190.57 264.40,191.50 C265.97,192.43 268.10,193.30 269.70,193.80 C271.30,194.30 272.42,194.20 274.00,194.50 C275.58,194.80 277.62,195.18 279.20,195.60 C280.78,196.02 282.08,196.28 283.50,197.00 C284.92,197.72 286.45,198.82 287.70,199.90 C288.95,200.98 289.93,202.40 291.00,203.50 C292.07,204.60 292.52,204.23 294.10,206.50 C295.68,208.77 298.38,212.85 300.50,217.10 C302.62,221.35 304.68,227.05 306.80,232.00 C308.92,236.95 311.77,243.38 313.20,246.80 C314.63,250.22 315.03,251.55 315.40,252.50" fill="none" stroke="#bb4f40" stroke-width="1.05" stroke-opacity="1.0" stroke-linecap="round" stroke-linejoin="round"/>
<path d="M203.40,253.00 C204.47,250.58 207.67,243.42 209.80,238.50 C211.93,233.58 214.38,228.08 216.20,223.50 C218.02,218.92 219.37,214.25 220.70,211.00 C222.03,207.75 222.72,206.67 224.20,204.00 C225.68,201.33 227.67,197.87 229.60,195.00 C231.53,192.13 233.77,189.38 235.80,186.80 C237.83,184.22 239.77,181.63 241.80,179.50 C243.83,177.37 245.97,175.33 248.00,174.00 C250.03,172.67 252.33,171.83 254.00,171.50 C255.67,171.17 256.27,171.52 258.00,172.00 C259.73,172.48 262.45,173.65 264.40,174.40 C266.35,175.15 268.12,176.32 269.70,176.50 C271.28,176.68 272.32,176.73 273.90,175.50 C275.48,174.27 277.60,170.52 279.20,169.10 C280.80,167.68 282.08,166.82 283.50,167.00 C284.92,167.18 286.28,168.43 287.70,170.20 C289.12,171.97 290.58,174.77 292.00,177.60 C293.42,180.43 294.78,183.72 296.20,187.20 C297.62,190.68 299.28,195.20 300.50,198.50 C301.72,201.80 302.45,203.55 303.50,207.00 C304.55,210.45 305.37,214.33 306.80,219.20 C308.23,224.07 310.67,230.65 312.10,236.20 C313.53,241.75 314.85,249.78 315.40,252.50" fill="none" stroke="#bb4f40" stroke-width="1.05" stroke-opacity="1.0" stroke-linecap="round" stroke-linejoin="round"/>
<path d="M203.40,253.00 C204.75,250.83 208.73,244.22 211.50,240.00 C214.27,235.78 217.75,231.03 220.00,227.70 C222.25,224.37 223.23,222.53 225.00,220.00 C226.77,217.47 228.77,214.83 230.60,212.50 C232.43,210.17 234.10,207.83 236.00,206.00 C237.90,204.17 239.67,202.87 242.00,201.50 C244.33,200.13 247.67,198.75 250.00,197.80 C252.33,196.85 253.83,196.27 256.00,195.80 C258.17,195.33 260.72,195.22 263.00,195.00 C265.28,194.78 267.87,194.50 269.70,194.50 C271.53,194.50 272.42,194.70 274.00,195.00 C275.58,195.30 277.27,195.63 279.20,196.30 C281.13,196.97 283.63,197.88 285.60,199.00 C287.57,200.12 289.58,201.75 291.00,203.00 C292.42,204.25 292.52,204.15 294.10,206.50 C295.68,208.85 298.38,212.85 300.50,217.10 C302.62,221.35 304.68,227.05 306.80,232.00 C308.92,236.95 311.77,243.38 313.20,246.80 C314.63,250.22 315.03,251.55 315.40,252.50" fill="none" stroke="#bb4f40" stroke-width="1.05" stroke-opacity="1.0" stroke-linecap="round" stroke-linejoin="round"/>
<path d="M315.40,252.50 C315.83,250.75 316.77,246.65 318.00,242.00 C319.23,237.35 321.47,229.93 322.80,224.60 C324.13,219.27 325.08,214.10 326.00,210.00 C326.92,205.90 327.23,203.85 328.30,200.00 C329.37,196.15 331.03,191.13 332.40,186.90 C333.77,182.67 335.13,177.83 336.50,174.60 C337.87,171.37 339.23,169.17 340.60,167.50 C341.97,165.83 343.33,164.60 344.70,164.60 C346.07,164.60 347.43,165.85 348.80,167.50 C350.17,169.15 351.53,172.17 352.90,174.50 C354.27,176.83 356.32,180.33 357.00,181.50" fill="none" stroke="#bb4f40" stroke-width="1.05" stroke-opacity="1.0" stroke-linecap="round" stroke-linejoin="round"/>
<path d="M315.40,252.50 C316.17,251.08 318.40,246.82 320.00,244.00 C321.60,241.18 323.50,238.10 325.00,235.60 C326.50,233.10 327.53,231.20 329.00,229.00 C330.47,226.80 331.90,224.78 333.80,222.40 C335.70,220.02 338.20,216.72 340.40,214.70 C342.60,212.68 345.17,210.85 347.00,210.30 C348.83,209.75 349.73,210.95 351.40,211.40 C353.07,211.85 356.07,212.73 357.00,213.00" fill="none" stroke="#bb4f40" stroke-width="1.05" stroke-opacity="1.0" stroke-linecap="round" stroke-linejoin="round"/>
<path d="M329.00,229.80 C329.80,228.70 331.90,225.58 333.80,223.20 C335.70,220.82 338.20,217.52 340.40,215.50 C342.60,213.48 345.17,211.65 347.00,211.10 C348.83,210.55 349.73,211.75 351.40,212.20 C353.07,212.65 356.07,213.53 357.00,213.80" fill="none" stroke="#e8821a" stroke-width="0.9" stroke-opacity="1.0" stroke-linecap="round" stroke-linejoin="round"/>
</g>
<line x1="79.3" y1="15.1" x2="79.3" y2="121.9" stroke="#404040" stroke-width="0.95" stroke-dasharray="1.1,1.5"/>
<line x1="117.4" y1="15.1" x2="117.4" y2="121.9" stroke="#404040" stroke-width="0.95" stroke-dasharray="1.1,1.5"/>
<line x1="155.0" y1="15.1" x2="155.0" y2="121.9" stroke="#404040" stroke-width="0.95" stroke-dasharray="1.1,1.5"/>
<line x1="79.3" y1="121.9" x2="79.3" y2="119.9" stroke="#3a3a3a" stroke-width="0.9"/>
<line x1="79.3" y1="15.1" x2="79.3" y2="17.1" stroke="#3a3a3a" stroke-width="0.9"/>
<line x1="117.4" y1="121.9" x2="117.4" y2="119.9" stroke="#3a3a3a" stroke-width="0.9"/>
<line x1="117.4" y1="15.1" x2="117.4" y2="17.1" stroke="#3a3a3a" stroke-width="0.9"/>
<line x1="155.0" y1="121.9" x2="155.0" y2="119.9" stroke="#3a3a3a" stroke-width="0.9"/>
<line x1="155.0" y1="15.1" x2="155.0" y2="17.1" stroke="#3a3a3a" stroke-width="0.9"/>
<line x1="34.6" y1="121.90" x2="36.6" y2="121.90" stroke="#3a3a3a" stroke-width="0.9"/>
<line x1="187.1" y1="121.90" x2="185.1" y2="121.90" stroke="#3a3a3a" stroke-width="0.9"/>
<text transform="translate(31.20,125.50) scale(1,1.2)" text-anchor="end" class="tk">0</text>
<line x1="34.6" y1="94.57" x2="36.6" y2="94.57" stroke="#3a3a3a" stroke-width="0.9"/>
<line x1="187.1" y1="94.57" x2="185.1" y2="94.57" stroke="#3a3a3a" stroke-width="0.9"/>
<text transform="translate(31.20,98.17) scale(1,1.2)" text-anchor="end" class="tk">100</text>
<line x1="34.6" y1="67.24" x2="36.6" y2="67.24" stroke="#3a3a3a" stroke-width="0.9"/>
<line x1="187.1" y1="67.24" x2="185.1" y2="67.24" stroke="#3a3a3a" stroke-width="0.9"/>
<text transform="translate(31.20,70.84) scale(1,1.2)" text-anchor="end" class="tk">200</text>
<line x1="34.6" y1="39.91" x2="36.6" y2="39.91" stroke="#3a3a3a" stroke-width="0.9"/>
<line x1="187.1" y1="39.91" x2="185.1" y2="39.91" stroke="#3a3a3a" stroke-width="0.9"/>
<text transform="translate(31.20,43.51) scale(1,1.2)" text-anchor="end" class="tk">300</text>
<rect x="34.6" y="15.1" width="152.50" height="106.80" fill="none" stroke="#3a3a3a" stroke-width="1.3"/>
<text transform="translate(34.6,132.20) scale(0.95,1.15)" text-anchor="middle" class="xl xg">Γ</text>
<text x="79.3" y="131.20" text-anchor="middle" class="xl">H</text>
<text x="117.4" y="131.20" text-anchor="middle" class="xl">P</text>
<text transform="translate(155.0,132.20) scale(0.95,1.15)" text-anchor="middle" class="xl xg">Γ</text>
<text x="187.1" y="131.20" text-anchor="middle" class="xl">N</text>
<text x="78.0" y="9.60" class="tt" letter-spacing="0.5">(a)</text>
<text x="102.5" y="9.60" class="tt" letter-spacing="0.15">Fe (bcc)</text>
<line x1="245.2" y1="15.2" x2="245.2" y2="121.6" stroke="#404040" stroke-width="0.95" stroke-dasharray="1.1,1.5"/>
<line x1="260.2" y1="15.2" x2="260.2" y2="121.6" stroke="#404040" stroke-width="0.95" stroke-dasharray="1.1,1.5"/>
<line x1="275.6" y1="15.2" x2="275.6" y2="121.6" stroke="#404040" stroke-width="0.95" stroke-dasharray="1.1,1.5"/>
<line x1="299.0" y1="15.2" x2="299.0" y2="121.6" stroke="#404040" stroke-width="0.95" stroke-dasharray="1.1,1.5"/>
<line x1="329.7" y1="15.2" x2="329.7" y2="121.6" stroke="#404040" stroke-width="0.95" stroke-dasharray="1.1,1.5"/>
<line x1="245.2" y1="121.6" x2="245.2" y2="119.6" stroke="#3a3a3a" stroke-width="0.9"/>
<line x1="245.2" y1="15.2" x2="245.2" y2="17.2" stroke="#3a3a3a" stroke-width="0.9"/>
<line x1="260.2" y1="121.6" x2="260.2" y2="119.6" stroke="#3a3a3a" stroke-width="0.9"/>
<line x1="260.2" y1="15.2" x2="260.2" y2="17.2" stroke="#3a3a3a" stroke-width="0.9"/>
<line x1="275.6" y1="121.6" x2="275.6" y2="119.6" stroke="#3a3a3a" stroke-width="0.9"/>
<line x1="275.6" y1="15.2" x2="275.6" y2="17.2" stroke="#3a3a3a" stroke-width="0.9"/>
<line x1="299.0" y1="121.6" x2="299.0" y2="119.6" stroke="#3a3a3a" stroke-width="0.9"/>
<line x1="299.0" y1="15.2" x2="299.0" y2="17.2" stroke="#3a3a3a" stroke-width="0.9"/>
<line x1="329.7" y1="121.6" x2="329.7" y2="119.6" stroke="#3a3a3a" stroke-width="0.9"/>
<line x1="329.7" y1="15.2" x2="329.7" y2="17.2" stroke="#3a3a3a" stroke-width="0.9"/>
<line x1="355.8" y1="121.60" x2="353.8" y2="121.60" stroke="#3a3a3a" stroke-width="0.9"/>
<line x1="203.4" y1="121.60" x2="205.4" y2="121.60" stroke="#3a3a3a" stroke-width="0.9"/>
<text transform="translate(359.40,125.20) scale(1,1.2)" text-anchor="start" class="tk">0</text>
<line x1="355.8" y1="94.27" x2="353.8" y2="94.27" stroke="#3a3a3a" stroke-width="0.9"/>
<line x1="203.4" y1="94.27" x2="205.4" y2="94.27" stroke="#3a3a3a" stroke-width="0.9"/>
<text transform="translate(359.40,97.87) scale(1,1.2)" text-anchor="start" class="tk">100</text>
<line x1="355.8" y1="66.94" x2="353.8" y2="66.94" stroke="#3a3a3a" stroke-width="0.9"/>
<line x1="203.4" y1="66.94" x2="205.4" y2="66.94" stroke="#3a3a3a" stroke-width="0.9"/>
<text transform="translate(359.40,70.54) scale(1,1.2)" text-anchor="start" class="tk">200</text>
<line x1="355.8" y1="39.61" x2="353.8" y2="39.61" stroke="#3a3a3a" stroke-width="0.9"/>
<line x1="203.4" y1="39.61" x2="205.4" y2="39.61" stroke="#3a3a3a" stroke-width="0.9"/>
<text transform="translate(359.40,43.21) scale(1,1.2)" text-anchor="start" class="tk">300</text>
<rect x="203.4" y="15.2" width="152.40" height="106.40" fill="none" stroke="#3a3a3a" stroke-width="1.3"/>
<text transform="translate(203.4,131.90) scale(0.95,1.15)" text-anchor="middle" class="xl xg">Γ</text>
<text x="245.2" y="130.90" text-anchor="middle" class="xl">X</text>
<text x="260.2" y="130.90" text-anchor="middle" class="xl">W</text>
<text x="275.6" y="130.90" text-anchor="middle" class="xl">X</text>
<text x="299.0" y="130.90" text-anchor="middle" class="xl">K</text>
<text transform="translate(329.7,131.90) scale(0.95,1.15)" text-anchor="middle" class="xl xg">Γ</text>
<text x="355.8" y="130.90" text-anchor="middle" class="xl">L</text>
<text x="250.0" y="9.70" class="tt" letter-spacing="0.5">(b)</text>
<text x="273.8" y="9.70" class="tt" letter-spacing="0.15">Ni (fcc)</text>
<line x1="80.4" y1="146.4" x2="80.4" y2="253.3" stroke="#404040" stroke-width="0.95" stroke-dasharray="1.1,1.5"/>
<line x1="108.0" y1="146.4" x2="108.0" y2="253.3" stroke="#404040" stroke-width="0.95" stroke-dasharray="1.1,1.5"/>
<line x1="161.6" y1="146.4" x2="161.6" y2="253.3" stroke="#404040" stroke-width="0.95" stroke-dasharray="1.1,1.5"/>
<line x1="80.4" y1="253.3" x2="80.4" y2="251.3" stroke="#3a3a3a" stroke-width="0.9"/>
<line x1="80.4" y1="146.4" x2="80.4" y2="148.4" stroke="#3a3a3a" stroke-width="0.9"/>
<line x1="108.0" y1="253.3" x2="108.0" y2="251.3" stroke="#3a3a3a" stroke-width="0.9"/>
<line x1="108.0" y1="146.4" x2="108.0" y2="148.4" stroke="#3a3a3a" stroke-width="0.9"/>
<line x1="161.6" y1="253.3" x2="161.6" y2="251.3" stroke="#3a3a3a" stroke-width="0.9"/>
<line x1="161.6" y1="146.4" x2="161.6" y2="148.4" stroke="#3a3a3a" stroke-width="0.9"/>
<line x1="34.6" y1="253.30" x2="36.6" y2="253.30" stroke="#3a3a3a" stroke-width="0.9"/>
<line x1="187.1" y1="253.30" x2="185.1" y2="253.30" stroke="#3a3a3a" stroke-width="0.9"/>
<text transform="translate(31.20,256.90) scale(1,1.2)" text-anchor="end" class="tk">0</text>
<line x1="34.6" y1="225.97" x2="36.6" y2="225.97" stroke="#3a3a3a" stroke-width="0.9"/>
<line x1="187.1" y1="225.97" x2="185.1" y2="225.97" stroke="#3a3a3a" stroke-width="0.9"/>
<text transform="translate(31.20,229.57) scale(1,1.2)" text-anchor="end" class="tk">100</text>
<line x1="34.6" y1="198.64" x2="36.6" y2="198.64" stroke="#3a3a3a" stroke-width="0.9"/>
<line x1="187.1" y1="198.64" x2="185.1" y2="198.64" stroke="#3a3a3a" stroke-width="0.9"/>
<text transform="translate(31.20,202.24) scale(1,1.2)" text-anchor="end" class="tk">200</text>
<line x1="34.6" y1="171.31" x2="36.6" y2="171.31" stroke="#3a3a3a" stroke-width="0.9"/>
<line x1="187.1" y1="171.31" x2="185.1" y2="171.31" stroke="#3a3a3a" stroke-width="0.9"/>
<text transform="translate(31.20,174.91) scale(1,1.2)" text-anchor="end" class="tk">300</text>
<rect x="34.6" y="146.4" width="152.50" height="106.90" fill="none" stroke="#3a3a3a" stroke-width="1.3"/>
<text transform="translate(34.6,263.60) scale(0.95,1.15)" text-anchor="middle" class="xl xg">Γ</text>
<text x="80.4" y="262.60" text-anchor="middle" class="xl">M</text>
<text x="108.0" y="262.60" text-anchor="middle" class="xl">K</text>
<text transform="translate(161.6,263.60) scale(0.95,1.15)" text-anchor="middle" class="xl xg">Γ</text>
<text x="187.1" y="262.60" text-anchor="middle" class="xl">A</text>
<text x="77.4" y="140.90" class="tt" letter-spacing="0.5">(c)</text>
<text x="100.4" y="140.90" class="tt" letter-spacing="0.15">Co (hcp)</text>
<line x1="269.8" y1="146.45" x2="269.8" y2="253.3" stroke="#404040" stroke-width="0.95" stroke-dasharray="1.1,1.5"/>
<line x1="315.4" y1="146.45" x2="315.4" y2="253.3" stroke="#404040" stroke-width="0.95" stroke-dasharray="1.1,1.5"/>
<line x1="269.8" y1="253.3" x2="269.8" y2="251.3" stroke="#3a3a3a" stroke-width="0.9"/>
<line x1="269.8" y1="146.45" x2="269.8" y2="148.45" stroke="#3a3a3a" stroke-width="0.9"/>
<line x1="315.4" y1="253.3" x2="315.4" y2="251.3" stroke="#3a3a3a" stroke-width="0.9"/>
<line x1="315.4" y1="146.45" x2="315.4" y2="148.45" stroke="#3a3a3a" stroke-width="0.9"/>
<line x1="355.8" y1="253.30" x2="353.8" y2="253.30" stroke="#3a3a3a" stroke-width="0.9"/>
<line x1="203.4" y1="253.30" x2="205.4" y2="253.30" stroke="#3a3a3a" stroke-width="0.9"/>
<text transform="translate(359.40,256.90) scale(1,1.2)" text-anchor="start" class="tk">0</text>
<line x1="355.8" y1="225.97" x2="353.8" y2="225.97" stroke="#3a3a3a" stroke-width="0.9"/>
<line x1="203.4" y1="225.97" x2="205.4" y2="225.97" stroke="#3a3a3a" stroke-width="0.9"/>
<text transform="translate(359.40,229.57) scale(1,1.2)" text-anchor="start" class="tk">100</text>
<line x1="355.8" y1="198.64" x2="353.8" y2="198.64" stroke="#3a3a3a" stroke-width="0.9"/>
<line x1="203.4" y1="198.64" x2="205.4" y2="198.64" stroke="#3a3a3a" stroke-width="0.9"/>
<text transform="translate(359.40,202.24) scale(1,1.2)" text-anchor="start" class="tk">200</text>
<line x1="355.8" y1="171.31" x2="353.8" y2="171.31" stroke="#3a3a3a" stroke-width="0.9"/>
<line x1="203.4" y1="171.31" x2="205.4" y2="171.31" stroke="#3a3a3a" stroke-width="0.9"/>
<text transform="translate(359.40,174.91) scale(1,1.2)" text-anchor="start" class="tk">300</text>
<rect x="203.4" y="146.45" width="152.40" height="106.85" fill="none" stroke="#3a3a3a" stroke-width="1.3"/>
<text transform="translate(203.4,263.60) scale(0.95,1.15)" text-anchor="middle" class="xl xg">Γ</text>
<text x="269.8" y="262.60" text-anchor="middle" class="xl">X</text>
<text transform="translate(315.4,263.60) scale(0.95,1.15)" text-anchor="middle" class="xl xg">Γ</text>
<text x="355.8" y="262.60" text-anchor="middle" class="xl">L</text>
<text x="247.8" y="140.95" class="tt" letter-spacing="0.5">(d)</text>
<text x="271.5" y="140.95" class="tt" letter-spacing="0.15">Co (fcc)</text>
<text transform="translate(8.8,69.6) rotate(-90) scale(1.06,1)" text-anchor="middle" class="yl">Frequency (cm<tspan dy="-3.5" font-size="6.5px">−1</tspan><tspan dy="3.5">)</tspan></text>
<text transform="translate(8.8,200.2) rotate(-90) scale(1.06,1)" text-anchor="middle" class="yl">Frequency (cm<tspan dy="-3.5" font-size="6.5px">−1</tspan><tspan dy="3.5">)</tspan></text>
<line x1="244.8" y1="90.7" x2="261.6" y2="90.7" stroke="#a455c4" stroke-width="1"/>
<line x1="244.8" y1="103.7" x2="261.6" y2="103.7" stroke="#fcc76e" stroke-width="1"/>
<text x="268.6" y="93.8" class="lg">FM</text><path d="M283.6,94.6 V91.6" stroke="#333" stroke-width="0.8"/><path d="M282.3,92.3 L284.9,92.3 L283.6,90.3 Z" fill="#333"/>
<text x="268.6" y="106.8" class="lg">FM</text><path d="M283.6,103.4 V106.4" stroke="#333" stroke-width="0.8"/><path d="M282.3,105.7 L284.9,105.7 L283.6,107.7 Z" fill="#333"/>
</svg>
</body></html>
